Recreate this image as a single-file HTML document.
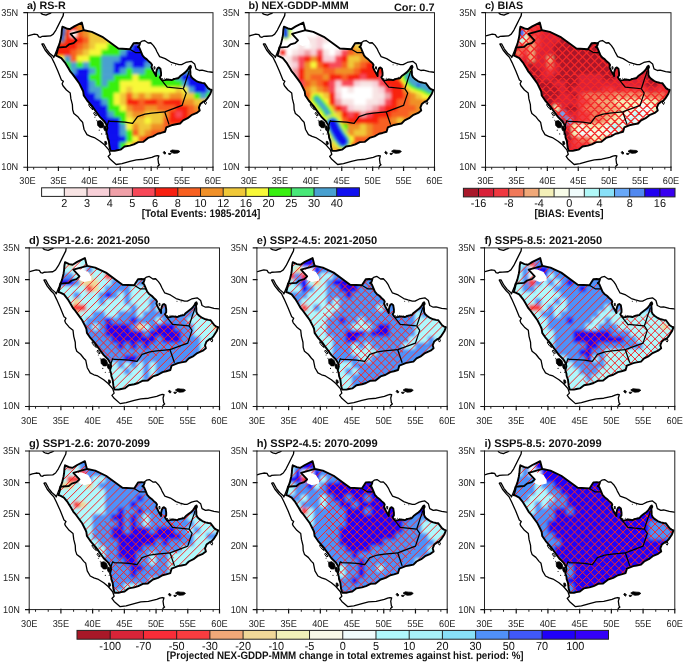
<!DOCTYPE html><html><head><meta charset="utf-8"><style>html,body{margin:0;padding:0;background:#fff;}svg{display:block;}text{font-family:"Liberation Sans",sans-serif;text-rendering:geometricPrecision;}svg{opacity:0.999}</style></head><body>
<svg width="685" height="663" viewBox="0 0 685 663">
<rect width="685" height="663" fill="#fff"/>
<defs><filter id="bl" x="-5%" y="-5%" width="110%" height="110%"><feGaussianBlur stdDeviation="1.6"/></filter></defs>
<defs><clipPath id="landa"><path d="M58.17 47.2 L59.53 43.61 L60.89 38.05 L61.51 34.34 L61.82 30.01 L62.43 26.61 L66.45 28.47 L69.85 29.08 L74.24 26.36 L81.79 22.59 L83.52 29.27 L84.14 30.2 L91.8 31.87 L102.31 36.81 L118.39 48.56 L129.83 49.18 L133.6 43.31 L136.94 43 L140.03 43.49 L139.1 46.09 L137.87 47.02 L139.41 47.94 L141.39 52.58 L142.5 55.36 L144.36 57.53 L146.83 59.38 L149 61.55 L151.16 63.4 L152.09 64.95 L151.47 67.11 L152.4 69.27 L153.32 71.13 L154.56 73.29 L156.11 76.08 L156.11 72.68 L156.72 70.2 L157.65 68.04 L158.89 67.42 L160.43 68.66 L161.05 72.68 L161.05 75.46 L159.82 77.31 L161.05 79.17 L162.29 80.4 L164.76 80.09 L167.85 79.48 L171.56 80.09 L174.66 78.86 L178.37 78.24 L180.22 76.08 L182.69 74.22 L185.17 72.37 L187.02 70.51 L188.57 68.35 L189.49 66.49 L190.55 65.75 L191.04 67.11 L190.11 68.97 L190.42 72.06 L190.42 74.84 L191.35 77 L193.2 78.86 L196.3 81.02 L199.39 82.26 L202.11 82.88 L204.33 83.19 L206.19 85.66 L208.04 88.13 L209.9 89.37 L211.75 89.99 L210.21 94.01 L207.18 98.64 L205.26 100.81 L203.47 101.61 L200.38 103.9 L198.89 107.61 L199.76 110.58 L196.73 112.93 L191.41 115.21 L187.64 118.18 L183.13 120.41 L180.1 123.5 L175.89 124.3 L172.49 124.98 L166.31 127.46 L165.07 131.72 L161.05 132.96 L157.53 133.76 L153.01 136.36 L148.07 137.97 L143.12 141.92 L138.3 142.17 L133.85 144.4 L129.89 145.63 L124.57 146.56 L120.49 149.65 L117.15 150.27 L114.68 150.89 L110.66 150.89 L109.55 146.99 L108.87 141.18 L107.57 137.6 L107.38 135.31 L106.33 132.03 L107.38 128.01 L106.64 125.11 L104.48 121.46 L100.15 117.19 L95.82 111.32 L92.11 106.06 L87.17 100.5 L83.77 95.55 L83.15 91.22 L81.91 88.75 L79.13 83.19 L76.78 79.91 L72.33 73.91 L70.41 71.69 L68.31 68.04 L66.76 65.5 L64.97 62.6 L61.32 58.08 L57.8 56.29 L55.94 55.67 L56.87 52.89 L57.8 49.18 Z"/></clipPath>
<clipPath id="fra"><rect x="27.5" y="12.7" width="185.49" height="154.57"/></clipPath></defs>
<g clip-path="url(#landa)"><g filter="url(#bl)">
<rect x="51.93" y="18.58" width="19.15" height="6.78" fill="#f82010"/>
<rect x="70.48" y="18.58" width="6.78" height="6.78" fill="#f86020"/>
<rect x="76.66" y="18.58" width="12.97" height="6.78" fill="#f09028"/>
<rect x="89.03" y="18.58" width="124.26" height="6.78" fill="#f0c838"/>
<rect x="51.93" y="24.77" width="25.33" height="6.78" fill="#f82010"/>
<rect x="76.66" y="24.77" width="12.97" height="6.78" fill="#f09028"/>
<rect x="89.03" y="24.77" width="124.26" height="6.78" fill="#f0c838"/>
<rect x="51.93" y="30.95" width="19.15" height="6.78" fill="#f82010"/>
<rect x="70.48" y="30.95" width="6.78" height="6.78" fill="#ffffff"/>
<rect x="76.66" y="30.95" width="6.78" height="6.78" fill="#f86020"/>
<rect x="82.85" y="30.95" width="6.78" height="6.78" fill="#f09028"/>
<rect x="89.03" y="30.95" width="124.26" height="6.78" fill="#f0c838"/>
<rect x="51.93" y="37.13" width="31.52" height="6.78" fill="#f82010"/>
<rect x="82.85" y="37.13" width="6.78" height="6.78" fill="#f86020"/>
<rect x="89.03" y="37.13" width="19.15" height="6.78" fill="#f0c838"/>
<rect x="107.58" y="37.13" width="105.71" height="6.78" fill="#f8f838"/>
<rect x="51.93" y="43.31" width="25.33" height="6.78" fill="#f82010"/>
<rect x="76.66" y="43.31" width="6.78" height="6.78" fill="#f86020"/>
<rect x="82.85" y="43.31" width="6.78" height="6.78" fill="#f09028"/>
<rect x="89.03" y="43.31" width="6.78" height="6.78" fill="#f0c838"/>
<rect x="95.21" y="43.31" width="12.97" height="6.78" fill="#f8f838"/>
<rect x="107.58" y="43.31" width="19.15" height="6.78" fill="#38f010"/>
<rect x="126.13" y="43.31" width="6.78" height="6.78" fill="#48a0d0"/>
<rect x="132.31" y="43.31" width="80.98" height="6.78" fill="#1010f0"/>
<rect x="51.93" y="49.5" width="19.15" height="6.78" fill="#f82010"/>
<rect x="70.48" y="49.5" width="6.78" height="6.78" fill="#f86020"/>
<rect x="76.66" y="49.5" width="6.78" height="6.78" fill="#f09028"/>
<rect x="82.85" y="49.5" width="6.78" height="6.78" fill="#f0c838"/>
<rect x="89.03" y="49.5" width="12.97" height="6.78" fill="#f8f838"/>
<rect x="101.4" y="49.5" width="19.15" height="6.78" fill="#38f010"/>
<rect x="119.95" y="49.5" width="6.78" height="6.78" fill="#48a0d0"/>
<rect x="126.13" y="49.5" width="87.16" height="6.78" fill="#1010f0"/>
<rect x="51.93" y="55.68" width="12.97" height="6.78" fill="#f8f838"/>
<rect x="64.3" y="55.68" width="6.78" height="6.78" fill="#48a0d0"/>
<rect x="70.48" y="55.68" width="6.78" height="6.78" fill="#f86020"/>
<rect x="76.66" y="55.68" width="12.97" height="6.78" fill="#f8f838"/>
<rect x="89.03" y="55.68" width="12.97" height="6.78" fill="#38f010"/>
<rect x="101.4" y="55.68" width="19.15" height="6.78" fill="#48a0d0"/>
<rect x="119.95" y="55.68" width="93.34" height="6.78" fill="#1010f0"/>
<rect x="51.93" y="61.86" width="19.15" height="6.78" fill="#38f010"/>
<rect x="70.48" y="61.86" width="6.78" height="6.78" fill="#48a0d0"/>
<rect x="76.66" y="61.86" width="6.78" height="6.78" fill="#38f010"/>
<rect x="82.85" y="61.86" width="6.78" height="6.78" fill="#48a0d0"/>
<rect x="89.03" y="61.86" width="12.97" height="6.78" fill="#38f010"/>
<rect x="101.4" y="61.86" width="12.97" height="6.78" fill="#48a0d0"/>
<rect x="113.76" y="61.86" width="12.97" height="6.78" fill="#1010f0"/>
<rect x="126.13" y="61.86" width="6.78" height="6.78" fill="#48a0d0"/>
<rect x="132.31" y="61.86" width="12.97" height="6.78" fill="#1010f0"/>
<rect x="144.68" y="61.86" width="68.61" height="6.78" fill="#48a0d0"/>
<rect x="51.93" y="68.05" width="19.15" height="6.78" fill="#38f010"/>
<rect x="70.48" y="68.05" width="6.78" height="6.78" fill="#48a0d0"/>
<rect x="76.66" y="68.05" width="12.97" height="6.78" fill="#1010f0"/>
<rect x="89.03" y="68.05" width="6.78" height="6.78" fill="#48a0d0"/>
<rect x="95.21" y="68.05" width="6.78" height="6.78" fill="#38f010"/>
<rect x="101.4" y="68.05" width="12.97" height="6.78" fill="#48a0d0"/>
<rect x="113.76" y="68.05" width="6.78" height="6.78" fill="#1010f0"/>
<rect x="119.95" y="68.05" width="6.78" height="6.78" fill="#48a0d0"/>
<rect x="126.13" y="68.05" width="6.78" height="6.78" fill="#38f010"/>
<rect x="132.31" y="68.05" width="12.97" height="6.78" fill="#48a0d0"/>
<rect x="144.68" y="68.05" width="12.97" height="6.78" fill="#38f010"/>
<rect x="157.04" y="68.05" width="56.25" height="6.78" fill="#48a0d0"/>
<rect x="51.93" y="74.23" width="37.7" height="6.78" fill="#1010f0"/>
<rect x="89.03" y="74.23" width="12.97" height="6.78" fill="#38f010"/>
<rect x="101.4" y="74.23" width="12.97" height="6.78" fill="#48a0d0"/>
<rect x="113.76" y="74.23" width="19.15" height="6.78" fill="#38f010"/>
<rect x="132.31" y="74.23" width="6.78" height="6.78" fill="#f8f838"/>
<rect x="138.49" y="74.23" width="37.7" height="6.78" fill="#38f010"/>
<rect x="175.59" y="74.23" width="6.78" height="6.78" fill="#48a0d0"/>
<rect x="181.77" y="74.23" width="31.52" height="6.78" fill="#1010f0"/>
<rect x="51.93" y="80.41" width="37.7" height="6.78" fill="#1010f0"/>
<rect x="89.03" y="80.41" width="6.78" height="6.78" fill="#48a0d0"/>
<rect x="95.21" y="80.41" width="6.78" height="6.78" fill="#38f010"/>
<rect x="101.4" y="80.41" width="6.78" height="6.78" fill="#48a0d0"/>
<rect x="107.58" y="80.41" width="12.97" height="6.78" fill="#38f010"/>
<rect x="119.95" y="80.41" width="31.52" height="6.78" fill="#f8f838"/>
<rect x="150.86" y="80.41" width="31.52" height="6.78" fill="#38f010"/>
<rect x="181.77" y="80.41" width="6.78" height="6.78" fill="#48a0d0"/>
<rect x="187.96" y="80.41" width="25.33" height="6.78" fill="#1010f0"/>
<rect x="51.93" y="86.6" width="37.7" height="6.78" fill="#1010f0"/>
<rect x="89.03" y="86.6" width="12.97" height="6.78" fill="#48a0d0"/>
<rect x="101.4" y="86.6" width="19.15" height="6.78" fill="#38f010"/>
<rect x="119.95" y="86.6" width="6.78" height="6.78" fill="#f8f838"/>
<rect x="126.13" y="86.6" width="6.78" height="6.78" fill="#f0c838"/>
<rect x="132.31" y="86.6" width="43.88" height="6.78" fill="#f8f838"/>
<rect x="175.59" y="86.6" width="6.78" height="6.78" fill="#f0c838"/>
<rect x="181.77" y="86.6" width="6.78" height="6.78" fill="#f8f838"/>
<rect x="187.96" y="86.6" width="6.78" height="6.78" fill="#48a0d0"/>
<rect x="194.14" y="86.6" width="12.97" height="6.78" fill="#1010f0"/>
<rect x="206.51" y="86.6" width="6.78" height="6.78" fill="#48a0d0"/>
<rect x="51.93" y="92.78" width="43.88" height="6.78" fill="#1010f0"/>
<rect x="95.21" y="92.78" width="6.78" height="6.78" fill="#48a0d0"/>
<rect x="101.4" y="92.78" width="12.97" height="6.78" fill="#38f010"/>
<rect x="113.76" y="92.78" width="6.78" height="6.78" fill="#f8f838"/>
<rect x="119.95" y="92.78" width="6.78" height="6.78" fill="#f0c838"/>
<rect x="126.13" y="92.78" width="6.78" height="6.78" fill="#f86020"/>
<rect x="132.31" y="92.78" width="6.78" height="6.78" fill="#f0c838"/>
<rect x="138.49" y="92.78" width="6.78" height="6.78" fill="#f09028"/>
<rect x="144.68" y="92.78" width="6.78" height="6.78" fill="#f0c838"/>
<rect x="150.86" y="92.78" width="12.97" height="6.78" fill="#f09028"/>
<rect x="163.23" y="92.78" width="6.78" height="6.78" fill="#f0c838"/>
<rect x="169.41" y="92.78" width="12.97" height="6.78" fill="#f09028"/>
<rect x="181.77" y="92.78" width="12.97" height="6.78" fill="#f0c838"/>
<rect x="194.14" y="92.78" width="6.78" height="6.78" fill="#38f010"/>
<rect x="200.32" y="92.78" width="6.78" height="6.78" fill="#48a0d0"/>
<rect x="206.51" y="92.78" width="6.78" height="6.78" fill="#38f010"/>
<rect x="51.93" y="98.96" width="50.06" height="6.78" fill="#1010f0"/>
<rect x="101.4" y="98.96" width="6.78" height="6.78" fill="#48a0d0"/>
<rect x="107.58" y="98.96" width="6.78" height="6.78" fill="#38f010"/>
<rect x="113.76" y="98.96" width="6.78" height="6.78" fill="#f8f838"/>
<rect x="119.95" y="98.96" width="6.78" height="6.78" fill="#f0c838"/>
<rect x="126.13" y="98.96" width="12.97" height="6.78" fill="#f82010"/>
<rect x="138.49" y="98.96" width="6.78" height="6.78" fill="#f86020"/>
<rect x="144.68" y="98.96" width="12.97" height="6.78" fill="#f82010"/>
<rect x="157.04" y="98.96" width="6.78" height="6.78" fill="#f86020"/>
<rect x="163.23" y="98.96" width="19.15" height="6.78" fill="#f82010"/>
<rect x="181.77" y="98.96" width="12.97" height="6.78" fill="#f09028"/>
<rect x="194.14" y="98.96" width="19.15" height="6.78" fill="#f0c838"/>
<rect x="51.93" y="105.15" width="56.25" height="6.78" fill="#1010f0"/>
<rect x="107.58" y="105.15" width="12.97" height="6.78" fill="#38f010"/>
<rect x="119.95" y="105.15" width="6.78" height="6.78" fill="#f8f838"/>
<rect x="126.13" y="105.15" width="6.78" height="6.78" fill="#f09028"/>
<rect x="132.31" y="105.15" width="12.97" height="6.78" fill="#f86020"/>
<rect x="144.68" y="105.15" width="12.97" height="6.78" fill="#f09028"/>
<rect x="157.04" y="105.15" width="19.15" height="6.78" fill="#f86020"/>
<rect x="175.59" y="105.15" width="12.97" height="6.78" fill="#f82010"/>
<rect x="187.96" y="105.15" width="6.78" height="6.78" fill="#f86020"/>
<rect x="194.14" y="105.15" width="19.15" height="6.78" fill="#f09028"/>
<rect x="51.93" y="111.33" width="56.25" height="6.78" fill="#1010f0"/>
<rect x="107.58" y="111.33" width="6.78" height="6.78" fill="#48a0d0"/>
<rect x="113.76" y="111.33" width="12.97" height="6.78" fill="#38f010"/>
<rect x="126.13" y="111.33" width="6.78" height="6.78" fill="#f0c838"/>
<rect x="132.31" y="111.33" width="12.97" height="6.78" fill="#f09028"/>
<rect x="144.68" y="111.33" width="19.15" height="6.78" fill="#f0c838"/>
<rect x="163.23" y="111.33" width="6.78" height="6.78" fill="#f09028"/>
<rect x="169.41" y="111.33" width="6.78" height="6.78" fill="#f82010"/>
<rect x="175.59" y="111.33" width="6.78" height="6.78" fill="#f84858"/>
<rect x="181.77" y="111.33" width="6.78" height="6.78" fill="#f82010"/>
<rect x="187.96" y="111.33" width="25.33" height="6.78" fill="#f86020"/>
<rect x="51.93" y="117.51" width="68.61" height="6.78" fill="#1010f0"/>
<rect x="119.95" y="117.51" width="6.78" height="6.78" fill="#38f010"/>
<rect x="126.13" y="117.51" width="6.78" height="6.78" fill="#f8f838"/>
<rect x="132.31" y="117.51" width="12.97" height="6.78" fill="#f0c838"/>
<rect x="144.68" y="117.51" width="6.78" height="6.78" fill="#f8f838"/>
<rect x="150.86" y="117.51" width="12.97" height="6.78" fill="#f0c838"/>
<rect x="163.23" y="117.51" width="6.78" height="6.78" fill="#f86020"/>
<rect x="169.41" y="117.51" width="43.88" height="6.78" fill="#f82010"/>
<rect x="51.93" y="123.69" width="68.61" height="6.78" fill="#1010f0"/>
<rect x="119.95" y="123.69" width="6.78" height="6.78" fill="#48a0d0"/>
<rect x="126.13" y="123.69" width="6.78" height="6.78" fill="#f8f838"/>
<rect x="132.31" y="123.69" width="6.78" height="6.78" fill="#f09028"/>
<rect x="138.49" y="123.69" width="12.97" height="6.78" fill="#f0c838"/>
<rect x="150.86" y="123.69" width="12.97" height="6.78" fill="#f09028"/>
<rect x="163.23" y="123.69" width="50.06" height="6.78" fill="#f86020"/>
<rect x="51.93" y="129.88" width="68.61" height="6.78" fill="#1010f0"/>
<rect x="119.95" y="129.88" width="6.78" height="6.78" fill="#48a0d0"/>
<rect x="126.13" y="129.88" width="6.78" height="6.78" fill="#38f010"/>
<rect x="132.31" y="129.88" width="6.78" height="6.78" fill="#f86020"/>
<rect x="138.49" y="129.88" width="6.78" height="6.78" fill="#f0c838"/>
<rect x="144.68" y="129.88" width="6.78" height="6.78" fill="#f09028"/>
<rect x="150.86" y="129.88" width="62.43" height="6.78" fill="#f86020"/>
<rect x="51.93" y="136.06" width="74.8" height="6.78" fill="#1010f0"/>
<rect x="126.13" y="136.06" width="6.78" height="6.78" fill="#38f010"/>
<rect x="132.31" y="136.06" width="6.78" height="6.78" fill="#f8f838"/>
<rect x="138.49" y="136.06" width="6.78" height="6.78" fill="#f86020"/>
<rect x="144.68" y="136.06" width="68.61" height="6.78" fill="#f82010"/>
<rect x="51.93" y="142.24" width="68.61" height="6.78" fill="#1010f0"/>
<rect x="119.95" y="142.24" width="6.78" height="6.78" fill="#38f010"/>
<rect x="126.13" y="142.24" width="6.78" height="6.78" fill="#f8f838"/>
<rect x="132.31" y="142.24" width="80.98" height="6.78" fill="#f86020"/>
<rect x="51.93" y="148.43" width="68.61" height="6.78" fill="#1010f0"/>
<rect x="119.95" y="148.43" width="93.34" height="6.78" fill="#48a0d0"/>
<path d="M63.98 27.85 L63.05 34.34 L62.25 40.52" fill="none" stroke="#38f010" stroke-width="4.64" stroke-linecap="round" stroke-linejoin="round"/>
<path d="M63.98 27.85 L63.05 34.34 L62.25 40.52" fill="none" stroke="#1010f0" stroke-width="2.78" stroke-linecap="round" stroke-linejoin="round"/>
</g>
</g>
<g clip-path="url(#fra)" fill="none" stroke="#000" stroke-linejoin="round">
<path d="M26.88 36.2 L30.59 35.02 L34.24 34.16 L37.39 34.59 L38.75 36.88 L40.55 37.31 L41.91 36.44 L45.06 36.26 L50.5 35.95 L53.22 34.16 L55.94 30.07 L58.66 24.63 L61.32 19.25 L63.18 15.61 L63.61 12.08" stroke-width="1.3"/>
<path d="M40.48 12.08 L41.41 13.63 L42.83 14.43 L45.99 15.17 L48.71 13.94 L50.38 13.32 L51.86 12.08" stroke-width="1.3"/>
<path d="M57.8 46.83 L56.81 49.98 L55.01 54.5 L53.78 57.53 L53.22 56.29 L49.57 53.14 L46.42 49.06 L43.58 43.8 L42.34 43.8 L41.91 44.11 L45.06 49.98 L48.71 54.5 L51.43 57.22 L54.09 62.6 L57.73 70.76 L61.44 79.91 L63.36 81.33 L62.12 83.8 L62.93 85.72 L66.45 89.99 L70.22 93.08 L70.9 98.89 L72.39 104.7 L72.64 109.77 L73.87 113.48 L77.58 116.39 L80.67 120.28 L82.59 122.2 L84.07 129.5 L86.98 134.57 L90.57 136.36 L94.28 137.53 L100.09 141.18 L104.48 144.83 L108.87 149.9 L110.29 154.29 L108.13 156.45 L110.29 159.36 L116.16 164.49 L121.98 163.57 L129.89 161.4 L136.32 159.86 L143.74 159.24 L151.78 157.38 L154.87 156.15 L157.22 155.53 L158.89 155.84 L157.96 158.99 L158.58 163.57 L159.51 164.8 L157.96 166.04 L157.34 168.51" stroke-width="1.3"/>
<path d="M138.79 43.61 L141.89 41.14 L144.54 40.52 L148.07 43 L150.73 42.75 L153.45 45.59 L155.49 48.56 L156.97 51.78 L159.63 56.6 L165.13 58.58 L170.64 62.04 L174.72 63.4 L178.98 64.64 L181.64 64.64 L185.78 62.47 L188.44 61.85 L191.23 61.36 L194.63 64.02 L195.99 68.84 L199.39 70.51 L202.11 70.2 L207.61 71.62 L212.37 72.24 L214.23 72.68" stroke-width="1.3"/>
<path d="M153.94 66.8 L154.99 66.8 L154.87 69.27 L154.25 68.97 Z" stroke-width="1" fill="#fff"/>
<path d="M204.95 101.12 L206.5 102.35 L205.57 104.52 L204.33 102.97 Z" stroke-width="1" fill="#fff"/>
<path d="M88.71 104.21 L91.18 106.06 L93.04 109.77 L91.18 108.54 L89.02 105.75 Z" stroke-width="1" fill="#fff"/>
<path d="M94.28 112.25 L96.75 115.34 L95.51 115.96 L93.66 113.48 Z" stroke-width="1" fill="#fff"/>
<path d="M170.02 151.2 L172.18 149.96 L175.27 150.27 L178.37 150.46 L179.91 151.51 L177.75 153.05 L174.04 153.36 L171.56 152.44 Z" stroke-width="0.8" fill="#000"/>
<path d="M163.22 152.74 L164.14 151.2 L166 153.05 L164.76 154.29 Z" stroke-width="0.8" fill="#000"/>
<path d="M168.47 153.36 L171.25 153.36 L170.33 154.6 L168.78 154.41 Z" stroke-width="0.8" fill="#000"/>
<path d="M97.37 121.21 L100.46 120.59 L102.93 122.45 L103.86 125.23 L102.62 127.7 L99.84 127.7 L97.68 125.23 Z" stroke-width="0.8" fill="#000"/>
<path d="M103.55 126.47 L105.41 125.85 L106.33 128.32 L106.02 130.8 L104.79 130.8 L103.86 128.94 Z" stroke-width="0.8" fill="#000"/>
<path d="M104.79 141.31 L106.33 141.62 L106.95 144.09 L105.41 145.02 L104.79 143.16 Z" stroke-width="0.8" fill="#000"/>
<circle cx="105.41" cy="133.89" r="0.5" fill="#000" stroke="none"/>
<circle cx="69.54" cy="70.2" r="0.5" fill="#000" stroke="none"/>
<circle cx="71.4" cy="72.68" r="0.5" fill="#000" stroke="none"/>
<circle cx="82.53" cy="90.61" r="0.5" fill="#000" stroke="none"/>
<circle cx="99.22" cy="130.18" r="0.56" fill="#000" stroke="none"/>
<circle cx="101.7" cy="133.89" r="0.56" fill="#000" stroke="none"/>
<circle cx="96.75" cy="120.28" r="0.5" fill="#000" stroke="none"/>
<circle cx="94.89" cy="117.19" r="0.5" fill="#000" stroke="none"/>
<circle cx="166.62" cy="78.86" r="0.5" fill="#000" stroke="none"/>
<circle cx="170.33" cy="79.17" r="0.5" fill="#000" stroke="none"/>
<circle cx="175.89" cy="78.24" r="0.5" fill="#000" stroke="none"/>
<circle cx="175.58" cy="65.07" r="0.5" fill="#000" stroke="none"/>
<circle cx="171.56" cy="64.64" r="0.5" fill="#000" stroke="none"/>
<circle cx="164.76" cy="78.24" r="0.5" fill="#000" stroke="none"/>
<circle cx="162.29" cy="78.55" r="0.5" fill="#000" stroke="none"/>
<circle cx="173.42" cy="78.55" r="0.5" fill="#000" stroke="none"/>
<circle cx="177.13" cy="77.31" r="0.5" fill="#000" stroke="none"/>
<path d="M84.14 30.2 L70.47 33.97 L76.53 40.4 L73.63 43.06 L68.93 44.48 L66.08 46.83 L60.27 47.32 L58.11 47.45" stroke-width="1.8"/>
<path d="M129.83 49.18 L135.39 52.58 L141.39 52.64" stroke-width="1.25"/>
<path d="M161.05 79.17 L163.53 82.57 L167.24 87.21 L183.31 88.75" stroke-width="1.25"/>
<path d="M183.31 88.75 L186.22 93.08 L183.81 100.13 L182.07 105.45 L164.76 111.94" stroke-width="1.25"/>
<path d="M183.31 88.75 L185.17 83.19 L186.53 78.86 L188.44 73.54 L189.12 70.82" stroke-width="1.25"/>
<path d="M164.76 111.94 L151.78 113.17 L144.98 114.1 L137.56 116.57 L132.61 123.38 L124.88 122.2 L117.15 121.64 L110.35 121.46 L108.87 120.72 L107.88 123.38 L106.95 126.47" stroke-width="1.25"/>
<path d="M164.76 111.94 L169.09 124.67" stroke-width="1.25"/>
<path d="M58.17 47.2 L59.53 43.61 L60.89 38.05 L61.51 34.34 L61.82 30.01 L62.43 26.61 L66.45 28.47 L69.85 29.08 L74.24 26.36 L81.79 22.59 L83.52 29.27 L84.14 30.2 L91.8 31.87 L102.31 36.81 L118.39 48.56 L129.83 49.18 L133.6 43.31 L136.94 43 L140.03 43.49 L139.1 46.09 L137.87 47.02 L139.41 47.94 L141.39 52.58 L142.5 55.36 L144.36 57.53 L146.83 59.38 L149 61.55 L151.16 63.4 L152.09 64.95 L151.47 67.11 L152.4 69.27 L153.32 71.13 L154.56 73.29 L156.11 76.08 L156.11 72.68 L156.72 70.2 L157.65 68.04 L158.89 67.42 L160.43 68.66 L161.05 72.68 L161.05 75.46 L159.82 77.31 L161.05 79.17 L162.29 80.4 L164.76 80.09 L167.85 79.48 L171.56 80.09 L174.66 78.86 L178.37 78.24 L180.22 76.08 L182.69 74.22 L185.17 72.37 L187.02 70.51 L188.57 68.35 L189.49 66.49 L190.55 65.75 L191.04 67.11 L190.11 68.97 L190.42 72.06 L190.42 74.84 L191.35 77 L193.2 78.86 L196.3 81.02 L199.39 82.26 L202.11 82.88 L204.33 83.19 L206.19 85.66 L208.04 88.13 L209.9 89.37 L211.75 89.99 L210.21 94.01 L207.18 98.64 L205.26 100.81 L203.47 101.61 L200.38 103.9 L198.89 107.61 L199.76 110.58 L196.73 112.93 L191.41 115.21 L187.64 118.18 L183.13 120.41 L180.1 123.5 L175.89 124.3 L172.49 124.98 L166.31 127.46 L165.07 131.72 L161.05 132.96 L157.53 133.76 L153.01 136.36 L148.07 137.97 L143.12 141.92 L138.3 142.17 L133.85 144.4 L129.89 145.63 L124.57 146.56 L120.49 149.65 L117.15 150.27 L114.68 150.89 L110.66 150.89 L109.55 146.99 L108.87 141.18 L107.57 137.6 L107.38 135.31 L106.33 132.03 L107.38 128.01 L106.64 125.11 L104.48 121.46 L100.15 117.19 L95.82 111.32 L92.11 106.06 L87.17 100.5 L83.77 95.55 L83.15 91.22 L81.91 88.75 L79.13 83.19 L76.78 79.91 L72.33 73.91 L70.41 71.69 L68.31 68.04 L66.76 65.5 L64.97 62.6 L61.32 58.08 L57.8 56.29 L55.94 55.67 L56.87 52.89 L57.8 49.18 Z" stroke-width="1.9"/>
</g>
<rect x="27.5" y="12.7" width="185.49" height="154.57" fill="none" stroke="#222" stroke-width="1"/>
<path d="M27.5 166.47 v4.6 M58.41 166.47 v4.6 M89.33 166.47 v4.6 M120.25 166.47 v4.6 M151.16 166.47 v4.6 M182.07 166.47 v4.6 M212.99 166.47 v4.6 M28.1 167.27 h-4.8 M28.1 136.36 h-4.8 M28.1 105.45 h-4.8 M28.1 74.53 h-4.8 M28.1 43.61 h-4.8 M28.1 12.7 h-4.8" stroke="#111" stroke-width="1.2" fill="none"/>
<path d="M33.68 167.27 v2.2 M46.05 167.27 v2.2 M70.78 167.27 v2.2 M83.15 167.27 v2.2 M95.51 167.27 v2.2 M107.88 167.27 v2.2 M132.61 167.27 v2.2 M144.98 167.27 v2.2 M157.34 167.27 v2.2 M169.71 167.27 v2.2 M194.44 167.27 v2.2 M206.81 167.27 v2.2" stroke="#222" stroke-width="1" fill="none"/>
<g font-size="9.2" fill="#222"><text transform="translate(27.5 184.47) scale(1 1.08)" text-anchor="middle">30E</text><text transform="translate(58.41 184.47) scale(1 1.08)" text-anchor="middle">35E</text><text transform="translate(89.33 184.47) scale(1 1.08)" text-anchor="middle">40E</text><text transform="translate(120.25 184.47) scale(1 1.08)" text-anchor="middle">45E</text><text transform="translate(151.16 184.47) scale(1 1.08)" text-anchor="middle">50E</text><text transform="translate(182.07 184.47) scale(1 1.08)" text-anchor="middle">55E</text><text transform="translate(212.99 184.47) scale(1 1.08)" text-anchor="middle">60E</text><text transform="translate(18.2 170.27) scale(1 1.08)" text-anchor="end">10N</text><text transform="translate(18.2 139.36) scale(1 1.08)" text-anchor="end">15N</text><text transform="translate(18.2 108.45) scale(1 1.08)" text-anchor="end">20N</text><text transform="translate(18.2 77.53) scale(1 1.08)" text-anchor="end">25N</text><text transform="translate(18.2 46.61) scale(1 1.08)" text-anchor="end">30N</text><text transform="translate(18.2 15.7) scale(1 1.08)" text-anchor="end">35N</text></g>
<text x="26.9" y="8.8" font-size="10.75" font-weight="bold" fill="#111">a) RS-R</text>
<defs><clipPath id="landb"><path d="M279.67 47.2 L281.03 43.61 L282.39 38.05 L283.01 34.34 L283.32 30.01 L283.93 26.61 L287.95 28.47 L291.35 29.08 L295.74 26.36 L303.29 22.59 L305.02 29.27 L305.64 30.2 L313.3 31.87 L323.81 36.81 L339.89 48.56 L351.33 49.18 L355.1 43.31 L358.44 43 L361.53 43.49 L360.6 46.09 L359.37 47.02 L360.91 47.94 L362.89 52.58 L364 55.36 L365.86 57.53 L368.33 59.38 L370.5 61.55 L372.66 63.4 L373.59 64.95 L372.97 67.11 L373.9 69.27 L374.82 71.13 L376.06 73.29 L377.61 76.08 L377.61 72.68 L378.22 70.2 L379.15 68.04 L380.39 67.42 L381.93 68.66 L382.55 72.68 L382.55 75.46 L381.32 77.31 L382.55 79.17 L383.79 80.4 L386.26 80.09 L389.35 79.48 L393.06 80.09 L396.16 78.86 L399.87 78.24 L401.72 76.08 L404.19 74.22 L406.67 72.37 L408.52 70.51 L410.07 68.35 L410.99 66.49 L412.05 65.75 L412.54 67.11 L411.61 68.97 L411.92 72.06 L411.92 74.84 L412.85 77 L414.7 78.86 L417.8 81.02 L420.89 82.26 L423.61 82.88 L425.83 83.19 L427.69 85.66 L429.54 88.13 L431.4 89.37 L433.25 89.99 L431.71 94.01 L428.68 98.64 L426.76 100.81 L424.97 101.61 L421.88 103.9 L420.39 107.61 L421.26 110.58 L418.23 112.93 L412.91 115.21 L409.14 118.18 L404.63 120.41 L401.6 123.5 L397.39 124.3 L393.99 124.98 L387.81 127.46 L386.57 131.72 L382.55 132.96 L379.03 133.76 L374.51 136.36 L369.57 137.97 L364.62 141.92 L359.8 142.17 L355.35 144.4 L351.39 145.63 L346.07 146.56 L341.99 149.65 L338.65 150.27 L336.18 150.89 L332.16 150.89 L331.05 146.99 L330.37 141.18 L329.07 137.6 L328.88 135.31 L327.83 132.03 L328.88 128.01 L328.14 125.11 L325.98 121.46 L321.65 117.19 L317.32 111.32 L313.61 106.06 L308.67 100.5 L305.27 95.55 L304.65 91.22 L303.41 88.75 L300.63 83.19 L298.28 79.91 L293.83 73.91 L291.91 71.69 L289.81 68.04 L288.26 65.5 L286.47 62.6 L282.82 58.08 L279.3 56.29 L277.44 55.67 L278.37 52.89 L279.3 49.18 Z"/></clipPath>
<clipPath id="frb"><rect x="249" y="12.7" width="185.49" height="154.57"/></clipPath></defs>
<g clip-path="url(#landb)"><g filter="url(#bl)">
<rect x="273.43" y="18.58" width="161.36" height="6.78" fill="#ffffff"/>
<rect x="273.43" y="24.77" width="6.78" height="6.78" fill="#ffffff"/>
<rect x="279.62" y="24.77" width="6.78" height="6.78" fill="#1010f0"/>
<rect x="285.8" y="24.77" width="6.78" height="6.78" fill="#38f010"/>
<rect x="291.98" y="24.77" width="142.81" height="6.78" fill="#ffffff"/>
<rect x="273.43" y="30.95" width="6.78" height="6.78" fill="#ffffff"/>
<rect x="279.62" y="30.95" width="6.78" height="6.78" fill="#1010f0"/>
<rect x="285.8" y="30.95" width="6.78" height="6.78" fill="#f8f838"/>
<rect x="291.98" y="30.95" width="25.33" height="6.78" fill="#ffffff"/>
<rect x="316.71" y="30.95" width="12.97" height="6.78" fill="#f8e4e4"/>
<rect x="329.08" y="30.95" width="105.71" height="6.78" fill="#ffffff"/>
<rect x="273.43" y="37.13" width="31.52" height="6.78" fill="#ffffff"/>
<rect x="304.35" y="37.13" width="12.97" height="6.78" fill="#f8e4e4"/>
<rect x="316.71" y="37.13" width="6.78" height="6.78" fill="#f8d0d8"/>
<rect x="322.9" y="37.13" width="6.78" height="6.78" fill="#f8e4e4"/>
<rect x="329.08" y="37.13" width="105.71" height="6.78" fill="#ffffff"/>
<rect x="273.43" y="43.31" width="25.33" height="6.78" fill="#ffffff"/>
<rect x="298.16" y="43.31" width="6.78" height="6.78" fill="#f8e4e4"/>
<rect x="304.35" y="43.31" width="6.78" height="6.78" fill="#ffffff"/>
<rect x="310.53" y="43.31" width="6.78" height="6.78" fill="#f8e4e4"/>
<rect x="316.71" y="43.31" width="6.78" height="6.78" fill="#f8d0d8"/>
<rect x="322.9" y="43.31" width="19.15" height="6.78" fill="#ffffff"/>
<rect x="341.44" y="43.31" width="6.78" height="6.78" fill="#f8e4e4"/>
<rect x="347.63" y="43.31" width="6.78" height="6.78" fill="#f86020"/>
<rect x="353.81" y="43.31" width="6.78" height="6.78" fill="#f0c838"/>
<rect x="359.99" y="43.31" width="74.8" height="6.78" fill="#f8f838"/>
<rect x="273.43" y="49.5" width="6.78" height="6.78" fill="#ffffff"/>
<rect x="279.62" y="49.5" width="6.78" height="6.78" fill="#f82010"/>
<rect x="285.8" y="49.5" width="6.78" height="6.78" fill="#ffffff"/>
<rect x="291.98" y="49.5" width="6.78" height="6.78" fill="#f8e4e4"/>
<rect x="298.16" y="49.5" width="6.78" height="6.78" fill="#f8d0d8"/>
<rect x="304.35" y="49.5" width="6.78" height="6.78" fill="#f0a0a8"/>
<rect x="310.53" y="49.5" width="6.78" height="6.78" fill="#f8d0d8"/>
<rect x="316.71" y="49.5" width="6.78" height="6.78" fill="#f84858"/>
<rect x="322.9" y="49.5" width="6.78" height="6.78" fill="#f8e4e4"/>
<rect x="329.08" y="49.5" width="6.78" height="6.78" fill="#ffffff"/>
<rect x="335.26" y="49.5" width="6.78" height="6.78" fill="#f8d0d8"/>
<rect x="341.44" y="49.5" width="6.78" height="6.78" fill="#f84858"/>
<rect x="347.63" y="49.5" width="6.78" height="6.78" fill="#f86020"/>
<rect x="353.81" y="49.5" width="80.98" height="6.78" fill="#f09028"/>
<rect x="273.43" y="55.68" width="12.97" height="6.78" fill="#ffffff"/>
<rect x="285.8" y="55.68" width="6.78" height="6.78" fill="#f8e4e4"/>
<rect x="291.98" y="55.68" width="6.78" height="6.78" fill="#f0a0a8"/>
<rect x="298.16" y="55.68" width="6.78" height="6.78" fill="#f84858"/>
<rect x="304.35" y="55.68" width="6.78" height="6.78" fill="#f82010"/>
<rect x="310.53" y="55.68" width="6.78" height="6.78" fill="#f09028"/>
<rect x="316.71" y="55.68" width="6.78" height="6.78" fill="#f82010"/>
<rect x="322.9" y="55.68" width="12.97" height="6.78" fill="#f8d0d8"/>
<rect x="335.26" y="55.68" width="6.78" height="6.78" fill="#f84858"/>
<rect x="341.44" y="55.68" width="6.78" height="6.78" fill="#f82010"/>
<rect x="347.63" y="55.68" width="12.97" height="6.78" fill="#f0c838"/>
<rect x="359.99" y="55.68" width="74.8" height="6.78" fill="#f09028"/>
<rect x="273.43" y="61.86" width="12.97" height="6.78" fill="#ffffff"/>
<rect x="285.8" y="61.86" width="6.78" height="6.78" fill="#f8e4e4"/>
<rect x="291.98" y="61.86" width="6.78" height="6.78" fill="#f8d0d8"/>
<rect x="298.16" y="61.86" width="6.78" height="6.78" fill="#f84858"/>
<rect x="304.35" y="61.86" width="6.78" height="6.78" fill="#f09028"/>
<rect x="310.53" y="61.86" width="6.78" height="6.78" fill="#f8f838"/>
<rect x="316.71" y="61.86" width="6.78" height="6.78" fill="#f86020"/>
<rect x="322.9" y="61.86" width="6.78" height="6.78" fill="#f82010"/>
<rect x="329.08" y="61.86" width="12.97" height="6.78" fill="#f84858"/>
<rect x="341.44" y="61.86" width="6.78" height="6.78" fill="#f86020"/>
<rect x="347.63" y="61.86" width="6.78" height="6.78" fill="#f0c838"/>
<rect x="353.81" y="61.86" width="6.78" height="6.78" fill="#f09028"/>
<rect x="359.99" y="61.86" width="6.78" height="6.78" fill="#f86020"/>
<rect x="366.18" y="61.86" width="68.61" height="6.78" fill="#f82010"/>
<rect x="273.43" y="68.05" width="19.15" height="6.78" fill="#f8e4e4"/>
<rect x="291.98" y="68.05" width="6.78" height="6.78" fill="#f0a0a8"/>
<rect x="298.16" y="68.05" width="6.78" height="6.78" fill="#f82010"/>
<rect x="304.35" y="68.05" width="19.15" height="6.78" fill="#f09028"/>
<rect x="322.9" y="68.05" width="12.97" height="6.78" fill="#f86020"/>
<rect x="335.26" y="68.05" width="19.15" height="6.78" fill="#f09028"/>
<rect x="353.81" y="68.05" width="6.78" height="6.78" fill="#f86020"/>
<rect x="359.99" y="68.05" width="74.8" height="6.78" fill="#f82010"/>
<rect x="273.43" y="74.23" width="25.33" height="6.78" fill="#f0a0a8"/>
<rect x="298.16" y="74.23" width="6.78" height="6.78" fill="#f82010"/>
<rect x="304.35" y="74.23" width="6.78" height="6.78" fill="#f09028"/>
<rect x="310.53" y="74.23" width="12.97" height="6.78" fill="#f86020"/>
<rect x="322.9" y="74.23" width="6.78" height="6.78" fill="#f09028"/>
<rect x="329.08" y="74.23" width="12.97" height="6.78" fill="#f82010"/>
<rect x="341.44" y="74.23" width="6.78" height="6.78" fill="#f86020"/>
<rect x="347.63" y="74.23" width="12.97" height="6.78" fill="#f82010"/>
<rect x="359.99" y="74.23" width="6.78" height="6.78" fill="#f84858"/>
<rect x="366.18" y="74.23" width="12.97" height="6.78" fill="#f82010"/>
<rect x="378.54" y="74.23" width="6.78" height="6.78" fill="#f84858"/>
<rect x="384.73" y="74.23" width="12.97" height="6.78" fill="#f82010"/>
<rect x="397.09" y="74.23" width="6.78" height="6.78" fill="#f86020"/>
<rect x="403.27" y="74.23" width="6.78" height="6.78" fill="#f0c838"/>
<rect x="409.46" y="74.23" width="25.33" height="6.78" fill="#38f010"/>
<rect x="273.43" y="80.41" width="31.52" height="6.78" fill="#f84858"/>
<rect x="304.35" y="80.41" width="6.78" height="6.78" fill="#f86020"/>
<rect x="310.53" y="80.41" width="6.78" height="6.78" fill="#f09028"/>
<rect x="316.71" y="80.41" width="6.78" height="6.78" fill="#f86020"/>
<rect x="322.9" y="80.41" width="6.78" height="6.78" fill="#f82010"/>
<rect x="329.08" y="80.41" width="6.78" height="6.78" fill="#f84858"/>
<rect x="335.26" y="80.41" width="6.78" height="6.78" fill="#f8d0d8"/>
<rect x="341.44" y="80.41" width="12.97" height="6.78" fill="#f84858"/>
<rect x="353.81" y="80.41" width="6.78" height="6.78" fill="#f8d0d8"/>
<rect x="359.99" y="80.41" width="12.97" height="6.78" fill="#f8e4e4"/>
<rect x="372.36" y="80.41" width="6.78" height="6.78" fill="#f8d0d8"/>
<rect x="378.54" y="80.41" width="6.78" height="6.78" fill="#f84858"/>
<rect x="384.73" y="80.41" width="19.15" height="6.78" fill="#f82010"/>
<rect x="403.27" y="80.41" width="6.78" height="6.78" fill="#f86020"/>
<rect x="409.46" y="80.41" width="6.78" height="6.78" fill="#48e878"/>
<rect x="415.64" y="80.41" width="6.78" height="6.78" fill="#48a0d0"/>
<rect x="421.82" y="80.41" width="12.97" height="6.78" fill="#1010f0"/>
<rect x="273.43" y="86.6" width="31.52" height="6.78" fill="#f82010"/>
<rect x="304.35" y="86.6" width="6.78" height="6.78" fill="#f09028"/>
<rect x="310.53" y="86.6" width="6.78" height="6.78" fill="#f0c838"/>
<rect x="316.71" y="86.6" width="6.78" height="6.78" fill="#f09028"/>
<rect x="322.9" y="86.6" width="6.78" height="6.78" fill="#f86020"/>
<rect x="329.08" y="86.6" width="6.78" height="6.78" fill="#f84858"/>
<rect x="335.26" y="86.6" width="6.78" height="6.78" fill="#f8e4e4"/>
<rect x="341.44" y="86.6" width="6.78" height="6.78" fill="#ffffff"/>
<rect x="347.63" y="86.6" width="6.78" height="6.78" fill="#f8e4e4"/>
<rect x="353.81" y="86.6" width="19.15" height="6.78" fill="#ffffff"/>
<rect x="372.36" y="86.6" width="6.78" height="6.78" fill="#f8e4e4"/>
<rect x="378.54" y="86.6" width="6.78" height="6.78" fill="#f8d0d8"/>
<rect x="384.73" y="86.6" width="6.78" height="6.78" fill="#f84858"/>
<rect x="390.91" y="86.6" width="12.97" height="6.78" fill="#f82010"/>
<rect x="403.27" y="86.6" width="6.78" height="6.78" fill="#f09028"/>
<rect x="409.46" y="86.6" width="6.78" height="6.78" fill="#f0c838"/>
<rect x="415.64" y="86.6" width="6.78" height="6.78" fill="#38f010"/>
<rect x="421.82" y="86.6" width="12.97" height="6.78" fill="#48a0d0"/>
<rect x="273.43" y="92.78" width="37.7" height="6.78" fill="#f86020"/>
<rect x="310.53" y="92.78" width="6.78" height="6.78" fill="#f0c838"/>
<rect x="316.71" y="92.78" width="6.78" height="6.78" fill="#f8f838"/>
<rect x="322.9" y="92.78" width="6.78" height="6.78" fill="#f0c838"/>
<rect x="329.08" y="92.78" width="6.78" height="6.78" fill="#f82010"/>
<rect x="335.26" y="92.78" width="6.78" height="6.78" fill="#f8d0d8"/>
<rect x="341.44" y="92.78" width="31.52" height="6.78" fill="#ffffff"/>
<rect x="372.36" y="92.78" width="12.97" height="6.78" fill="#f8e4e4"/>
<rect x="384.73" y="92.78" width="6.78" height="6.78" fill="#f0a0a8"/>
<rect x="390.91" y="92.78" width="12.97" height="6.78" fill="#f82010"/>
<rect x="403.27" y="92.78" width="6.78" height="6.78" fill="#f86020"/>
<rect x="409.46" y="92.78" width="6.78" height="6.78" fill="#f09028"/>
<rect x="415.64" y="92.78" width="6.78" height="6.78" fill="#f0c838"/>
<rect x="421.82" y="92.78" width="6.78" height="6.78" fill="#f8f838"/>
<rect x="428.01" y="92.78" width="6.78" height="6.78" fill="#f0c838"/>
<rect x="273.43" y="98.96" width="37.7" height="6.78" fill="#f09028"/>
<rect x="310.53" y="98.96" width="6.78" height="6.78" fill="#f8f838"/>
<rect x="316.71" y="98.96" width="6.78" height="6.78" fill="#38f010"/>
<rect x="322.9" y="98.96" width="6.78" height="6.78" fill="#f8f838"/>
<rect x="329.08" y="98.96" width="6.78" height="6.78" fill="#f82010"/>
<rect x="335.26" y="98.96" width="6.78" height="6.78" fill="#f0a0a8"/>
<rect x="341.44" y="98.96" width="12.97" height="6.78" fill="#f8e4e4"/>
<rect x="353.81" y="98.96" width="12.97" height="6.78" fill="#ffffff"/>
<rect x="366.18" y="98.96" width="12.97" height="6.78" fill="#f8e4e4"/>
<rect x="378.54" y="98.96" width="6.78" height="6.78" fill="#f8d0d8"/>
<rect x="384.73" y="98.96" width="6.78" height="6.78" fill="#f84858"/>
<rect x="390.91" y="98.96" width="6.78" height="6.78" fill="#f82010"/>
<rect x="397.09" y="98.96" width="12.97" height="6.78" fill="#f86020"/>
<rect x="409.46" y="98.96" width="25.33" height="6.78" fill="#f09028"/>
<rect x="273.43" y="105.15" width="43.88" height="6.78" fill="#f0c838"/>
<rect x="316.71" y="105.15" width="6.78" height="6.78" fill="#48e878"/>
<rect x="322.9" y="105.15" width="6.78" height="6.78" fill="#48a0d0"/>
<rect x="329.08" y="105.15" width="6.78" height="6.78" fill="#f09028"/>
<rect x="335.26" y="105.15" width="6.78" height="6.78" fill="#f82010"/>
<rect x="341.44" y="105.15" width="6.78" height="6.78" fill="#f84858"/>
<rect x="347.63" y="105.15" width="6.78" height="6.78" fill="#f8d0d8"/>
<rect x="353.81" y="105.15" width="12.97" height="6.78" fill="#f8e4e4"/>
<rect x="366.18" y="105.15" width="6.78" height="6.78" fill="#f8d0d8"/>
<rect x="372.36" y="105.15" width="6.78" height="6.78" fill="#f0a0a8"/>
<rect x="378.54" y="105.15" width="6.78" height="6.78" fill="#f84858"/>
<rect x="384.73" y="105.15" width="12.97" height="6.78" fill="#f82010"/>
<rect x="397.09" y="105.15" width="19.15" height="6.78" fill="#f86020"/>
<rect x="415.64" y="105.15" width="19.15" height="6.78" fill="#f09028"/>
<rect x="273.43" y="111.33" width="50.06" height="6.78" fill="#f8f838"/>
<rect x="322.9" y="111.33" width="12.97" height="6.78" fill="#48a0d0"/>
<rect x="335.26" y="111.33" width="6.78" height="6.78" fill="#f0c838"/>
<rect x="341.44" y="111.33" width="6.78" height="6.78" fill="#f82010"/>
<rect x="347.63" y="111.33" width="6.78" height="6.78" fill="#f84858"/>
<rect x="353.81" y="111.33" width="6.78" height="6.78" fill="#f82010"/>
<rect x="359.99" y="111.33" width="6.78" height="6.78" fill="#f0a0a8"/>
<rect x="366.18" y="111.33" width="6.78" height="6.78" fill="#f84858"/>
<rect x="372.36" y="111.33" width="19.15" height="6.78" fill="#f82010"/>
<rect x="390.91" y="111.33" width="19.15" height="6.78" fill="#f86020"/>
<rect x="409.46" y="111.33" width="25.33" height="6.78" fill="#f09028"/>
<rect x="273.43" y="117.51" width="50.06" height="6.78" fill="#38f010"/>
<rect x="322.9" y="117.51" width="6.78" height="6.78" fill="#f8f838"/>
<rect x="329.08" y="117.51" width="6.78" height="6.78" fill="#48e878"/>
<rect x="335.26" y="117.51" width="6.78" height="6.78" fill="#f8f838"/>
<rect x="341.44" y="117.51" width="6.78" height="6.78" fill="#f86020"/>
<rect x="347.63" y="117.51" width="31.52" height="6.78" fill="#f82010"/>
<rect x="378.54" y="117.51" width="12.97" height="6.78" fill="#f86020"/>
<rect x="390.91" y="117.51" width="6.78" height="6.78" fill="#f09028"/>
<rect x="397.09" y="117.51" width="6.78" height="6.78" fill="#f0c838"/>
<rect x="403.27" y="117.51" width="31.52" height="6.78" fill="#f09028"/>
<rect x="273.43" y="123.69" width="56.25" height="6.78" fill="#f09028"/>
<rect x="329.08" y="123.69" width="12.97" height="6.78" fill="#1010f0"/>
<rect x="341.44" y="123.69" width="6.78" height="6.78" fill="#38f010"/>
<rect x="347.63" y="123.69" width="12.97" height="6.78" fill="#f09028"/>
<rect x="359.99" y="123.69" width="6.78" height="6.78" fill="#f0c838"/>
<rect x="366.18" y="123.69" width="6.78" height="6.78" fill="#f09028"/>
<rect x="372.36" y="123.69" width="62.43" height="6.78" fill="#f86020"/>
<rect x="273.43" y="129.88" width="56.25" height="6.78" fill="#f09028"/>
<rect x="329.08" y="129.88" width="12.97" height="6.78" fill="#1010f0"/>
<rect x="341.44" y="129.88" width="6.78" height="6.78" fill="#48a0d0"/>
<rect x="347.63" y="129.88" width="6.78" height="6.78" fill="#f09028"/>
<rect x="353.81" y="129.88" width="12.97" height="6.78" fill="#f0c838"/>
<rect x="366.18" y="129.88" width="6.78" height="6.78" fill="#f09028"/>
<rect x="372.36" y="129.88" width="62.43" height="6.78" fill="#f86020"/>
<rect x="273.43" y="136.06" width="56.25" height="6.78" fill="#f09028"/>
<rect x="329.08" y="136.06" width="6.78" height="6.78" fill="#48a0d0"/>
<rect x="335.26" y="136.06" width="6.78" height="6.78" fill="#1010f0"/>
<rect x="341.44" y="136.06" width="6.78" height="6.78" fill="#38f010"/>
<rect x="347.63" y="136.06" width="6.78" height="6.78" fill="#f8f838"/>
<rect x="353.81" y="136.06" width="80.98" height="6.78" fill="#f86020"/>
<rect x="273.43" y="142.24" width="56.25" height="6.78" fill="#f09028"/>
<rect x="329.08" y="142.24" width="6.78" height="6.78" fill="#f0c838"/>
<rect x="335.26" y="142.24" width="12.97" height="6.78" fill="#f09028"/>
<rect x="347.63" y="142.24" width="87.16" height="6.78" fill="#f86020"/>
<rect x="273.43" y="148.43" width="56.25" height="6.78" fill="#f09028"/>
<rect x="329.08" y="148.43" width="6.78" height="6.78" fill="#f0c838"/>
<rect x="335.26" y="148.43" width="12.97" height="6.78" fill="#f09028"/>
<rect x="347.63" y="148.43" width="87.16" height="6.78" fill="#f86020"/>
<path d="M409.14 76.38 L413.47 81.64 L418.41 84.11 L423.98 85.66 L430.16 89.06" fill="none" stroke="#f8f838" stroke-width="18.55" stroke-linecap="round" stroke-linejoin="round"/>
<path d="M409.14 76.38 L413.47 81.64 L418.41 84.11 L423.98 85.66 L430.16 89.06" fill="none" stroke="#38f010" stroke-width="12.98" stroke-linecap="round" stroke-linejoin="round"/>
<path d="M409.14 76.38 L413.47 81.64 L418.41 84.11 L423.98 85.66 L430.16 89.06" fill="none" stroke="#48a0d0" stroke-width="7.42" stroke-linecap="round" stroke-linejoin="round"/>
<circle cx="418.41" cy="85.35" r="1.55" fill="#1010f0"/>
<path d="M316.39 98.64 L320.72 103.59 L325.67 109.77 L329.38 115.96 L331.85 120.28" fill="none" stroke="#f8f838" stroke-width="12.37" stroke-linecap="round" stroke-linejoin="round"/>
<path d="M316.39 98.64 L320.72 103.59 L325.67 109.77 L329.38 115.96 L331.85 120.28" fill="none" stroke="#38f010" stroke-width="8.66" stroke-linecap="round" stroke-linejoin="round"/>
<path d="M316.39 98.64 L320.72 103.59 L325.67 109.77 L329.38 115.96 L331.85 120.28" fill="none" stroke="#48a0d0" stroke-width="4.33" stroke-linecap="round" stroke-linejoin="round"/>
<path d="M332.47 123.38 L335.56 130.18 L339.27 136.36 L342.98 141.31" fill="none" stroke="#f8f838" stroke-width="17.93" stroke-linecap="round" stroke-linejoin="round"/>
<path d="M332.47 123.38 L335.56 130.18 L339.27 136.36 L342.98 141.31" fill="none" stroke="#38f010" stroke-width="14.22" stroke-linecap="round" stroke-linejoin="round"/>
<path d="M332.47 123.38 L335.56 130.18 L339.27 136.36 L342.98 141.31" fill="none" stroke="#48a0d0" stroke-width="11.75" stroke-linecap="round" stroke-linejoin="round"/>
<path d="M332.47 123.38 L335.56 130.18 L339.27 136.36 L342.98 141.31" fill="none" stroke="#1010f0" stroke-width="9.27" stroke-linecap="round" stroke-linejoin="round"/>
<path d="M284.86 26.61 L285.79 35.58" fill="none" stroke="#f8f838" stroke-width="8.66" stroke-linecap="round" stroke-linejoin="round"/>
<path d="M284.86 26.61 L285.79 35.58" fill="none" stroke="#38f010" stroke-width="6.8" stroke-linecap="round" stroke-linejoin="round"/>
<path d="M284.86 26.61 L285.79 35.58" fill="none" stroke="#1010f0" stroke-width="4.64" stroke-linecap="round" stroke-linejoin="round"/>
</g>
<path d="M292.59 34.34 L298.65 40.28 L297.54 43.8 L302.54 45.96 L309.59 44.48 L309.59 40.96 L306.5 36.2 L300.32 33.72 Z" fill="#fff"/>
</g>
<g clip-path="url(#frb)" fill="none" stroke="#000" stroke-linejoin="round">
<path d="M248.38 36.2 L252.09 35.02 L255.74 34.16 L258.89 34.59 L260.25 36.88 L262.05 37.31 L263.41 36.44 L266.56 36.26 L272 35.95 L274.72 34.16 L277.44 30.07 L280.16 24.63 L282.82 19.25 L284.68 15.61 L285.11 12.08" stroke-width="1.3"/>
<path d="M261.98 12.08 L262.91 13.63 L264.33 14.43 L267.49 15.17 L270.21 13.94 L271.88 13.32 L273.36 12.08" stroke-width="1.3"/>
<path d="M279.3 46.83 L278.31 49.98 L276.51 54.5 L275.28 57.53 L274.72 56.29 L271.07 53.14 L267.92 49.06 L265.08 43.8 L263.84 43.8 L263.41 44.11 L266.56 49.98 L270.21 54.5 L272.93 57.22 L275.59 62.6 L279.23 70.76 L282.94 79.91 L284.86 81.33 L283.62 83.8 L284.43 85.72 L287.95 89.99 L291.72 93.08 L292.4 98.89 L293.89 104.7 L294.14 109.77 L295.37 113.48 L299.08 116.39 L302.17 120.28 L304.09 122.2 L305.57 129.5 L308.48 134.57 L312.07 136.36 L315.78 137.53 L321.59 141.18 L325.98 144.83 L330.37 149.9 L331.79 154.29 L329.63 156.45 L331.79 159.36 L337.66 164.49 L343.48 163.57 L351.39 161.4 L357.82 159.86 L365.24 159.24 L373.28 157.38 L376.37 156.15 L378.72 155.53 L380.39 155.84 L379.46 158.99 L380.08 163.57 L381.01 164.8 L379.46 166.04 L378.84 168.51" stroke-width="1.3"/>
<path d="M360.29 43.61 L363.39 41.14 L366.04 40.52 L369.57 43 L372.23 42.75 L374.95 45.59 L376.99 48.56 L378.47 51.78 L381.13 56.6 L386.63 58.58 L392.14 62.04 L396.22 63.4 L400.48 64.64 L403.14 64.64 L407.28 62.47 L409.94 61.85 L412.73 61.36 L416.13 64.02 L417.49 68.84 L420.89 70.51 L423.61 70.2 L429.11 71.62 L433.87 72.24 L435.73 72.68" stroke-width="1.3"/>
<path d="M375.44 66.8 L376.49 66.8 L376.37 69.27 L375.75 68.97 Z" stroke-width="1" fill="#fff"/>
<path d="M426.45 101.12 L428 102.35 L427.07 104.52 L425.83 102.97 Z" stroke-width="1" fill="#fff"/>
<path d="M310.21 104.21 L312.68 106.06 L314.54 109.77 L312.68 108.54 L310.52 105.75 Z" stroke-width="1" fill="#fff"/>
<path d="M315.78 112.25 L318.25 115.34 L317.01 115.96 L315.16 113.48 Z" stroke-width="1" fill="#fff"/>
<path d="M391.52 151.2 L393.68 149.96 L396.77 150.27 L399.87 150.46 L401.41 151.51 L399.25 153.05 L395.54 153.36 L393.06 152.44 Z" stroke-width="0.8" fill="#000"/>
<path d="M384.72 152.74 L385.64 151.2 L387.5 153.05 L386.26 154.29 Z" stroke-width="0.8" fill="#000"/>
<path d="M389.97 153.36 L392.75 153.36 L391.83 154.6 L390.28 154.41 Z" stroke-width="0.8" fill="#000"/>
<path d="M318.87 121.21 L321.96 120.59 L324.43 122.45 L325.36 125.23 L324.12 127.7 L321.34 127.7 L319.18 125.23 Z" stroke-width="0.8" fill="#000"/>
<path d="M325.05 126.47 L326.91 125.85 L327.83 128.32 L327.52 130.8 L326.29 130.8 L325.36 128.94 Z" stroke-width="0.8" fill="#000"/>
<path d="M326.29 141.31 L327.83 141.62 L328.45 144.09 L326.91 145.02 L326.29 143.16 Z" stroke-width="0.8" fill="#000"/>
<circle cx="326.91" cy="133.89" r="0.5" fill="#000" stroke="none"/>
<circle cx="291.04" cy="70.2" r="0.5" fill="#000" stroke="none"/>
<circle cx="292.9" cy="72.68" r="0.5" fill="#000" stroke="none"/>
<circle cx="304.03" cy="90.61" r="0.5" fill="#000" stroke="none"/>
<circle cx="320.72" cy="130.18" r="0.56" fill="#000" stroke="none"/>
<circle cx="323.2" cy="133.89" r="0.56" fill="#000" stroke="none"/>
<circle cx="318.25" cy="120.28" r="0.5" fill="#000" stroke="none"/>
<circle cx="316.39" cy="117.19" r="0.5" fill="#000" stroke="none"/>
<circle cx="388.12" cy="78.86" r="0.5" fill="#000" stroke="none"/>
<circle cx="391.83" cy="79.17" r="0.5" fill="#000" stroke="none"/>
<circle cx="397.39" cy="78.24" r="0.5" fill="#000" stroke="none"/>
<circle cx="397.08" cy="65.07" r="0.5" fill="#000" stroke="none"/>
<circle cx="393.06" cy="64.64" r="0.5" fill="#000" stroke="none"/>
<circle cx="386.26" cy="78.24" r="0.5" fill="#000" stroke="none"/>
<circle cx="383.79" cy="78.55" r="0.5" fill="#000" stroke="none"/>
<circle cx="394.92" cy="78.55" r="0.5" fill="#000" stroke="none"/>
<circle cx="398.63" cy="77.31" r="0.5" fill="#000" stroke="none"/>
<path d="M305.64 30.2 L291.97 33.97 L298.03 40.4 L295.13 43.06 L290.43 44.48 L287.58 46.83 L281.77 47.32 L279.61 47.45" stroke-width="1.8"/>
<path d="M351.33 49.18 L356.89 52.58 L362.89 52.64" stroke-width="1.25"/>
<path d="M382.55 79.17 L385.03 82.57 L388.74 87.21 L404.81 88.75" stroke-width="1.25"/>
<path d="M404.81 88.75 L407.72 93.08 L405.31 100.13 L403.57 105.45 L386.26 111.94" stroke-width="1.25"/>
<path d="M404.81 88.75 L406.67 83.19 L408.03 78.86 L409.94 73.54 L410.62 70.82" stroke-width="1.25"/>
<path d="M386.26 111.94 L373.28 113.17 L366.48 114.1 L359.06 116.57 L354.11 123.38 L346.38 122.2 L338.65 121.64 L331.85 121.46 L330.37 120.72 L329.38 123.38 L328.45 126.47" stroke-width="1.25"/>
<path d="M386.26 111.94 L390.59 124.67" stroke-width="1.25"/>
<path d="M279.67 47.2 L281.03 43.61 L282.39 38.05 L283.01 34.34 L283.32 30.01 L283.93 26.61 L287.95 28.47 L291.35 29.08 L295.74 26.36 L303.29 22.59 L305.02 29.27 L305.64 30.2 L313.3 31.87 L323.81 36.81 L339.89 48.56 L351.33 49.18 L355.1 43.31 L358.44 43 L361.53 43.49 L360.6 46.09 L359.37 47.02 L360.91 47.94 L362.89 52.58 L364 55.36 L365.86 57.53 L368.33 59.38 L370.5 61.55 L372.66 63.4 L373.59 64.95 L372.97 67.11 L373.9 69.27 L374.82 71.13 L376.06 73.29 L377.61 76.08 L377.61 72.68 L378.22 70.2 L379.15 68.04 L380.39 67.42 L381.93 68.66 L382.55 72.68 L382.55 75.46 L381.32 77.31 L382.55 79.17 L383.79 80.4 L386.26 80.09 L389.35 79.48 L393.06 80.09 L396.16 78.86 L399.87 78.24 L401.72 76.08 L404.19 74.22 L406.67 72.37 L408.52 70.51 L410.07 68.35 L410.99 66.49 L412.05 65.75 L412.54 67.11 L411.61 68.97 L411.92 72.06 L411.92 74.84 L412.85 77 L414.7 78.86 L417.8 81.02 L420.89 82.26 L423.61 82.88 L425.83 83.19 L427.69 85.66 L429.54 88.13 L431.4 89.37 L433.25 89.99 L431.71 94.01 L428.68 98.64 L426.76 100.81 L424.97 101.61 L421.88 103.9 L420.39 107.61 L421.26 110.58 L418.23 112.93 L412.91 115.21 L409.14 118.18 L404.63 120.41 L401.6 123.5 L397.39 124.3 L393.99 124.98 L387.81 127.46 L386.57 131.72 L382.55 132.96 L379.03 133.76 L374.51 136.36 L369.57 137.97 L364.62 141.92 L359.8 142.17 L355.35 144.4 L351.39 145.63 L346.07 146.56 L341.99 149.65 L338.65 150.27 L336.18 150.89 L332.16 150.89 L331.05 146.99 L330.37 141.18 L329.07 137.6 L328.88 135.31 L327.83 132.03 L328.88 128.01 L328.14 125.11 L325.98 121.46 L321.65 117.19 L317.32 111.32 L313.61 106.06 L308.67 100.5 L305.27 95.55 L304.65 91.22 L303.41 88.75 L300.63 83.19 L298.28 79.91 L293.83 73.91 L291.91 71.69 L289.81 68.04 L288.26 65.5 L286.47 62.6 L282.82 58.08 L279.3 56.29 L277.44 55.67 L278.37 52.89 L279.3 49.18 Z" stroke-width="1.9"/>
</g>
<rect x="249" y="12.7" width="185.49" height="154.57" fill="none" stroke="#222" stroke-width="1"/>
<path d="M249 166.47 v4.6 M279.92 166.47 v4.6 M310.83 166.47 v4.6 M341.75 166.47 v4.6 M372.66 166.47 v4.6 M403.57 166.47 v4.6 M434.49 166.47 v4.6 M249.6 167.27 h-4.8 M249.6 136.36 h-4.8 M249.6 105.45 h-4.8 M249.6 74.53 h-4.8 M249.6 43.61 h-4.8 M249.6 12.7 h-4.8" stroke="#111" stroke-width="1.2" fill="none"/>
<path d="M255.18 167.27 v2.2 M267.55 167.27 v2.2 M292.28 167.27 v2.2 M304.65 167.27 v2.2 M317.01 167.27 v2.2 M329.38 167.27 v2.2 M354.11 167.27 v2.2 M366.48 167.27 v2.2 M378.84 167.27 v2.2 M391.21 167.27 v2.2 M415.94 167.27 v2.2 M428.31 167.27 v2.2" stroke="#222" stroke-width="1" fill="none"/>
<g font-size="9.2" fill="#222"><text transform="translate(249 184.47) scale(1 1.08)" text-anchor="middle">30E</text><text transform="translate(279.92 184.47) scale(1 1.08)" text-anchor="middle">35E</text><text transform="translate(310.83 184.47) scale(1 1.08)" text-anchor="middle">40E</text><text transform="translate(341.75 184.47) scale(1 1.08)" text-anchor="middle">45E</text><text transform="translate(372.66 184.47) scale(1 1.08)" text-anchor="middle">50E</text><text transform="translate(403.57 184.47) scale(1 1.08)" text-anchor="middle">55E</text><text transform="translate(434.49 184.47) scale(1 1.08)" text-anchor="middle">60E</text><text transform="translate(239.7 170.27) scale(1 1.08)" text-anchor="end">10N</text><text transform="translate(239.7 139.36) scale(1 1.08)" text-anchor="end">15N</text><text transform="translate(239.7 108.45) scale(1 1.08)" text-anchor="end">20N</text><text transform="translate(239.7 77.53) scale(1 1.08)" text-anchor="end">25N</text><text transform="translate(239.7 46.61) scale(1 1.08)" text-anchor="end">30N</text><text transform="translate(239.7 15.7) scale(1 1.08)" text-anchor="end">35N</text></g>
<text x="248.4" y="8.8" font-size="10.75" font-weight="bold" fill="#111">b) NEX-GDDP-MMM</text>
<text x="434.49" y="10.7" font-size="10.9" font-weight="bold" fill="#111" text-anchor="end">Cor: 0.7</text>
<defs><clipPath id="landc"><path d="M516.17 47.2 L517.53 43.61 L518.89 38.05 L519.51 34.34 L519.82 30.01 L520.43 26.61 L524.45 28.47 L527.85 29.08 L532.24 26.36 L539.79 22.59 L541.52 29.27 L542.14 30.2 L549.8 31.87 L560.31 36.81 L576.39 48.56 L587.83 49.18 L591.6 43.31 L594.94 43 L598.03 43.49 L597.1 46.09 L595.87 47.02 L597.41 47.94 L599.39 52.58 L600.5 55.36 L602.36 57.53 L604.83 59.38 L607 61.55 L609.16 63.4 L610.09 64.95 L609.47 67.11 L610.4 69.27 L611.32 71.13 L612.56 73.29 L614.11 76.08 L614.11 72.68 L614.72 70.2 L615.65 68.04 L616.89 67.42 L618.43 68.66 L619.05 72.68 L619.05 75.46 L617.82 77.31 L619.05 79.17 L620.29 80.4 L622.76 80.09 L625.85 79.48 L629.56 80.09 L632.66 78.86 L636.37 78.24 L638.22 76.08 L640.69 74.22 L643.17 72.37 L645.02 70.51 L646.57 68.35 L647.49 66.49 L648.55 65.75 L649.04 67.11 L648.11 68.97 L648.42 72.06 L648.42 74.84 L649.35 77 L651.2 78.86 L654.3 81.02 L657.39 82.26 L660.11 82.88 L662.33 83.19 L664.19 85.66 L666.04 88.13 L667.9 89.37 L669.75 89.99 L668.21 94.01 L665.18 98.64 L663.26 100.81 L661.47 101.61 L658.38 103.9 L656.89 107.61 L657.76 110.58 L654.73 112.93 L649.41 115.21 L645.64 118.18 L641.13 120.41 L638.1 123.5 L633.89 124.3 L630.49 124.98 L624.31 127.46 L623.07 131.72 L619.05 132.96 L615.53 133.76 L611.01 136.36 L606.07 137.97 L601.12 141.92 L596.3 142.17 L591.85 144.4 L587.89 145.63 L582.57 146.56 L578.49 149.65 L575.15 150.27 L572.68 150.89 L568.66 150.89 L567.55 146.99 L566.87 141.18 L565.57 137.6 L565.38 135.31 L564.33 132.03 L565.38 128.01 L564.64 125.11 L562.48 121.46 L558.15 117.19 L553.82 111.32 L550.11 106.06 L545.17 100.5 L541.77 95.55 L541.15 91.22 L539.91 88.75 L537.13 83.19 L534.78 79.91 L530.33 73.91 L528.41 71.69 L526.31 68.04 L524.76 65.5 L522.97 62.6 L519.32 58.08 L515.8 56.29 L513.94 55.67 L514.87 52.89 L515.8 49.18 Z"/></clipPath>
<clipPath id="frc"><rect x="485.5" y="12.7" width="185.49" height="154.57"/></clipPath></defs>
<g clip-path="url(#landc)"><g filter="url(#bl)">
<rect x="509.93" y="18.58" width="12.97" height="6.78" fill="#d82038"/>
<rect x="522.3" y="18.58" width="19.15" height="6.78" fill="#f03840"/>
<rect x="540.85" y="18.58" width="130.44" height="6.78" fill="#d82038"/>
<rect x="509.93" y="24.77" width="12.97" height="6.78" fill="#2000f0"/>
<rect x="522.3" y="24.77" width="25.33" height="6.78" fill="#f03840"/>
<rect x="547.03" y="24.77" width="124.26" height="6.78" fill="#d82038"/>
<rect x="509.93" y="30.95" width="12.97" height="6.78" fill="#2000f0"/>
<rect x="522.3" y="30.95" width="6.78" height="6.78" fill="#f4f0b8"/>
<rect x="528.48" y="30.95" width="12.97" height="6.78" fill="#f03840"/>
<rect x="540.85" y="30.95" width="130.44" height="6.78" fill="#d82038"/>
<rect x="509.93" y="37.13" width="6.78" height="6.78" fill="#f03840"/>
<rect x="516.12" y="37.13" width="6.78" height="6.78" fill="#b0f8f8"/>
<rect x="522.3" y="37.13" width="6.78" height="6.78" fill="#f4f0b8"/>
<rect x="528.48" y="37.13" width="6.78" height="6.78" fill="#f07858"/>
<rect x="534.66" y="37.13" width="6.78" height="6.78" fill="#f03840"/>
<rect x="540.85" y="37.13" width="19.15" height="6.78" fill="#d82038"/>
<rect x="559.4" y="37.13" width="111.89" height="6.78" fill="#a8182a"/>
<rect x="509.93" y="43.31" width="12.97" height="6.78" fill="#f03840"/>
<rect x="522.3" y="43.31" width="6.78" height="6.78" fill="#f07858"/>
<rect x="528.48" y="43.31" width="6.78" height="6.78" fill="#f0a878"/>
<rect x="534.66" y="43.31" width="6.78" height="6.78" fill="#f03840"/>
<rect x="540.85" y="43.31" width="12.97" height="6.78" fill="#d82038"/>
<rect x="553.21" y="43.31" width="118.08" height="6.78" fill="#a8182a"/>
<rect x="509.93" y="49.5" width="6.78" height="6.78" fill="#f03840"/>
<rect x="516.12" y="49.5" width="6.78" height="6.78" fill="#f07858"/>
<rect x="522.3" y="49.5" width="6.78" height="6.78" fill="#f03840"/>
<rect x="528.48" y="49.5" width="6.78" height="6.78" fill="#f0a878"/>
<rect x="534.66" y="49.5" width="19.15" height="6.78" fill="#d82038"/>
<rect x="553.21" y="49.5" width="118.08" height="6.78" fill="#a8182a"/>
<rect x="509.93" y="55.68" width="12.97" height="6.78" fill="#f03840"/>
<rect x="522.3" y="55.68" width="6.78" height="6.78" fill="#d82038"/>
<rect x="528.48" y="55.68" width="6.78" height="6.78" fill="#f0a878"/>
<rect x="534.66" y="55.68" width="12.97" height="6.78" fill="#d82038"/>
<rect x="547.03" y="55.68" width="6.78" height="6.78" fill="#f0a878"/>
<rect x="553.21" y="55.68" width="118.08" height="6.78" fill="#a8182a"/>
<rect x="509.93" y="61.86" width="19.15" height="6.78" fill="#d82038"/>
<rect x="528.48" y="61.86" width="6.78" height="6.78" fill="#a8182a"/>
<rect x="534.66" y="61.86" width="12.97" height="6.78" fill="#d82038"/>
<rect x="547.03" y="61.86" width="6.78" height="6.78" fill="#f07858"/>
<rect x="553.21" y="61.86" width="6.78" height="6.78" fill="#d82038"/>
<rect x="559.4" y="61.86" width="111.89" height="6.78" fill="#a8182a"/>
<rect x="509.93" y="68.05" width="31.52" height="6.78" fill="#a8182a"/>
<rect x="540.85" y="68.05" width="6.78" height="6.78" fill="#d82038"/>
<rect x="547.03" y="68.05" width="6.78" height="6.78" fill="#f03840"/>
<rect x="553.21" y="68.05" width="6.78" height="6.78" fill="#d82038"/>
<rect x="559.4" y="68.05" width="56.25" height="6.78" fill="#a8182a"/>
<rect x="615.04" y="68.05" width="56.25" height="6.78" fill="#d82038"/>
<rect x="509.93" y="74.23" width="31.52" height="6.78" fill="#a8182a"/>
<rect x="540.85" y="74.23" width="12.97" height="6.78" fill="#d82038"/>
<rect x="553.21" y="74.23" width="25.33" height="6.78" fill="#a8182a"/>
<rect x="577.95" y="74.23" width="25.33" height="6.78" fill="#d82038"/>
<rect x="602.68" y="74.23" width="12.97" height="6.78" fill="#a8182a"/>
<rect x="615.04" y="74.23" width="31.52" height="6.78" fill="#d82038"/>
<rect x="645.96" y="74.23" width="25.33" height="6.78" fill="#a8182a"/>
<rect x="509.93" y="80.41" width="43.88" height="6.78" fill="#a8182a"/>
<rect x="553.21" y="80.41" width="12.97" height="6.78" fill="#d82038"/>
<rect x="565.58" y="80.41" width="12.97" height="6.78" fill="#a8182a"/>
<rect x="577.95" y="80.41" width="68.61" height="6.78" fill="#d82038"/>
<rect x="645.96" y="80.41" width="12.97" height="6.78" fill="#a8182a"/>
<rect x="658.32" y="80.41" width="12.97" height="6.78" fill="#d82038"/>
<rect x="509.93" y="86.6" width="50.06" height="6.78" fill="#a8182a"/>
<rect x="559.4" y="86.6" width="6.78" height="6.78" fill="#d82038"/>
<rect x="565.58" y="86.6" width="6.78" height="6.78" fill="#a8182a"/>
<rect x="571.76" y="86.6" width="31.52" height="6.78" fill="#d82038"/>
<rect x="602.68" y="86.6" width="12.97" height="6.78" fill="#f03840"/>
<rect x="615.04" y="86.6" width="6.78" height="6.78" fill="#d82038"/>
<rect x="621.23" y="86.6" width="25.33" height="6.78" fill="#f03840"/>
<rect x="645.96" y="86.6" width="12.97" height="6.78" fill="#d82038"/>
<rect x="658.32" y="86.6" width="6.78" height="6.78" fill="#f03840"/>
<rect x="664.51" y="86.6" width="6.78" height="6.78" fill="#d82038"/>
<rect x="509.93" y="92.78" width="50.06" height="6.78" fill="#a8182a"/>
<rect x="559.4" y="92.78" width="12.97" height="6.78" fill="#d82038"/>
<rect x="571.76" y="92.78" width="6.78" height="6.78" fill="#a8182a"/>
<rect x="577.95" y="92.78" width="6.78" height="6.78" fill="#f03840"/>
<rect x="584.13" y="92.78" width="31.52" height="6.78" fill="#f07858"/>
<rect x="615.04" y="92.78" width="6.78" height="6.78" fill="#f0a878"/>
<rect x="621.23" y="92.78" width="6.78" height="6.78" fill="#f07858"/>
<rect x="627.41" y="92.78" width="6.78" height="6.78" fill="#f0a878"/>
<rect x="633.59" y="92.78" width="6.78" height="6.78" fill="#f07858"/>
<rect x="639.78" y="92.78" width="6.78" height="6.78" fill="#f0a878"/>
<rect x="645.96" y="92.78" width="19.15" height="6.78" fill="#f07858"/>
<rect x="664.51" y="92.78" width="6.78" height="6.78" fill="#f03840"/>
<rect x="509.93" y="98.96" width="43.88" height="6.78" fill="#a8182a"/>
<rect x="553.21" y="98.96" width="25.33" height="6.78" fill="#d82038"/>
<rect x="577.95" y="98.96" width="12.97" height="6.78" fill="#f03840"/>
<rect x="590.31" y="98.96" width="6.78" height="6.78" fill="#f07858"/>
<rect x="596.49" y="98.96" width="19.15" height="6.78" fill="#f0a878"/>
<rect x="615.04" y="98.96" width="25.33" height="6.78" fill="#f4f0b8"/>
<rect x="639.78" y="98.96" width="6.78" height="6.78" fill="#f8fce8"/>
<rect x="645.96" y="98.96" width="12.97" height="6.78" fill="#f4f0b8"/>
<rect x="658.32" y="98.96" width="12.97" height="6.78" fill="#f0a878"/>
<rect x="509.93" y="105.15" width="43.88" height="6.78" fill="#a8182a"/>
<rect x="553.21" y="105.15" width="6.78" height="6.78" fill="#f4f0b8"/>
<rect x="559.4" y="105.15" width="6.78" height="6.78" fill="#d82038"/>
<rect x="565.58" y="105.15" width="12.97" height="6.78" fill="#a8182a"/>
<rect x="577.95" y="105.15" width="6.78" height="6.78" fill="#f03840"/>
<rect x="584.13" y="105.15" width="19.15" height="6.78" fill="#f07858"/>
<rect x="602.68" y="105.15" width="19.15" height="6.78" fill="#f0a878"/>
<rect x="621.23" y="105.15" width="12.97" height="6.78" fill="#f4f0b8"/>
<rect x="633.59" y="105.15" width="6.78" height="6.78" fill="#f8fce8"/>
<rect x="639.78" y="105.15" width="12.97" height="6.78" fill="#f0fcfc"/>
<rect x="652.14" y="105.15" width="19.15" height="6.78" fill="#f4f0b8"/>
<rect x="509.93" y="111.33" width="50.06" height="6.78" fill="#a8182a"/>
<rect x="559.4" y="111.33" width="6.78" height="6.78" fill="#68a8f8"/>
<rect x="565.58" y="111.33" width="12.97" height="6.78" fill="#d82038"/>
<rect x="577.95" y="111.33" width="12.97" height="6.78" fill="#f03840"/>
<rect x="590.31" y="111.33" width="12.97" height="6.78" fill="#f07858"/>
<rect x="602.68" y="111.33" width="12.97" height="6.78" fill="#f0a878"/>
<rect x="615.04" y="111.33" width="6.78" height="6.78" fill="#f4f0b8"/>
<rect x="621.23" y="111.33" width="6.78" height="6.78" fill="#f8fce8"/>
<rect x="627.41" y="111.33" width="6.78" height="6.78" fill="#f0fcfc"/>
<rect x="633.59" y="111.33" width="6.78" height="6.78" fill="#b0f8f8"/>
<rect x="639.78" y="111.33" width="6.78" height="6.78" fill="#f0fcfc"/>
<rect x="645.96" y="111.33" width="25.33" height="6.78" fill="#f8fce8"/>
<rect x="509.93" y="117.51" width="56.25" height="6.78" fill="#a8182a"/>
<rect x="565.58" y="117.51" width="6.78" height="6.78" fill="#68a8f8"/>
<rect x="571.76" y="117.51" width="6.78" height="6.78" fill="#d82038"/>
<rect x="577.95" y="117.51" width="12.97" height="6.78" fill="#f03840"/>
<rect x="590.31" y="117.51" width="12.97" height="6.78" fill="#f07858"/>
<rect x="602.68" y="117.51" width="6.78" height="6.78" fill="#f0a878"/>
<rect x="608.86" y="117.51" width="12.97" height="6.78" fill="#f4f0b8"/>
<rect x="621.23" y="117.51" width="6.78" height="6.78" fill="#f0fcfc"/>
<rect x="627.41" y="117.51" width="6.78" height="6.78" fill="#b0f8f8"/>
<rect x="633.59" y="117.51" width="6.78" height="6.78" fill="#f0fcfc"/>
<rect x="639.78" y="117.51" width="31.52" height="6.78" fill="#f8fce8"/>
<rect x="509.93" y="123.69" width="56.25" height="6.78" fill="#a8182a"/>
<rect x="565.58" y="123.69" width="6.78" height="6.78" fill="#d82038"/>
<rect x="571.76" y="123.69" width="6.78" height="6.78" fill="#f4f0b8"/>
<rect x="577.95" y="123.69" width="6.78" height="6.78" fill="#f8fce8"/>
<rect x="584.13" y="123.69" width="19.15" height="6.78" fill="#f4f0b8"/>
<rect x="602.68" y="123.69" width="6.78" height="6.78" fill="#f8fce8"/>
<rect x="608.86" y="123.69" width="12.97" height="6.78" fill="#b0f8f8"/>
<rect x="621.23" y="123.69" width="50.06" height="6.78" fill="#f8fce8"/>
<rect x="509.93" y="129.88" width="62.43" height="6.78" fill="#a8182a"/>
<rect x="571.76" y="129.88" width="6.78" height="6.78" fill="#f4f0b8"/>
<rect x="577.95" y="129.88" width="12.97" height="6.78" fill="#f0fcfc"/>
<rect x="590.31" y="129.88" width="19.15" height="6.78" fill="#f8fce8"/>
<rect x="608.86" y="129.88" width="6.78" height="6.78" fill="#f0fcfc"/>
<rect x="615.04" y="129.88" width="6.78" height="6.78" fill="#f8fce8"/>
<rect x="621.23" y="129.88" width="50.06" height="6.78" fill="#f4f0b8"/>
<rect x="509.93" y="136.06" width="62.43" height="6.78" fill="#a8182a"/>
<rect x="571.76" y="136.06" width="6.78" height="6.78" fill="#f03840"/>
<rect x="577.95" y="136.06" width="12.97" height="6.78" fill="#f07858"/>
<rect x="590.31" y="136.06" width="12.97" height="6.78" fill="#f4f0b8"/>
<rect x="602.68" y="136.06" width="68.61" height="6.78" fill="#f0a878"/>
<rect x="509.93" y="142.24" width="62.43" height="6.78" fill="#d82038"/>
<rect x="571.76" y="142.24" width="19.15" height="6.78" fill="#f03840"/>
<rect x="590.31" y="142.24" width="80.98" height="6.78" fill="#f07858"/>
<rect x="509.93" y="148.43" width="161.36" height="6.78" fill="#d82038"/>
<path d="M521.36 26.61 L522.29 35.58" fill="none" stroke="#b0f8f8" stroke-width="6.18" stroke-linecap="round" stroke-linejoin="round"/>
<path d="M521.36 26.61 L522.29 35.58" fill="none" stroke="#2000f0" stroke-width="3.71" stroke-linecap="round" stroke-linejoin="round"/>
</g>
<g clip-path="url(#landc)">
<g  stroke="#f42828" stroke-width="1.3" fill="none">
<path d="M328.93 12.7 L483.5 167.27 M336.98 12.7 L491.55 167.27 M345.03 12.7 L499.61 167.27 M353.08 12.7 L507.66 167.27 M361.14 12.7 L515.71 167.27 M369.19 12.7 L523.76 167.27 M377.24 12.7 L531.81 167.27 M385.29 12.7 L539.87 167.27 M393.34 12.7 L547.92 167.27 M401.4 12.7 L555.97 167.27 M409.45 12.7 L564.02 167.27 M417.5 12.7 L572.07 167.27 M425.55 12.7 L580.13 167.27 M433.6 12.7 L588.18 167.27 M441.66 12.7 L596.23 167.27 M449.71 12.7 L604.28 167.27 M457.76 12.7 L612.33 167.27 M465.81 12.7 L620.39 167.27 M473.86 12.7 L628.44 167.27 M481.92 12.7 L636.49 167.27 M489.97 12.7 L644.54 167.27 M498.02 12.7 L652.6 167.27 M506.07 12.7 L660.65 167.27 M335.45 167.27 L490.02 12.7 M514.12 12.7 L668.7 167.27 M343.5 167.27 L498.08 12.7 M522.18 12.7 L676.75 167.27 M351.55 167.27 L506.13 12.7 M530.23 12.7 L684.8 167.27 M359.61 167.27 L514.18 12.7 M538.28 12.7 L692.86 167.27 M367.66 167.27 L522.23 12.7 M546.33 12.7 L700.91 167.27 M375.71 167.27 L530.28 12.7 M554.38 12.7 L708.96 167.27 M383.76 167.27 L538.34 12.7 M562.44 12.7 L717.01 167.27 M391.81 167.27 L546.39 12.7 M570.49 12.7 L725.06 167.27 M399.87 167.27 L554.44 12.7 M578.54 12.7 L733.12 167.27 M407.92 167.27 L562.49 12.7 M586.59 12.7 L741.17 167.27 M415.97 167.27 L570.54 12.7 M594.64 12.7 L749.22 167.27 M424.02 167.27 L578.6 12.7 M602.7 12.7 L757.27 167.27 M432.07 167.27 L586.65 12.7 M610.75 12.7 L765.32 167.27 M440.12 167.27 L594.7 12.7 M618.8 12.7 L773.38 167.27 M448.18 167.27 L602.75 12.7 M626.85 12.7 L781.43 167.27 M456.23 167.27 L610.8 12.7 M634.9 12.7 L789.48 167.27 M464.28 167.27 L618.86 12.7 M642.96 12.7 L797.53 167.27 M472.33 167.27 L626.91 12.7 M651.01 12.7 L805.58 167.27 M480.38 167.27 L634.96 12.7 M659.06 12.7 L813.63 167.27 M488.44 167.27 L643.01 12.7 M667.11 12.7 L821.69 167.27 M496.49 167.27 L651.06 12.7 M504.54 167.27 L659.12 12.7 M512.59 167.27 L667.17 12.7 M520.64 167.27 L675.22 12.7 M528.7 167.27 L683.27 12.7 M536.75 167.27 L691.32 12.7 M544.8 167.27 L699.38 12.7 M552.85 167.27 L707.43 12.7 M560.9 167.27 L715.48 12.7 M568.96 167.27 L723.53 12.7 M577.01 167.27 L731.58 12.7 M585.06 167.27 L739.64 12.7 M593.11 167.27 L747.69 12.7 M601.16 167.27 L755.74 12.7 M609.22 167.27 L763.79 12.7 M617.27 167.27 L771.84 12.7 M625.32 167.27 L779.9 12.7 M633.37 167.27 L787.95 12.7 M641.42 167.27 L796 12.7 M649.48 167.27 L804.05 12.7 M657.53 167.27 L812.1 12.7 M665.58 167.27 L820.16 12.7"/>
</g></g>
</g>
<g clip-path="url(#frc)" fill="none" stroke="#000" stroke-linejoin="round">
<path d="M484.88 36.2 L488.59 35.02 L492.24 34.16 L495.39 34.59 L496.75 36.88 L498.55 37.31 L499.91 36.44 L503.06 36.26 L508.5 35.95 L511.22 34.16 L513.94 30.07 L516.66 24.63 L519.32 19.25 L521.18 15.61 L521.61 12.08" stroke-width="1.3"/>
<path d="M498.48 12.08 L499.41 13.63 L500.83 14.43 L503.99 15.17 L506.71 13.94 L508.38 13.32 L509.86 12.08" stroke-width="1.3"/>
<path d="M515.8 46.83 L514.81 49.98 L513.01 54.5 L511.78 57.53 L511.22 56.29 L507.57 53.14 L504.42 49.06 L501.58 43.8 L500.34 43.8 L499.91 44.11 L503.06 49.98 L506.71 54.5 L509.43 57.22 L512.09 62.6 L515.73 70.76 L519.44 79.91 L521.36 81.33 L520.12 83.8 L520.93 85.72 L524.45 89.99 L528.22 93.08 L528.9 98.89 L530.39 104.7 L530.64 109.77 L531.87 113.48 L535.58 116.39 L538.67 120.28 L540.59 122.2 L542.07 129.5 L544.98 134.57 L548.57 136.36 L552.28 137.53 L558.09 141.18 L562.48 144.83 L566.87 149.9 L568.29 154.29 L566.13 156.45 L568.29 159.36 L574.16 164.49 L579.98 163.57 L587.89 161.4 L594.32 159.86 L601.74 159.24 L609.78 157.38 L612.87 156.15 L615.22 155.53 L616.89 155.84 L615.96 158.99 L616.58 163.57 L617.51 164.8 L615.96 166.04 L615.34 168.51" stroke-width="1.3"/>
<path d="M596.79 43.61 L599.89 41.14 L602.54 40.52 L606.07 43 L608.73 42.75 L611.45 45.59 L613.49 48.56 L614.97 51.78 L617.63 56.6 L623.13 58.58 L628.64 62.04 L632.72 63.4 L636.98 64.64 L639.64 64.64 L643.78 62.47 L646.44 61.85 L649.23 61.36 L652.63 64.02 L653.99 68.84 L657.39 70.51 L660.11 70.2 L665.61 71.62 L670.37 72.24 L672.23 72.68" stroke-width="1.3"/>
<path d="M611.94 66.8 L612.99 66.8 L612.87 69.27 L612.25 68.97 Z" stroke-width="1" fill="#fff"/>
<path d="M662.95 101.12 L664.5 102.35 L663.57 104.52 L662.33 102.97 Z" stroke-width="1" fill="#fff"/>
<path d="M546.71 104.21 L549.18 106.06 L551.04 109.77 L549.18 108.54 L547.02 105.75 Z" stroke-width="1" fill="#fff"/>
<path d="M552.28 112.25 L554.75 115.34 L553.51 115.96 L551.66 113.48 Z" stroke-width="1" fill="#fff"/>
<path d="M628.02 151.2 L630.18 149.96 L633.27 150.27 L636.37 150.46 L637.91 151.51 L635.75 153.05 L632.04 153.36 L629.56 152.44 Z" stroke-width="0.8" fill="#000"/>
<path d="M621.22 152.74 L622.14 151.2 L624 153.05 L622.76 154.29 Z" stroke-width="0.8" fill="#000"/>
<path d="M626.47 153.36 L629.25 153.36 L628.33 154.6 L626.78 154.41 Z" stroke-width="0.8" fill="#000"/>
<path d="M555.37 121.21 L558.46 120.59 L560.93 122.45 L561.86 125.23 L560.62 127.7 L557.84 127.7 L555.68 125.23 Z" stroke-width="0.8" fill="#000"/>
<path d="M561.55 126.47 L563.41 125.85 L564.33 128.32 L564.02 130.8 L562.79 130.8 L561.86 128.94 Z" stroke-width="0.8" fill="#000"/>
<path d="M562.79 141.31 L564.33 141.62 L564.95 144.09 L563.41 145.02 L562.79 143.16 Z" stroke-width="0.8" fill="#000"/>
<circle cx="563.41" cy="133.89" r="0.5" fill="#000" stroke="none"/>
<circle cx="527.54" cy="70.2" r="0.5" fill="#000" stroke="none"/>
<circle cx="529.4" cy="72.68" r="0.5" fill="#000" stroke="none"/>
<circle cx="540.53" cy="90.61" r="0.5" fill="#000" stroke="none"/>
<circle cx="557.22" cy="130.18" r="0.56" fill="#000" stroke="none"/>
<circle cx="559.7" cy="133.89" r="0.56" fill="#000" stroke="none"/>
<circle cx="554.75" cy="120.28" r="0.5" fill="#000" stroke="none"/>
<circle cx="552.89" cy="117.19" r="0.5" fill="#000" stroke="none"/>
<circle cx="624.62" cy="78.86" r="0.5" fill="#000" stroke="none"/>
<circle cx="628.33" cy="79.17" r="0.5" fill="#000" stroke="none"/>
<circle cx="633.89" cy="78.24" r="0.5" fill="#000" stroke="none"/>
<circle cx="633.58" cy="65.07" r="0.5" fill="#000" stroke="none"/>
<circle cx="629.56" cy="64.64" r="0.5" fill="#000" stroke="none"/>
<circle cx="622.76" cy="78.24" r="0.5" fill="#000" stroke="none"/>
<circle cx="620.29" cy="78.55" r="0.5" fill="#000" stroke="none"/>
<circle cx="631.42" cy="78.55" r="0.5" fill="#000" stroke="none"/>
<circle cx="635.13" cy="77.31" r="0.5" fill="#000" stroke="none"/>
<path d="M542.14 30.2 L528.47 33.97 L534.53 40.4 L531.63 43.06 L526.93 44.48 L524.08 46.83 L518.27 47.32 L516.11 47.45" stroke-width="1.8"/>
<path d="M587.83 49.18 L593.39 52.58 L599.39 52.64" stroke-width="1.25"/>
<path d="M619.05 79.17 L621.53 82.57 L625.24 87.21 L641.31 88.75" stroke-width="1.25"/>
<path d="M641.31 88.75 L644.22 93.08 L641.81 100.13 L640.08 105.45 L622.76 111.94" stroke-width="1.25"/>
<path d="M641.31 88.75 L643.17 83.19 L644.53 78.86 L646.44 73.54 L647.12 70.82" stroke-width="1.25"/>
<path d="M622.76 111.94 L609.78 113.17 L602.98 114.1 L595.56 116.57 L590.61 123.38 L582.88 122.2 L575.15 121.64 L568.35 121.46 L566.87 120.72 L565.88 123.38 L564.95 126.47" stroke-width="1.25"/>
<path d="M622.76 111.94 L627.09 124.67" stroke-width="1.25"/>
<path d="M516.17 47.2 L517.53 43.61 L518.89 38.05 L519.51 34.34 L519.82 30.01 L520.43 26.61 L524.45 28.47 L527.85 29.08 L532.24 26.36 L539.79 22.59 L541.52 29.27 L542.14 30.2 L549.8 31.87 L560.31 36.81 L576.39 48.56 L587.83 49.18 L591.6 43.31 L594.94 43 L598.03 43.49 L597.1 46.09 L595.87 47.02 L597.41 47.94 L599.39 52.58 L600.5 55.36 L602.36 57.53 L604.83 59.38 L607 61.55 L609.16 63.4 L610.09 64.95 L609.47 67.11 L610.4 69.27 L611.32 71.13 L612.56 73.29 L614.11 76.08 L614.11 72.68 L614.72 70.2 L615.65 68.04 L616.89 67.42 L618.43 68.66 L619.05 72.68 L619.05 75.46 L617.82 77.31 L619.05 79.17 L620.29 80.4 L622.76 80.09 L625.85 79.48 L629.56 80.09 L632.66 78.86 L636.37 78.24 L638.22 76.08 L640.69 74.22 L643.17 72.37 L645.02 70.51 L646.57 68.35 L647.49 66.49 L648.55 65.75 L649.04 67.11 L648.11 68.97 L648.42 72.06 L648.42 74.84 L649.35 77 L651.2 78.86 L654.3 81.02 L657.39 82.26 L660.11 82.88 L662.33 83.19 L664.19 85.66 L666.04 88.13 L667.9 89.37 L669.75 89.99 L668.21 94.01 L665.18 98.64 L663.26 100.81 L661.47 101.61 L658.38 103.9 L656.89 107.61 L657.76 110.58 L654.73 112.93 L649.41 115.21 L645.64 118.18 L641.13 120.41 L638.1 123.5 L633.89 124.3 L630.49 124.98 L624.31 127.46 L623.07 131.72 L619.05 132.96 L615.53 133.76 L611.01 136.36 L606.07 137.97 L601.12 141.92 L596.3 142.17 L591.85 144.4 L587.89 145.63 L582.57 146.56 L578.49 149.65 L575.15 150.27 L572.68 150.89 L568.66 150.89 L567.55 146.99 L566.87 141.18 L565.57 137.6 L565.38 135.31 L564.33 132.03 L565.38 128.01 L564.64 125.11 L562.48 121.46 L558.15 117.19 L553.82 111.32 L550.11 106.06 L545.17 100.5 L541.77 95.55 L541.15 91.22 L539.91 88.75 L537.13 83.19 L534.78 79.91 L530.33 73.91 L528.41 71.69 L526.31 68.04 L524.76 65.5 L522.97 62.6 L519.32 58.08 L515.8 56.29 L513.94 55.67 L514.87 52.89 L515.8 49.18 Z" stroke-width="1.9"/>
</g>
<rect x="485.5" y="12.7" width="185.49" height="154.57" fill="none" stroke="#222" stroke-width="1"/>
<path d="M485.5 166.47 v4.6 M516.41 166.47 v4.6 M547.33 166.47 v4.6 M578.25 166.47 v4.6 M609.16 166.47 v4.6 M640.08 166.47 v4.6 M670.99 166.47 v4.6 M486.1 167.27 h-4.8 M486.1 136.36 h-4.8 M486.1 105.45 h-4.8 M486.1 74.53 h-4.8 M486.1 43.61 h-4.8 M486.1 12.7 h-4.8" stroke="#111" stroke-width="1.2" fill="none"/>
<path d="M491.68 167.27 v2.2 M504.05 167.27 v2.2 M528.78 167.27 v2.2 M541.15 167.27 v2.2 M553.51 167.27 v2.2 M565.88 167.27 v2.2 M590.61 167.27 v2.2 M602.98 167.27 v2.2 M615.34 167.27 v2.2 M627.71 167.27 v2.2 M652.44 167.27 v2.2 M664.81 167.27 v2.2" stroke="#222" stroke-width="1" fill="none"/>
<g font-size="9.2" fill="#222"><text transform="translate(485.5 184.47) scale(1 1.08)" text-anchor="middle">30E</text><text transform="translate(516.41 184.47) scale(1 1.08)" text-anchor="middle">35E</text><text transform="translate(547.33 184.47) scale(1 1.08)" text-anchor="middle">40E</text><text transform="translate(578.25 184.47) scale(1 1.08)" text-anchor="middle">45E</text><text transform="translate(609.16 184.47) scale(1 1.08)" text-anchor="middle">50E</text><text transform="translate(640.08 184.47) scale(1 1.08)" text-anchor="middle">55E</text><text transform="translate(670.99 184.47) scale(1 1.08)" text-anchor="middle">60E</text><text transform="translate(476.2 170.27) scale(1 1.08)" text-anchor="end">10N</text><text transform="translate(476.2 139.36) scale(1 1.08)" text-anchor="end">15N</text><text transform="translate(476.2 108.45) scale(1 1.08)" text-anchor="end">20N</text><text transform="translate(476.2 77.53) scale(1 1.08)" text-anchor="end">25N</text><text transform="translate(476.2 46.61) scale(1 1.08)" text-anchor="end">30N</text><text transform="translate(476.2 15.7) scale(1 1.08)" text-anchor="end">35N</text></g>
<text x="484.9" y="8.8" font-size="10.75" font-weight="bold" fill="#111">c) BIAS</text>
<defs><clipPath id="landd"><path d="M60.66 283.29 L62.06 279.62 L63.45 273.91 L64.09 270.1 L64.4 265.66 L65.04 262.17 L69.16 264.07 L72.65 264.71 L77.15 261.92 L84.89 258.05 L86.67 264.9 L87.3 265.85 L95.17 267.56 L105.95 272.64 L122.44 284.69 L134.18 285.32 L138.05 279.3 L141.47 278.98 L144.64 279.49 L143.69 282.15 L142.42 283.1 L144.01 284.06 L146.04 288.81 L147.18 291.67 L149.08 293.89 L151.62 295.79 L153.84 298.01 L156.06 299.91 L157.01 301.5 L156.38 303.72 L157.33 305.94 L158.28 307.84 L159.55 310.06 L161.13 312.92 L161.13 309.43 L161.77 306.89 L162.72 304.67 L163.99 304.04 L165.57 305.3 L166.21 309.43 L166.21 312.28 L164.94 314.18 L166.21 316.09 L167.48 317.36 L170.01 317.04 L173.19 316.4 L176.99 317.04 L180.16 315.77 L183.97 315.14 L185.87 312.92 L188.41 311.01 L190.95 309.11 L192.85 307.21 L194.44 304.99 L195.39 303.08 L196.46 302.32 L196.97 303.72 L196.02 305.62 L196.34 308.79 L196.34 311.65 L197.29 313.87 L199.19 315.77 L202.36 317.99 L205.54 319.26 L208.33 319.89 L210.61 320.21 L212.51 322.75 L214.42 325.28 L216.32 326.55 L218.22 327.19 L216.64 331.31 L213.53 336.07 L211.56 338.29 L209.72 339.11 L206.55 341.46 L205.03 345.27 L205.92 348.31 L202.81 350.72 L197.35 353.07 L193.48 356.11 L188.85 358.4 L185.75 361.57 L181.43 362.39 L177.94 363.09 L171.6 365.63 L170.33 370 L166.21 371.27 L162.59 372.1 L157.96 374.76 L152.89 376.41 L147.81 380.47 L142.87 380.72 L138.3 383.01 L134.24 384.27 L128.79 385.23 L124.6 388.4 L121.17 389.03 L118.64 389.67 L114.51 389.67 L113.37 385.67 L112.67 379.71 L111.34 376.03 L111.15 373.68 L110.07 370.32 L111.15 366.2 L110.39 363.22 L108.17 359.47 L103.73 355.1 L99.29 349.07 L95.48 343.68 L90.41 337.97 L86.92 332.9 L86.29 328.46 L85.02 325.92 L82.16 320.21 L79.75 316.85 L75.19 310.7 L73.22 308.41 L71.06 304.67 L69.48 302.07 L67.64 299.09 L63.9 294.46 L60.28 292.62 L58.38 291.98 L59.33 289.13 L60.28 285.32 Z"/></clipPath>
<clipPath id="frd"><rect x="29.2" y="247.9" width="190.29" height="158.57"/></clipPath></defs>
<g clip-path="url(#landd)"><g filter="url(#bl)">
<rect x="54.27" y="253.94" width="165.52" height="6.94" fill="#b0f8fc"/>
<rect x="54.27" y="260.29" width="13.29" height="6.94" fill="#b0f8fc"/>
<rect x="66.96" y="260.29" width="6.94" height="6.94" fill="#f0d898"/>
<rect x="73.3" y="260.29" width="6.94" height="6.94" fill="#f0fcfc"/>
<rect x="79.64" y="260.29" width="140.15" height="6.94" fill="#b0f8fc"/>
<rect x="54.27" y="266.63" width="19.63" height="6.94" fill="#b0f8fc"/>
<rect x="73.3" y="266.63" width="13.29" height="6.94" fill="#f0fcfc"/>
<rect x="85.99" y="266.63" width="6.94" height="6.94" fill="#5090f8"/>
<rect x="92.33" y="266.63" width="127.46" height="6.94" fill="#b0f8fc"/>
<rect x="54.27" y="272.97" width="19.63" height="6.94" fill="#5090f8"/>
<rect x="73.3" y="272.97" width="6.94" height="6.94" fill="#b0f8fc"/>
<rect x="79.64" y="272.97" width="13.29" height="6.94" fill="#f0d898"/>
<rect x="92.33" y="272.97" width="13.29" height="6.94" fill="#b0f8fc"/>
<rect x="105.02" y="272.97" width="6.94" height="6.94" fill="#f83c40"/>
<rect x="111.36" y="272.97" width="108.43" height="6.94" fill="#b0f8fc"/>
<rect x="54.27" y="279.31" width="19.63" height="6.94" fill="#2000f8"/>
<rect x="73.3" y="279.31" width="6.94" height="6.94" fill="#5090f8"/>
<rect x="79.64" y="279.31" width="19.63" height="6.94" fill="#f0d898"/>
<rect x="98.67" y="279.31" width="13.29" height="6.94" fill="#b0f8fc"/>
<rect x="111.36" y="279.31" width="19.63" height="6.94" fill="#5090f8"/>
<rect x="130.39" y="279.31" width="6.94" height="6.94" fill="#b0f8fc"/>
<rect x="136.73" y="279.31" width="83.06" height="6.94" fill="#5090f8"/>
<rect x="54.27" y="285.66" width="32.31" height="6.94" fill="#b0f8fc"/>
<rect x="85.99" y="285.66" width="6.94" height="6.94" fill="#f83c40"/>
<rect x="92.33" y="285.66" width="6.94" height="6.94" fill="#f0d898"/>
<rect x="98.67" y="285.66" width="6.94" height="6.94" fill="#b0f8fc"/>
<rect x="105.02" y="285.66" width="25.97" height="6.94" fill="#5090f8"/>
<rect x="130.39" y="285.66" width="89.4" height="6.94" fill="#b0f8fc"/>
<rect x="54.27" y="292" width="19.63" height="6.94" fill="#b0f8fc"/>
<rect x="73.3" y="292" width="6.94" height="6.94" fill="#5090f8"/>
<rect x="79.64" y="292" width="6.94" height="6.94" fill="#b0f8fc"/>
<rect x="85.99" y="292" width="6.94" height="6.94" fill="#a8f0f8"/>
<rect x="92.33" y="292" width="6.94" height="6.94" fill="#b0f8fc"/>
<rect x="98.67" y="292" width="6.94" height="6.94" fill="#5090f8"/>
<rect x="105.02" y="292" width="6.94" height="6.94" fill="#2000f8"/>
<rect x="111.36" y="292" width="6.94" height="6.94" fill="#5090f8"/>
<rect x="117.7" y="292" width="6.94" height="6.94" fill="#b0f8fc"/>
<rect x="124.05" y="292" width="6.94" height="6.94" fill="#5090f8"/>
<rect x="130.39" y="292" width="89.4" height="6.94" fill="#b0f8fc"/>
<rect x="54.27" y="298.34" width="19.63" height="6.94" fill="#b0f8fc"/>
<rect x="73.3" y="298.34" width="6.94" height="6.94" fill="#f0d898"/>
<rect x="79.64" y="298.34" width="19.63" height="6.94" fill="#b0f8fc"/>
<rect x="98.67" y="298.34" width="6.94" height="6.94" fill="#5090f8"/>
<rect x="105.02" y="298.34" width="19.63" height="6.94" fill="#b0f8fc"/>
<rect x="124.05" y="298.34" width="6.94" height="6.94" fill="#5090f8"/>
<rect x="130.39" y="298.34" width="19.63" height="6.94" fill="#b0f8fc"/>
<rect x="149.42" y="298.34" width="70.37" height="6.94" fill="#5090f8"/>
<rect x="54.27" y="304.69" width="19.63" height="6.94" fill="#f0d898"/>
<rect x="73.3" y="304.69" width="13.29" height="6.94" fill="#f83c40"/>
<rect x="85.99" y="304.69" width="45" height="6.94" fill="#b0f8fc"/>
<rect x="130.39" y="304.69" width="6.94" height="6.94" fill="#5090f8"/>
<rect x="136.73" y="304.69" width="13.29" height="6.94" fill="#b0f8fc"/>
<rect x="149.42" y="304.69" width="6.94" height="6.94" fill="#5090f8"/>
<rect x="155.76" y="304.69" width="6.94" height="6.94" fill="#b0f8fc"/>
<rect x="162.1" y="304.69" width="57.69" height="6.94" fill="#5090f8"/>
<rect x="54.27" y="311.03" width="25.97" height="6.94" fill="#f0d898"/>
<rect x="79.64" y="311.03" width="13.29" height="6.94" fill="#b0f8fc"/>
<rect x="92.33" y="311.03" width="13.29" height="6.94" fill="#5090f8"/>
<rect x="105.02" y="311.03" width="13.29" height="6.94" fill="#b0f8fc"/>
<rect x="117.7" y="311.03" width="19.63" height="6.94" fill="#5090f8"/>
<rect x="136.73" y="311.03" width="6.94" height="6.94" fill="#b0f8fc"/>
<rect x="143.07" y="311.03" width="51.34" height="6.94" fill="#5090f8"/>
<rect x="193.82" y="311.03" width="25.97" height="6.94" fill="#b0f8fc"/>
<rect x="54.27" y="317.37" width="32.31" height="6.94" fill="#b0f8fc"/>
<rect x="85.99" y="317.37" width="19.63" height="6.94" fill="#5090f8"/>
<rect x="105.02" y="317.37" width="6.94" height="6.94" fill="#2000f8"/>
<rect x="111.36" y="317.37" width="19.63" height="6.94" fill="#5090f8"/>
<rect x="130.39" y="317.37" width="6.94" height="6.94" fill="#2000f8"/>
<rect x="136.73" y="317.37" width="19.63" height="6.94" fill="#5090f8"/>
<rect x="155.76" y="317.37" width="6.94" height="6.94" fill="#b0f8fc"/>
<rect x="162.1" y="317.37" width="25.97" height="6.94" fill="#5090f8"/>
<rect x="187.47" y="317.37" width="32.31" height="6.94" fill="#b0f8fc"/>
<rect x="54.27" y="323.72" width="38.66" height="6.94" fill="#5090f8"/>
<rect x="92.33" y="323.72" width="6.94" height="6.94" fill="#b0f8fc"/>
<rect x="98.67" y="323.72" width="6.94" height="6.94" fill="#5090f8"/>
<rect x="105.02" y="323.72" width="25.97" height="6.94" fill="#2000f8"/>
<rect x="130.39" y="323.72" width="6.94" height="6.94" fill="#5090f8"/>
<rect x="136.73" y="323.72" width="6.94" height="6.94" fill="#f0d898"/>
<rect x="143.07" y="323.72" width="6.94" height="6.94" fill="#b0f8fc"/>
<rect x="149.42" y="323.72" width="6.94" height="6.94" fill="#5090f8"/>
<rect x="155.76" y="323.72" width="19.63" height="6.94" fill="#2000f8"/>
<rect x="174.79" y="323.72" width="19.63" height="6.94" fill="#5090f8"/>
<rect x="193.82" y="323.72" width="19.63" height="6.94" fill="#b0f8fc"/>
<rect x="212.85" y="323.72" width="6.94" height="6.94" fill="#f0d898"/>
<rect x="54.27" y="330.06" width="51.34" height="6.94" fill="#5090f8"/>
<rect x="105.02" y="330.06" width="38.66" height="6.94" fill="#2000f8"/>
<rect x="143.07" y="330.06" width="6.94" height="6.94" fill="#5090f8"/>
<rect x="149.42" y="330.06" width="32.31" height="6.94" fill="#2000f8"/>
<rect x="181.13" y="330.06" width="13.29" height="6.94" fill="#5090f8"/>
<rect x="193.82" y="330.06" width="25.97" height="6.94" fill="#b0f8fc"/>
<rect x="54.27" y="336.4" width="57.69" height="6.94" fill="#5090f8"/>
<rect x="111.36" y="336.4" width="45" height="6.94" fill="#2000f8"/>
<rect x="155.76" y="336.4" width="6.94" height="6.94" fill="#5090f8"/>
<rect x="162.1" y="336.4" width="19.63" height="6.94" fill="#2000f8"/>
<rect x="181.13" y="336.4" width="19.63" height="6.94" fill="#5090f8"/>
<rect x="200.16" y="336.4" width="19.63" height="6.94" fill="#b0f8fc"/>
<rect x="54.27" y="342.75" width="64.03" height="6.94" fill="#5090f8"/>
<rect x="117.7" y="342.75" width="6.94" height="6.94" fill="#2000f8"/>
<rect x="124.05" y="342.75" width="6.94" height="6.94" fill="#5090f8"/>
<rect x="130.39" y="342.75" width="6.94" height="6.94" fill="#2000f8"/>
<rect x="136.73" y="342.75" width="6.94" height="6.94" fill="#5090f8"/>
<rect x="143.07" y="342.75" width="6.94" height="6.94" fill="#2000f8"/>
<rect x="149.42" y="342.75" width="51.34" height="6.94" fill="#5090f8"/>
<rect x="200.16" y="342.75" width="19.63" height="6.94" fill="#b0f8fc"/>
<rect x="54.27" y="349.09" width="146.49" height="6.94" fill="#5090f8"/>
<rect x="200.16" y="349.09" width="19.63" height="6.94" fill="#b0f8fc"/>
<rect x="54.27" y="355.43" width="70.37" height="6.94" fill="#5090f8"/>
<rect x="124.05" y="355.43" width="13.29" height="6.94" fill="#2000f8"/>
<rect x="136.73" y="355.43" width="83.06" height="6.94" fill="#5090f8"/>
<rect x="54.27" y="361.77" width="64.03" height="6.94" fill="#b0f8fc"/>
<rect x="117.7" y="361.77" width="6.94" height="6.94" fill="#5090f8"/>
<rect x="124.05" y="361.77" width="6.94" height="6.94" fill="#b0f8fc"/>
<rect x="130.39" y="361.77" width="6.94" height="6.94" fill="#5090f8"/>
<rect x="136.73" y="361.77" width="6.94" height="6.94" fill="#b0f8fc"/>
<rect x="143.07" y="361.77" width="6.94" height="6.94" fill="#5090f8"/>
<rect x="149.42" y="361.77" width="6.94" height="6.94" fill="#b0f8fc"/>
<rect x="155.76" y="361.77" width="64.03" height="6.94" fill="#5090f8"/>
<rect x="54.27" y="368.12" width="70.37" height="6.94" fill="#b0f8fc"/>
<rect x="124.05" y="368.12" width="6.94" height="6.94" fill="#5090f8"/>
<rect x="130.39" y="368.12" width="13.29" height="6.94" fill="#b0f8fc"/>
<rect x="143.07" y="368.12" width="6.94" height="6.94" fill="#5090f8"/>
<rect x="149.42" y="368.12" width="6.94" height="6.94" fill="#b0f8fc"/>
<rect x="155.76" y="368.12" width="64.03" height="6.94" fill="#5090f8"/>
<rect x="54.27" y="374.46" width="89.4" height="6.94" fill="#b0f8fc"/>
<rect x="143.07" y="374.46" width="6.94" height="6.94" fill="#5090f8"/>
<rect x="149.42" y="374.46" width="6.94" height="6.94" fill="#b0f8fc"/>
<rect x="155.76" y="374.46" width="64.03" height="6.94" fill="#5090f8"/>
<rect x="54.27" y="380.8" width="165.52" height="6.94" fill="#b0f8fc"/>
<rect x="54.27" y="387.15" width="165.52" height="6.94" fill="#b0f8fc"/>
</g>
<g clip-path="url(#landd)">
<g  stroke="#f42828" stroke-width="1.0" fill="none">
<path d="M-129.21 406.48 L29.37 247.9 M-121.16 406.48 L37.42 247.9 M-113.1 406.48 L45.47 247.9 M-105.05 406.48 L53.52 247.9 M-97 406.48 L61.58 247.9 M-88.95 406.48 L69.63 247.9 M-80.9 406.48 L77.68 247.9 M-72.84 406.48 L85.73 247.9 M-64.79 406.48 L93.78 247.9 M-56.74 406.48 L101.84 247.9 M-48.69 406.48 L109.89 247.9 M-40.64 406.48 L117.94 247.9 M-32.58 406.48 L125.99 247.9 M-24.53 406.48 L134.04 247.9 M-16.48 406.48 L142.1 247.9 M-8.43 406.48 L150.15 247.9 M-0.38 406.48 L158.2 247.9 M7.68 406.48 L166.25 247.9 M15.73 406.48 L174.3 247.9 M23.78 406.48 L182.36 247.9 M31.83 406.48 L190.41 247.9 M39.88 406.48 L198.46 247.9 M47.94 406.48 L206.51 247.9 M55.99 406.48 L214.56 247.9 M64.04 406.48 L222.62 247.9 M72.09 406.48 L230.67 247.9 M80.14 406.48 L238.72 247.9 M88.2 406.48 L246.77 247.9 M96.25 406.48 L254.82 247.9 M104.3 406.48 L262.88 247.9 M112.35 406.48 L270.93 247.9 M120.4 406.48 L278.98 247.9 M128.46 406.48 L287.03 247.9 M136.51 406.48 L295.08 247.9 M144.56 406.48 L303.14 247.9 M152.61 406.48 L311.19 247.9 M160.66 406.48 L319.24 247.9 M168.72 406.48 L327.29 247.9 M176.77 406.48 L335.34 247.9 M184.82 406.48 L343.4 247.9 M192.87 406.48 L351.45 247.9 M200.92 406.48 L359.5 247.9 M208.98 406.48 L367.55 247.9 M217.03 406.48 L375.6 247.9"/>
</g></g>
<clipPath id="hd1"><path d="M83.75 325.28 L100.24 320.21 L120.54 318.31 L140.2 322.11 L157.96 318.94 L175.09 315.77 L191.58 320.84 L191.58 343.05 L171.92 350.66 L161.77 355.73 L141.47 355.73 L111.66 358.27 L98.97 357 L87.56 343.05 Z"/></clipPath>
<g clip-path="url(#landd)">
<g clip-path="url(#hd1)" stroke="#f42828" stroke-width="1.0" fill="none">
<path d="M-128.34 247.9 L30.23 406.48 M-120.29 247.9 L38.28 406.48 M-112.24 247.9 L46.34 406.48 M-104.19 247.9 L54.39 406.48 M-96.14 247.9 L62.44 406.48 M-88.08 247.9 L70.49 406.48 M-80.03 247.9 L78.54 406.48 M-71.98 247.9 L86.6 406.48 M-63.93 247.9 L94.65 406.48 M-55.88 247.9 L102.7 406.48 M-47.82 247.9 L110.75 406.48 M-39.77 247.9 L118.8 406.48 M-31.72 247.9 L126.86 406.48 M-23.67 247.9 L134.91 406.48 M-15.62 247.9 L142.96 406.48 M-7.56 247.9 L151.01 406.48 M0.49 247.9 L159.06 406.48 M8.54 247.9 L167.12 406.48 M16.59 247.9 L175.17 406.48 M24.64 247.9 L183.22 406.48 M32.7 247.9 L191.27 406.48 M40.75 247.9 L199.32 406.48 M48.8 247.9 L207.38 406.48 M56.85 247.9 L215.43 406.48 M64.9 247.9 L223.48 406.48 M72.96 247.9 L231.53 406.48 M81.01 247.9 L239.58 406.48 M89.06 247.9 L247.64 406.48 M97.11 247.9 L255.69 406.48 M105.16 247.9 L263.74 406.48 M113.22 247.9 L271.79 406.48 M121.27 247.9 L279.84 406.48 M129.32 247.9 L287.89 406.48 M137.37 247.9 L295.95 406.48 M145.42 247.9 L304 406.48 M153.48 247.9 L312.05 406.48 M161.53 247.9 L320.1 406.48 M169.58 247.9 L328.16 406.48 M177.63 247.9 L336.21 406.48 M185.68 247.9 L344.26 406.48 M193.74 247.9 L352.31 406.48 M201.79 247.9 L360.36 406.48 M209.84 247.9 L368.42 406.48 M217.89 247.9 L376.47 406.48"/>
</g></g>
<path d="M73.92 270.1 L80.13 276.19 L78.99 279.81 L84.13 282.03 L91.36 280.5 L91.36 276.89 L88.19 272 L81.85 269.47 Z" fill="#fff"/>
</g>
<g clip-path="url(#frd)" fill="none" stroke="#000" stroke-linejoin="round">
<path d="M28.57 272 L32.37 270.8 L36.11 269.91 L39.35 270.35 L40.74 272.7 L42.58 273.15 L43.98 272.26 L47.21 272.07 L52.8 271.75 L55.59 269.91 L58.38 265.72 L61.17 260.14 L63.9 254.62 L65.8 250.88 L66.24 247.27" stroke-width="1.3"/>
<path d="M42.52 247.27 L43.47 248.85 L44.93 249.68 L48.17 250.44 L50.96 249.17 L52.67 248.53 L54.19 247.27" stroke-width="1.3"/>
<path d="M60.28 282.91 L59.27 286.15 L57.43 290.78 L56.16 293.89 L55.59 292.62 L51.84 289.38 L48.61 285.2 L45.69 279.81 L44.42 279.81 L43.98 280.12 L47.21 286.15 L50.96 290.78 L53.75 293.57 L56.47 299.09 L60.22 307.46 L64.02 316.85 L65.99 318.31 L64.72 320.84 L65.55 322.81 L69.16 327.19 L73.03 330.36 L73.73 336.32 L75.25 342.28 L75.5 347.49 L76.77 351.29 L80.58 354.27 L83.75 358.27 L85.72 360.23 L87.24 367.72 L90.22 372.92 L93.9 374.76 L97.7 375.97 L103.67 379.71 L108.17 383.45 L112.67 388.65 L114.13 393.15 L111.91 395.37 L114.13 398.36 L120.16 403.62 L126.12 402.67 L134.24 400.45 L140.84 398.86 L148.45 398.23 L156.69 396.33 L159.87 395.06 L162.28 394.42 L163.99 394.74 L163.04 397.98 L163.67 402.67 L164.62 403.94 L163.04 405.21 L162.4 407.74" stroke-width="1.3"/>
<path d="M143.37 279.62 L146.55 277.08 L149.27 276.44 L152.89 278.98 L155.62 278.73 L158.41 281.64 L160.5 284.69 L162.02 287.99 L164.75 292.94 L170.4 294.97 L176.04 298.52 L180.23 299.91 L184.6 301.18 L187.33 301.18 L191.58 298.96 L194.31 298.33 L197.16 297.82 L200.65 300.55 L202.05 305.49 L205.54 307.21 L208.33 306.89 L213.97 308.35 L218.86 308.98 L220.76 309.43" stroke-width="1.3"/>
<path d="M158.91 303.4 L159.99 303.4 L159.87 305.94 L159.23 305.62 Z" stroke-width="1" fill="#fff"/>
<path d="M211.24 338.6 L212.83 339.87 L211.88 342.09 L210.61 340.51 Z" stroke-width="1" fill="#fff"/>
<path d="M92 341.78 L94.53 343.68 L96.44 347.49 L94.53 346.22 L92.31 343.36 Z" stroke-width="1" fill="#fff"/>
<path d="M97.7 350.02 L100.24 353.19 L98.97 353.83 L97.07 351.29 Z" stroke-width="1" fill="#fff"/>
<path d="M175.41 389.98 L177.63 388.71 L180.8 389.03 L183.97 389.22 L185.55 390.3 L183.33 391.89 L179.53 392.2 L176.99 391.25 Z" stroke-width="0.8" fill="#000"/>
<path d="M168.43 391.57 L169.38 389.98 L171.28 391.89 L170.01 393.15 Z" stroke-width="0.8" fill="#000"/>
<path d="M173.82 392.2 L176.67 392.2 L175.72 393.47 L174.14 393.28 Z" stroke-width="0.8" fill="#000"/>
<path d="M100.88 359.22 L104.05 358.59 L106.58 360.49 L107.54 363.34 L106.27 365.88 L103.41 365.88 L101.19 363.34 Z" stroke-width="0.8" fill="#000"/>
<path d="M107.22 364.61 L109.12 363.98 L110.07 366.51 L109.76 369.05 L108.49 369.05 L107.54 367.15 Z" stroke-width="0.8" fill="#000"/>
<path d="M108.49 379.83 L110.07 380.15 L110.71 382.69 L109.12 383.64 L108.49 381.74 Z" stroke-width="0.8" fill="#000"/>
<circle cx="109.12" cy="372.22" r="0.51" fill="#000" stroke="none"/>
<circle cx="72.33" cy="306.89" r="0.5" fill="#000" stroke="none"/>
<circle cx="74.24" cy="309.43" r="0.5" fill="#000" stroke="none"/>
<circle cx="85.65" cy="327.82" r="0.5" fill="#000" stroke="none"/>
<circle cx="102.78" cy="368.42" r="0.57" fill="#000" stroke="none"/>
<circle cx="105.32" cy="372.22" r="0.57" fill="#000" stroke="none"/>
<circle cx="100.24" cy="358.27" r="0.5" fill="#000" stroke="none"/>
<circle cx="98.34" cy="355.1" r="0.5" fill="#000" stroke="none"/>
<circle cx="171.92" cy="315.77" r="0.51" fill="#000" stroke="none"/>
<circle cx="175.72" cy="316.09" r="0.51" fill="#000" stroke="none"/>
<circle cx="181.43" cy="315.14" r="0.5" fill="#000" stroke="none"/>
<circle cx="181.11" cy="301.63" r="0.5" fill="#000" stroke="none"/>
<circle cx="176.99" cy="301.18" r="0.5" fill="#000" stroke="none"/>
<circle cx="170.01" cy="315.14" r="0.5" fill="#000" stroke="none"/>
<circle cx="167.48" cy="315.45" r="0.5" fill="#000" stroke="none"/>
<circle cx="178.89" cy="315.45" r="0.5" fill="#000" stroke="none"/>
<circle cx="182.7" cy="314.18" r="0.5" fill="#000" stroke="none"/>
<path d="M87.3 265.85 L73.28 269.72 L79.5 276.32 L76.52 279.04 L71.7 280.5 L68.78 282.91 L62.82 283.42 L60.6 283.55" stroke-width="1.8"/>
<path d="M134.18 285.32 L139.89 288.81 L146.04 288.88" stroke-width="1.25"/>
<path d="M166.21 316.09 L168.75 319.58 L172.55 324.33 L189.04 325.92" stroke-width="1.25"/>
<path d="M189.04 325.92 L192.02 330.36 L189.55 337.59 L187.77 343.05 L170.01 349.71" stroke-width="1.25"/>
<path d="M189.04 325.92 L190.95 320.21 L192.34 315.77 L194.31 310.32 L195.01 307.52" stroke-width="1.25"/>
<path d="M170.01 349.71 L156.69 350.97 L149.72 351.93 L142.11 354.46 L137.03 361.44 L129.1 360.23 L121.17 359.66 L114.2 359.47 L112.67 358.71 L111.66 361.44 L110.71 364.61" stroke-width="1.25"/>
<path d="M170.01 349.71 L174.45 362.77" stroke-width="1.25"/>
<path d="M60.66 283.29 L62.06 279.62 L63.45 273.91 L64.09 270.1 L64.4 265.66 L65.04 262.17 L69.16 264.07 L72.65 264.71 L77.15 261.92 L84.89 258.05 L86.67 264.9 L87.3 265.85 L95.17 267.56 L105.95 272.64 L122.44 284.69 L134.18 285.32 L138.05 279.3 L141.47 278.98 L144.64 279.49 L143.69 282.15 L142.42 283.1 L144.01 284.06 L146.04 288.81 L147.18 291.67 L149.08 293.89 L151.62 295.79 L153.84 298.01 L156.06 299.91 L157.01 301.5 L156.38 303.72 L157.33 305.94 L158.28 307.84 L159.55 310.06 L161.13 312.92 L161.13 309.43 L161.77 306.89 L162.72 304.67 L163.99 304.04 L165.57 305.3 L166.21 309.43 L166.21 312.28 L164.94 314.18 L166.21 316.09 L167.48 317.36 L170.01 317.04 L173.19 316.4 L176.99 317.04 L180.16 315.77 L183.97 315.14 L185.87 312.92 L188.41 311.01 L190.95 309.11 L192.85 307.21 L194.44 304.99 L195.39 303.08 L196.46 302.32 L196.97 303.72 L196.02 305.62 L196.34 308.79 L196.34 311.65 L197.29 313.87 L199.19 315.77 L202.36 317.99 L205.54 319.26 L208.33 319.89 L210.61 320.21 L212.51 322.75 L214.42 325.28 L216.32 326.55 L218.22 327.19 L216.64 331.31 L213.53 336.07 L211.56 338.29 L209.72 339.11 L206.55 341.46 L205.03 345.27 L205.92 348.31 L202.81 350.72 L197.35 353.07 L193.48 356.11 L188.85 358.4 L185.75 361.57 L181.43 362.39 L177.94 363.09 L171.6 365.63 L170.33 370 L166.21 371.27 L162.59 372.1 L157.96 374.76 L152.89 376.41 L147.81 380.47 L142.87 380.72 L138.3 383.01 L134.24 384.27 L128.79 385.23 L124.6 388.4 L121.17 389.03 L118.64 389.67 L114.51 389.67 L113.37 385.67 L112.67 379.71 L111.34 376.03 L111.15 373.68 L110.07 370.32 L111.15 366.2 L110.39 363.22 L108.17 359.47 L103.73 355.1 L99.29 349.07 L95.48 343.68 L90.41 337.97 L86.92 332.9 L86.29 328.46 L85.02 325.92 L82.16 320.21 L79.75 316.85 L75.19 310.7 L73.22 308.41 L71.06 304.67 L69.48 302.07 L67.64 299.09 L63.9 294.46 L60.28 292.62 L58.38 291.98 L59.33 289.13 L60.28 285.32 Z" stroke-width="1.9"/>
</g>
<rect x="29.2" y="247.9" width="190.29" height="158.57" fill="none" stroke="#222" stroke-width="1"/>
<path d="M29.2 405.68 v4.6 M60.91 405.68 v4.6 M92.63 405.68 v4.6 M124.34 405.68 v4.6 M156.06 405.68 v4.6 M187.77 405.68 v4.6 M219.49 405.68 v4.6 M29.8 406.48 h-4.8 M29.8 374.76 h-4.8 M29.8 343.05 h-4.8 M29.8 311.33 h-4.8 M29.8 279.62 h-4.8 M29.8 247.9 h-4.8" stroke="#111" stroke-width="1.2" fill="none"/>
<path d="M35.54 406.48 v2.2 M48.23 406.48 v2.2 M73.6 406.48 v2.2 M86.29 406.48 v2.2 M98.97 406.48 v2.2 M111.66 406.48 v2.2 M137.03 406.48 v2.2 M149.72 406.48 v2.2 M162.4 406.48 v2.2 M175.09 406.48 v2.2 M200.46 406.48 v2.2 M213.15 406.48 v2.2" stroke="#222" stroke-width="1" fill="none"/>
<g font-size="9.2" fill="#222"><text transform="translate(29.2 423.68) scale(1 1.08)" text-anchor="middle">30E</text><text transform="translate(60.91 423.68) scale(1 1.08)" text-anchor="middle">35E</text><text transform="translate(92.63 423.68) scale(1 1.08)" text-anchor="middle">40E</text><text transform="translate(124.34 423.68) scale(1 1.08)" text-anchor="middle">45E</text><text transform="translate(156.06 423.68) scale(1 1.08)" text-anchor="middle">50E</text><text transform="translate(187.77 423.68) scale(1 1.08)" text-anchor="middle">55E</text><text transform="translate(219.49 423.68) scale(1 1.08)" text-anchor="middle">60E</text><text transform="translate(19.9 409.48) scale(1 1.08)" text-anchor="end">10N</text><text transform="translate(19.9 377.76) scale(1 1.08)" text-anchor="end">15N</text><text transform="translate(19.9 346.05) scale(1 1.08)" text-anchor="end">20N</text><text transform="translate(19.9 314.33) scale(1 1.08)" text-anchor="end">25N</text><text transform="translate(19.9 282.62) scale(1 1.08)" text-anchor="end">30N</text><text transform="translate(19.9 250.9) scale(1 1.08)" text-anchor="end">35N</text></g>
<text x="29.1" y="243.8" font-size="11.1" font-weight="bold" fill="#111">d) SSP1-2.6: 2021-2050</text>
<defs><clipPath id="lande"><path d="M288.36 283.29 L289.76 279.62 L291.15 273.91 L291.79 270.1 L292.1 265.66 L292.74 262.17 L296.86 264.07 L300.35 264.71 L304.85 261.92 L312.59 258.05 L314.37 264.9 L315 265.85 L322.87 267.56 L333.65 272.64 L350.14 284.69 L361.88 285.32 L365.75 279.3 L369.17 278.98 L372.34 279.49 L371.39 282.15 L370.12 283.1 L371.71 284.06 L373.74 288.81 L374.88 291.67 L376.78 293.89 L379.32 295.79 L381.54 298.01 L383.76 299.91 L384.71 301.5 L384.08 303.72 L385.03 305.94 L385.98 307.84 L387.25 310.06 L388.83 312.92 L388.83 309.43 L389.47 306.89 L390.42 304.67 L391.69 304.04 L393.27 305.3 L393.91 309.43 L393.91 312.28 L392.64 314.18 L393.91 316.09 L395.18 317.36 L397.71 317.04 L400.89 316.4 L404.69 317.04 L407.86 315.77 L411.67 315.14 L413.57 312.92 L416.11 311.01 L418.65 309.11 L420.55 307.21 L422.14 304.99 L423.09 303.08 L424.16 302.32 L424.67 303.72 L423.72 305.62 L424.04 308.79 L424.04 311.65 L424.99 313.87 L426.89 315.77 L430.06 317.99 L433.24 319.26 L436.03 319.89 L438.31 320.21 L440.21 322.75 L442.12 325.28 L444.02 326.55 L445.92 327.19 L444.34 331.31 L441.23 336.07 L439.26 338.29 L437.42 339.11 L434.25 341.46 L432.73 345.27 L433.62 348.31 L430.51 350.72 L425.05 353.07 L421.18 356.11 L416.55 358.4 L413.45 361.57 L409.13 362.39 L405.64 363.09 L399.3 365.63 L398.03 370 L393.91 371.27 L390.29 372.1 L385.66 374.76 L380.59 376.41 L375.51 380.47 L370.57 380.72 L366 383.01 L361.94 384.27 L356.49 385.23 L352.3 388.4 L348.87 389.03 L346.34 389.67 L342.21 389.67 L341.07 385.67 L340.37 379.71 L339.04 376.03 L338.85 373.68 L337.77 370.32 L338.85 366.2 L338.09 363.22 L335.87 359.47 L331.43 355.1 L326.99 349.07 L323.18 343.68 L318.11 337.97 L314.62 332.9 L313.99 328.46 L312.72 325.92 L309.86 320.21 L307.45 316.85 L302.89 310.7 L300.92 308.41 L298.76 304.67 L297.18 302.07 L295.34 299.09 L291.6 294.46 L287.98 292.62 L286.08 291.98 L287.03 289.13 L287.98 285.32 Z"/></clipPath>
<clipPath id="fre"><rect x="256.9" y="247.9" width="190.29" height="158.57"/></clipPath></defs>
<g clip-path="url(#lande)"><g filter="url(#bl)">
<rect x="281.97" y="253.94" width="19.63" height="6.94" fill="#b0f8fc"/>
<rect x="301" y="253.94" width="6.94" height="6.94" fill="#5090f8"/>
<rect x="307.34" y="253.94" width="6.94" height="6.94" fill="#2000f8"/>
<rect x="313.69" y="253.94" width="133.8" height="6.94" fill="#5090f8"/>
<rect x="281.97" y="260.29" width="19.63" height="6.94" fill="#b0f8fc"/>
<rect x="301" y="260.29" width="13.29" height="6.94" fill="#2000f8"/>
<rect x="313.69" y="260.29" width="133.8" height="6.94" fill="#5090f8"/>
<rect x="281.97" y="266.63" width="13.29" height="6.94" fill="#b0f8fc"/>
<rect x="294.66" y="266.63" width="6.94" height="6.94" fill="#f0d898"/>
<rect x="301" y="266.63" width="13.29" height="6.94" fill="#f0fcfc"/>
<rect x="313.69" y="266.63" width="6.94" height="6.94" fill="#2000f8"/>
<rect x="320.03" y="266.63" width="127.46" height="6.94" fill="#5090f8"/>
<rect x="281.97" y="272.97" width="13.29" height="6.94" fill="#f83c40"/>
<rect x="294.66" y="272.97" width="6.94" height="6.94" fill="#5090f8"/>
<rect x="301" y="272.97" width="6.94" height="6.94" fill="#f83c40"/>
<rect x="307.34" y="272.97" width="6.94" height="6.94" fill="#b0f8fc"/>
<rect x="313.69" y="272.97" width="6.94" height="6.94" fill="#5090f8"/>
<rect x="320.03" y="272.97" width="13.29" height="6.94" fill="#b0f8fc"/>
<rect x="332.72" y="272.97" width="114.77" height="6.94" fill="#5090f8"/>
<rect x="281.97" y="279.31" width="6.94" height="6.94" fill="#f0d898"/>
<rect x="288.31" y="279.31" width="6.94" height="6.94" fill="#b0f8fc"/>
<rect x="294.66" y="279.31" width="6.94" height="6.94" fill="#5090f8"/>
<rect x="301" y="279.31" width="6.94" height="6.94" fill="#2000f8"/>
<rect x="307.34" y="279.31" width="6.94" height="6.94" fill="#b0f8fc"/>
<rect x="313.69" y="279.31" width="6.94" height="6.94" fill="#f0d898"/>
<rect x="320.03" y="279.31" width="6.94" height="6.94" fill="#b0f8fc"/>
<rect x="326.37" y="279.31" width="6.94" height="6.94" fill="#5090f8"/>
<rect x="332.72" y="279.31" width="25.97" height="6.94" fill="#2000f8"/>
<rect x="358.09" y="279.31" width="89.4" height="6.94" fill="#5090f8"/>
<rect x="281.97" y="285.66" width="19.63" height="6.94" fill="#b0f8fc"/>
<rect x="301" y="285.66" width="6.94" height="6.94" fill="#2000f8"/>
<rect x="307.34" y="285.66" width="6.94" height="6.94" fill="#5090f8"/>
<rect x="313.69" y="285.66" width="13.29" height="6.94" fill="#b0f8fc"/>
<rect x="326.37" y="285.66" width="13.29" height="6.94" fill="#5090f8"/>
<rect x="339.06" y="285.66" width="19.63" height="6.94" fill="#2000f8"/>
<rect x="358.09" y="285.66" width="89.4" height="6.94" fill="#5090f8"/>
<rect x="281.97" y="292" width="25.97" height="6.94" fill="#5090f8"/>
<rect x="307.34" y="292" width="19.63" height="6.94" fill="#b0f8fc"/>
<rect x="326.37" y="292" width="19.63" height="6.94" fill="#5090f8"/>
<rect x="345.4" y="292" width="6.94" height="6.94" fill="#2000f8"/>
<rect x="351.74" y="292" width="95.74" height="6.94" fill="#5090f8"/>
<rect x="281.97" y="298.34" width="19.63" height="6.94" fill="#5090f8"/>
<rect x="301" y="298.34" width="25.97" height="6.94" fill="#b0f8fc"/>
<rect x="326.37" y="298.34" width="6.94" height="6.94" fill="#5090f8"/>
<rect x="332.72" y="298.34" width="6.94" height="6.94" fill="#b0f8fc"/>
<rect x="339.06" y="298.34" width="108.43" height="6.94" fill="#5090f8"/>
<rect x="281.97" y="304.69" width="19.63" height="6.94" fill="#b0f8fc"/>
<rect x="301" y="304.69" width="6.94" height="6.94" fill="#f83c40"/>
<rect x="307.34" y="304.69" width="6.94" height="6.94" fill="#b0f8fc"/>
<rect x="313.69" y="304.69" width="6.94" height="6.94" fill="#5090f8"/>
<rect x="320.03" y="304.69" width="19.63" height="6.94" fill="#b0f8fc"/>
<rect x="339.06" y="304.69" width="38.66" height="6.94" fill="#5090f8"/>
<rect x="377.12" y="304.69" width="6.94" height="6.94" fill="#b0f8fc"/>
<rect x="383.46" y="304.69" width="64.03" height="6.94" fill="#5090f8"/>
<rect x="281.97" y="311.03" width="51.34" height="6.94" fill="#b0f8fc"/>
<rect x="332.72" y="311.03" width="83.06" height="6.94" fill="#5090f8"/>
<rect x="415.17" y="311.03" width="6.94" height="6.94" fill="#b0f8fc"/>
<rect x="421.52" y="311.03" width="6.94" height="6.94" fill="#5090f8"/>
<rect x="427.86" y="311.03" width="19.63" height="6.94" fill="#b0f8fc"/>
<rect x="281.97" y="317.37" width="45" height="6.94" fill="#b0f8fc"/>
<rect x="326.37" y="317.37" width="13.29" height="6.94" fill="#5090f8"/>
<rect x="339.06" y="317.37" width="6.94" height="6.94" fill="#2000f8"/>
<rect x="345.4" y="317.37" width="13.29" height="6.94" fill="#5090f8"/>
<rect x="358.09" y="317.37" width="6.94" height="6.94" fill="#b0f8fc"/>
<rect x="364.43" y="317.37" width="51.34" height="6.94" fill="#5090f8"/>
<rect x="415.17" y="317.37" width="32.31" height="6.94" fill="#b0f8fc"/>
<rect x="281.97" y="323.72" width="45" height="6.94" fill="#b0f8fc"/>
<rect x="326.37" y="323.72" width="25.97" height="6.94" fill="#5090f8"/>
<rect x="351.74" y="323.72" width="19.63" height="6.94" fill="#b0f8fc"/>
<rect x="370.77" y="323.72" width="6.94" height="6.94" fill="#5090f8"/>
<rect x="377.12" y="323.72" width="13.29" height="6.94" fill="#2000f8"/>
<rect x="389.8" y="323.72" width="25.97" height="6.94" fill="#5090f8"/>
<rect x="415.17" y="323.72" width="32.31" height="6.94" fill="#b0f8fc"/>
<rect x="281.97" y="330.06" width="45" height="6.94" fill="#b0f8fc"/>
<rect x="326.37" y="330.06" width="19.63" height="6.94" fill="#5090f8"/>
<rect x="345.4" y="330.06" width="19.63" height="6.94" fill="#2000f8"/>
<rect x="364.43" y="330.06" width="6.94" height="6.94" fill="#5090f8"/>
<rect x="370.77" y="330.06" width="19.63" height="6.94" fill="#2000f8"/>
<rect x="389.8" y="330.06" width="25.97" height="6.94" fill="#5090f8"/>
<rect x="415.17" y="330.06" width="32.31" height="6.94" fill="#b0f8fc"/>
<rect x="281.97" y="336.4" width="51.34" height="6.94" fill="#b0f8fc"/>
<rect x="332.72" y="336.4" width="13.29" height="6.94" fill="#5090f8"/>
<rect x="345.4" y="336.4" width="13.29" height="6.94" fill="#2000f8"/>
<rect x="358.09" y="336.4" width="51.34" height="6.94" fill="#5090f8"/>
<rect x="408.83" y="336.4" width="19.63" height="6.94" fill="#b0f8fc"/>
<rect x="427.86" y="336.4" width="6.94" height="6.94" fill="#5090f8"/>
<rect x="434.2" y="336.4" width="13.29" height="6.94" fill="#b0f8fc"/>
<rect x="281.97" y="342.75" width="51.34" height="6.94" fill="#b0f8fc"/>
<rect x="332.72" y="342.75" width="19.63" height="6.94" fill="#5090f8"/>
<rect x="351.74" y="342.75" width="6.94" height="6.94" fill="#b0f8fc"/>
<rect x="358.09" y="342.75" width="6.94" height="6.94" fill="#5090f8"/>
<rect x="364.43" y="342.75" width="6.94" height="6.94" fill="#b0f8fc"/>
<rect x="370.77" y="342.75" width="32.31" height="6.94" fill="#5090f8"/>
<rect x="402.49" y="342.75" width="13.29" height="6.94" fill="#b0f8fc"/>
<rect x="415.17" y="342.75" width="19.63" height="6.94" fill="#5090f8"/>
<rect x="434.2" y="342.75" width="13.29" height="6.94" fill="#b0f8fc"/>
<rect x="281.97" y="349.09" width="51.34" height="6.94" fill="#b0f8fc"/>
<rect x="332.72" y="349.09" width="19.63" height="6.94" fill="#5090f8"/>
<rect x="351.74" y="349.09" width="25.97" height="6.94" fill="#b0f8fc"/>
<rect x="377.12" y="349.09" width="51.34" height="6.94" fill="#5090f8"/>
<rect x="427.86" y="349.09" width="19.63" height="6.94" fill="#b0f8fc"/>
<rect x="281.97" y="355.43" width="76.72" height="6.94" fill="#5090f8"/>
<rect x="358.09" y="355.43" width="13.29" height="6.94" fill="#b0f8fc"/>
<rect x="370.77" y="355.43" width="76.72" height="6.94" fill="#5090f8"/>
<rect x="281.97" y="361.77" width="70.37" height="6.94" fill="#b0f8fc"/>
<rect x="351.74" y="361.77" width="95.74" height="6.94" fill="#5090f8"/>
<rect x="281.97" y="368.12" width="64.03" height="6.94" fill="#b0f8fc"/>
<rect x="345.4" y="368.12" width="6.94" height="6.94" fill="#5090f8"/>
<rect x="351.74" y="368.12" width="6.94" height="6.94" fill="#b0f8fc"/>
<rect x="358.09" y="368.12" width="89.4" height="6.94" fill="#5090f8"/>
<rect x="281.97" y="374.46" width="70.37" height="6.94" fill="#b0f8fc"/>
<rect x="351.74" y="374.46" width="95.74" height="6.94" fill="#5090f8"/>
<rect x="281.97" y="380.8" width="70.37" height="6.94" fill="#b0f8fc"/>
<rect x="351.74" y="380.8" width="95.74" height="6.94" fill="#5090f8"/>
<rect x="281.97" y="387.15" width="70.37" height="6.94" fill="#b0f8fc"/>
<rect x="351.74" y="387.15" width="95.74" height="6.94" fill="#5090f8"/>
</g>
<g clip-path="url(#lande)">
<g  stroke="#f42828" stroke-width="1.0" fill="none">
<path d="M104.3 406.48 L262.88 247.9 M112.35 406.48 L270.93 247.9 M120.4 406.48 L278.98 247.9 M128.46 406.48 L287.03 247.9 M136.51 406.48 L295.08 247.9 M144.56 406.48 L303.14 247.9 M152.61 406.48 L311.19 247.9 M160.66 406.48 L319.24 247.9 M168.72 406.48 L327.29 247.9 M176.77 406.48 L335.34 247.9 M184.82 406.48 L343.4 247.9 M192.87 406.48 L351.45 247.9 M200.92 406.48 L359.5 247.9 M208.98 406.48 L367.55 247.9 M217.03 406.48 L375.6 247.9 M225.08 406.48 L383.66 247.9 M233.13 406.48 L391.71 247.9 M241.18 406.48 L399.76 247.9 M249.24 406.48 L407.81 247.9 M257.29 406.48 L415.86 247.9 M265.34 406.48 L423.92 247.9 M273.39 406.48 L431.97 247.9 M281.44 406.48 L440.02 247.9 M289.5 406.48 L448.07 247.9 M297.55 406.48 L456.12 247.9 M305.6 406.48 L464.18 247.9 M313.65 406.48 L472.23 247.9 M321.7 406.48 L480.28 247.9 M329.76 406.48 L488.33 247.9 M337.81 406.48 L496.38 247.9 M345.86 406.48 L504.44 247.9 M353.91 406.48 L512.49 247.9 M361.96 406.48 L520.54 247.9 M370.02 406.48 L528.59 247.9 M378.07 406.48 L536.64 247.9 M386.12 406.48 L544.7 247.9 M394.17 406.48 L552.75 247.9 M402.22 406.48 L560.8 247.9 M410.28 406.48 L568.85 247.9 M418.33 406.48 L576.9 247.9 M426.38 406.48 L584.96 247.9 M434.43 406.48 L593.01 247.9 M442.48 406.48 L601.06 247.9"/>
</g></g>
<clipPath id="he1"><path d="M329.84 284.69 L367.9 280.88 L383.76 301.82 L393.27 314.5 L409.13 316.4 L412.3 330.36 L405.96 346.22 L399.62 358.9 L390.1 374.76 L377.42 381.1 L358.39 384.27 L358.39 362.07 L345.7 352.56 L336.19 343.05 L320.33 327.19 L323.5 311.33 L329.84 298.64 Z"/></clipPath>
<g clip-path="url(#lande)">
<g clip-path="url(#he1)" stroke="#f42828" stroke-width="1.0" fill="none">
<path d="M97.11 247.9 L255.69 406.48 M105.16 247.9 L263.74 406.48 M113.22 247.9 L271.79 406.48 M121.27 247.9 L279.84 406.48 M129.32 247.9 L287.89 406.48 M137.37 247.9 L295.95 406.48 M145.42 247.9 L304 406.48 M153.48 247.9 L312.05 406.48 M161.53 247.9 L320.1 406.48 M169.58 247.9 L328.16 406.48 M177.63 247.9 L336.21 406.48 M185.68 247.9 L344.26 406.48 M193.74 247.9 L352.31 406.48 M201.79 247.9 L360.36 406.48 M209.84 247.9 L368.42 406.48 M217.89 247.9 L376.47 406.48 M225.94 247.9 L384.52 406.48 M234 247.9 L392.57 406.48 M242.05 247.9 L400.62 406.48 M250.1 247.9 L408.68 406.48 M258.15 247.9 L416.73 406.48 M266.2 247.9 L424.78 406.48 M274.26 247.9 L432.83 406.48 M282.31 247.9 L440.88 406.48 M290.36 247.9 L448.94 406.48 M298.41 247.9 L456.99 406.48 M306.46 247.9 L465.04 406.48 M314.52 247.9 L473.09 406.48 M322.57 247.9 L481.14 406.48 M330.62 247.9 L489.2 406.48 M338.67 247.9 L497.25 406.48 M346.72 247.9 L505.3 406.48 M354.78 247.9 L513.35 406.48 M362.83 247.9 L521.4 406.48 M370.88 247.9 L529.46 406.48 M378.93 247.9 L537.51 406.48 M386.98 247.9 L545.56 406.48 M395.04 247.9 L553.61 406.48 M403.09 247.9 L561.66 406.48 M411.14 247.9 L569.72 406.48 M419.19 247.9 L577.77 406.48 M427.24 247.9 L585.82 406.48 M435.3 247.9 L593.87 406.48 M443.35 247.9 L601.92 406.48"/>
</g></g>
<path d="M301.62 270.1 L307.83 276.19 L306.69 279.81 L311.83 282.03 L319.06 280.5 L319.06 276.89 L315.89 272 L309.55 269.47 Z" fill="#fff"/>
</g>
<g clip-path="url(#fre)" fill="none" stroke="#000" stroke-linejoin="round">
<path d="M256.27 272 L260.07 270.8 L263.81 269.91 L267.05 270.35 L268.44 272.7 L270.28 273.15 L271.68 272.26 L274.91 272.07 L280.5 271.75 L283.29 269.91 L286.08 265.72 L288.87 260.14 L291.6 254.62 L293.5 250.88 L293.94 247.27" stroke-width="1.3"/>
<path d="M270.22 247.27 L271.17 248.85 L272.63 249.68 L275.87 250.44 L278.66 249.17 L280.37 248.53 L281.89 247.27" stroke-width="1.3"/>
<path d="M287.98 282.91 L286.97 286.15 L285.13 290.78 L283.86 293.89 L283.29 292.62 L279.54 289.38 L276.31 285.2 L273.39 279.81 L272.12 279.81 L271.68 280.12 L274.91 286.15 L278.66 290.78 L281.45 293.57 L284.17 299.09 L287.92 307.46 L291.72 316.85 L293.69 318.31 L292.42 320.84 L293.25 322.81 L296.86 327.19 L300.73 330.36 L301.43 336.32 L302.95 342.28 L303.2 347.49 L304.47 351.29 L308.28 354.27 L311.45 358.27 L313.42 360.23 L314.94 367.72 L317.92 372.92 L321.6 374.76 L325.4 375.97 L331.37 379.71 L335.87 383.45 L340.37 388.65 L341.83 393.15 L339.61 395.37 L341.83 398.36 L347.86 403.62 L353.82 402.67 L361.94 400.45 L368.54 398.86 L376.15 398.23 L384.39 396.33 L387.57 395.06 L389.98 394.42 L391.69 394.74 L390.74 397.98 L391.37 402.67 L392.32 403.94 L390.74 405.21 L390.1 407.74" stroke-width="1.3"/>
<path d="M371.07 279.62 L374.25 277.08 L376.97 276.44 L380.59 278.98 L383.32 278.73 L386.11 281.64 L388.2 284.69 L389.72 287.99 L392.45 292.94 L398.1 294.97 L403.74 298.52 L407.93 299.91 L412.3 301.18 L415.03 301.18 L419.28 298.96 L422.01 298.33 L424.86 297.82 L428.35 300.55 L429.75 305.49 L433.24 307.21 L436.03 306.89 L441.67 308.35 L446.56 308.98 L448.46 309.43" stroke-width="1.3"/>
<path d="M386.61 303.4 L387.69 303.4 L387.57 305.94 L386.93 305.62 Z" stroke-width="1" fill="#fff"/>
<path d="M438.94 338.6 L440.53 339.87 L439.58 342.09 L438.31 340.51 Z" stroke-width="1" fill="#fff"/>
<path d="M319.7 341.78 L322.23 343.68 L324.14 347.49 L322.23 346.22 L320.01 343.36 Z" stroke-width="1" fill="#fff"/>
<path d="M325.4 350.02 L327.94 353.19 L326.67 353.83 L324.77 351.29 Z" stroke-width="1" fill="#fff"/>
<path d="M403.11 389.98 L405.33 388.71 L408.5 389.03 L411.67 389.22 L413.25 390.3 L411.03 391.89 L407.23 392.2 L404.69 391.25 Z" stroke-width="0.8" fill="#000"/>
<path d="M396.13 391.57 L397.08 389.98 L398.98 391.89 L397.71 393.15 Z" stroke-width="0.8" fill="#000"/>
<path d="M401.52 392.2 L404.37 392.2 L403.42 393.47 L401.84 393.28 Z" stroke-width="0.8" fill="#000"/>
<path d="M328.58 359.22 L331.75 358.59 L334.28 360.49 L335.24 363.34 L333.97 365.88 L331.11 365.88 L328.89 363.34 Z" stroke-width="0.8" fill="#000"/>
<path d="M334.92 364.61 L336.82 363.98 L337.77 366.51 L337.46 369.05 L336.19 369.05 L335.24 367.15 Z" stroke-width="0.8" fill="#000"/>
<path d="M336.19 379.83 L337.77 380.15 L338.41 382.69 L336.82 383.64 L336.19 381.74 Z" stroke-width="0.8" fill="#000"/>
<circle cx="336.82" cy="372.22" r="0.51" fill="#000" stroke="none"/>
<circle cx="300.03" cy="306.89" r="0.5" fill="#000" stroke="none"/>
<circle cx="301.94" cy="309.43" r="0.5" fill="#000" stroke="none"/>
<circle cx="313.35" cy="327.82" r="0.5" fill="#000" stroke="none"/>
<circle cx="330.48" cy="368.42" r="0.57" fill="#000" stroke="none"/>
<circle cx="333.02" cy="372.22" r="0.57" fill="#000" stroke="none"/>
<circle cx="327.94" cy="358.27" r="0.5" fill="#000" stroke="none"/>
<circle cx="326.04" cy="355.1" r="0.5" fill="#000" stroke="none"/>
<circle cx="399.62" cy="315.77" r="0.51" fill="#000" stroke="none"/>
<circle cx="403.42" cy="316.09" r="0.51" fill="#000" stroke="none"/>
<circle cx="409.13" cy="315.14" r="0.5" fill="#000" stroke="none"/>
<circle cx="408.81" cy="301.63" r="0.5" fill="#000" stroke="none"/>
<circle cx="404.69" cy="301.18" r="0.5" fill="#000" stroke="none"/>
<circle cx="397.71" cy="315.14" r="0.5" fill="#000" stroke="none"/>
<circle cx="395.18" cy="315.45" r="0.5" fill="#000" stroke="none"/>
<circle cx="406.59" cy="315.45" r="0.5" fill="#000" stroke="none"/>
<circle cx="410.4" cy="314.18" r="0.5" fill="#000" stroke="none"/>
<path d="M315 265.85 L300.98 269.72 L307.2 276.32 L304.22 279.04 L299.4 280.5 L296.48 282.91 L290.52 283.42 L288.3 283.55" stroke-width="1.8"/>
<path d="M361.88 285.32 L367.59 288.81 L373.74 288.88" stroke-width="1.25"/>
<path d="M393.91 316.09 L396.45 319.58 L400.25 324.33 L416.74 325.92" stroke-width="1.25"/>
<path d="M416.74 325.92 L419.72 330.36 L417.25 337.59 L415.47 343.05 L397.71 349.71" stroke-width="1.25"/>
<path d="M416.74 325.92 L418.65 320.21 L420.04 315.77 L422.01 310.32 L422.71 307.52" stroke-width="1.25"/>
<path d="M397.71 349.71 L384.39 350.97 L377.42 351.93 L369.81 354.46 L364.73 361.44 L356.8 360.23 L348.87 359.66 L341.9 359.47 L340.37 358.71 L339.36 361.44 L338.41 364.61" stroke-width="1.25"/>
<path d="M397.71 349.71 L402.15 362.77" stroke-width="1.25"/>
<path d="M288.36 283.29 L289.76 279.62 L291.15 273.91 L291.79 270.1 L292.1 265.66 L292.74 262.17 L296.86 264.07 L300.35 264.71 L304.85 261.92 L312.59 258.05 L314.37 264.9 L315 265.85 L322.87 267.56 L333.65 272.64 L350.14 284.69 L361.88 285.32 L365.75 279.3 L369.17 278.98 L372.34 279.49 L371.39 282.15 L370.12 283.1 L371.71 284.06 L373.74 288.81 L374.88 291.67 L376.78 293.89 L379.32 295.79 L381.54 298.01 L383.76 299.91 L384.71 301.5 L384.08 303.72 L385.03 305.94 L385.98 307.84 L387.25 310.06 L388.83 312.92 L388.83 309.43 L389.47 306.89 L390.42 304.67 L391.69 304.04 L393.27 305.3 L393.91 309.43 L393.91 312.28 L392.64 314.18 L393.91 316.09 L395.18 317.36 L397.71 317.04 L400.89 316.4 L404.69 317.04 L407.86 315.77 L411.67 315.14 L413.57 312.92 L416.11 311.01 L418.65 309.11 L420.55 307.21 L422.14 304.99 L423.09 303.08 L424.16 302.32 L424.67 303.72 L423.72 305.62 L424.04 308.79 L424.04 311.65 L424.99 313.87 L426.89 315.77 L430.06 317.99 L433.24 319.26 L436.03 319.89 L438.31 320.21 L440.21 322.75 L442.12 325.28 L444.02 326.55 L445.92 327.19 L444.34 331.31 L441.23 336.07 L439.26 338.29 L437.42 339.11 L434.25 341.46 L432.73 345.27 L433.62 348.31 L430.51 350.72 L425.05 353.07 L421.18 356.11 L416.55 358.4 L413.45 361.57 L409.13 362.39 L405.64 363.09 L399.3 365.63 L398.03 370 L393.91 371.27 L390.29 372.1 L385.66 374.76 L380.59 376.41 L375.51 380.47 L370.57 380.72 L366 383.01 L361.94 384.27 L356.49 385.23 L352.3 388.4 L348.87 389.03 L346.34 389.67 L342.21 389.67 L341.07 385.67 L340.37 379.71 L339.04 376.03 L338.85 373.68 L337.77 370.32 L338.85 366.2 L338.09 363.22 L335.87 359.47 L331.43 355.1 L326.99 349.07 L323.18 343.68 L318.11 337.97 L314.62 332.9 L313.99 328.46 L312.72 325.92 L309.86 320.21 L307.45 316.85 L302.89 310.7 L300.92 308.41 L298.76 304.67 L297.18 302.07 L295.34 299.09 L291.6 294.46 L287.98 292.62 L286.08 291.98 L287.03 289.13 L287.98 285.32 Z" stroke-width="1.9"/>
</g>
<rect x="256.9" y="247.9" width="190.29" height="158.57" fill="none" stroke="#222" stroke-width="1"/>
<path d="M256.9 405.68 v4.6 M288.61 405.68 v4.6 M320.33 405.68 v4.6 M352.04 405.68 v4.6 M383.76 405.68 v4.6 M415.47 405.68 v4.6 M447.19 405.68 v4.6 M257.5 406.48 h-4.8 M257.5 374.76 h-4.8 M257.5 343.05 h-4.8 M257.5 311.33 h-4.8 M257.5 279.62 h-4.8 M257.5 247.9 h-4.8" stroke="#111" stroke-width="1.2" fill="none"/>
<path d="M263.24 406.48 v2.2 M275.93 406.48 v2.2 M301.3 406.48 v2.2 M313.99 406.48 v2.2 M326.67 406.48 v2.2 M339.36 406.48 v2.2 M364.73 406.48 v2.2 M377.42 406.48 v2.2 M390.1 406.48 v2.2 M402.79 406.48 v2.2 M428.16 406.48 v2.2 M440.85 406.48 v2.2" stroke="#222" stroke-width="1" fill="none"/>
<g font-size="9.2" fill="#222"><text transform="translate(256.9 423.68) scale(1 1.08)" text-anchor="middle">30E</text><text transform="translate(288.61 423.68) scale(1 1.08)" text-anchor="middle">35E</text><text transform="translate(320.33 423.68) scale(1 1.08)" text-anchor="middle">40E</text><text transform="translate(352.04 423.68) scale(1 1.08)" text-anchor="middle">45E</text><text transform="translate(383.76 423.68) scale(1 1.08)" text-anchor="middle">50E</text><text transform="translate(415.47 423.68) scale(1 1.08)" text-anchor="middle">55E</text><text transform="translate(447.19 423.68) scale(1 1.08)" text-anchor="middle">60E</text><text transform="translate(247.6 409.48) scale(1 1.08)" text-anchor="end">10N</text><text transform="translate(247.6 377.76) scale(1 1.08)" text-anchor="end">15N</text><text transform="translate(247.6 346.05) scale(1 1.08)" text-anchor="end">20N</text><text transform="translate(247.6 314.33) scale(1 1.08)" text-anchor="end">25N</text><text transform="translate(247.6 282.62) scale(1 1.08)" text-anchor="end">30N</text><text transform="translate(247.6 250.9) scale(1 1.08)" text-anchor="end">35N</text></g>
<text x="256.8" y="243.8" font-size="11.1" font-weight="bold" fill="#111">e) SSP2-4.5: 2021-2050</text>
<defs><clipPath id="landf"><path d="M515.96 283.29 L517.36 279.62 L518.75 273.91 L519.39 270.1 L519.7 265.66 L520.34 262.17 L524.46 264.07 L527.95 264.71 L532.45 261.92 L540.19 258.05 L541.97 264.9 L542.6 265.85 L550.47 267.56 L561.25 272.64 L577.74 284.69 L589.48 285.32 L593.35 279.3 L596.77 278.98 L599.94 279.49 L598.99 282.15 L597.72 283.1 L599.31 284.06 L601.34 288.81 L602.48 291.67 L604.38 293.89 L606.92 295.79 L609.14 298.01 L611.36 299.91 L612.31 301.5 L611.68 303.72 L612.63 305.94 L613.58 307.84 L614.85 310.06 L616.43 312.92 L616.43 309.43 L617.07 306.89 L618.02 304.67 L619.29 304.04 L620.87 305.3 L621.51 309.43 L621.51 312.28 L620.24 314.18 L621.51 316.09 L622.78 317.36 L625.31 317.04 L628.49 316.4 L632.29 317.04 L635.46 315.77 L639.27 315.14 L641.17 312.92 L643.71 311.01 L646.25 309.11 L648.15 307.21 L649.74 304.99 L650.69 303.08 L651.76 302.32 L652.27 303.72 L651.32 305.62 L651.64 308.79 L651.64 311.65 L652.59 313.87 L654.49 315.77 L657.66 317.99 L660.84 319.26 L663.63 319.89 L665.91 320.21 L667.81 322.75 L669.72 325.28 L671.62 326.55 L673.52 327.19 L671.94 331.31 L668.83 336.07 L666.86 338.29 L665.02 339.11 L661.85 341.46 L660.33 345.27 L661.22 348.31 L658.11 350.72 L652.65 353.07 L648.78 356.11 L644.15 358.4 L641.05 361.57 L636.73 362.39 L633.24 363.09 L626.9 365.63 L625.63 370 L621.51 371.27 L617.89 372.1 L613.26 374.76 L608.19 376.41 L603.11 380.47 L598.17 380.72 L593.6 383.01 L589.54 384.27 L584.09 385.23 L579.9 388.4 L576.47 389.03 L573.94 389.67 L569.81 389.67 L568.67 385.67 L567.97 379.71 L566.64 376.03 L566.45 373.68 L565.37 370.32 L566.45 366.2 L565.69 363.22 L563.47 359.47 L559.03 355.1 L554.59 349.07 L550.78 343.68 L545.71 337.97 L542.22 332.9 L541.59 328.46 L540.32 325.92 L537.46 320.21 L535.05 316.85 L530.49 310.7 L528.52 308.41 L526.36 304.67 L524.78 302.07 L522.94 299.09 L519.2 294.46 L515.58 292.62 L513.68 291.98 L514.63 289.13 L515.58 285.32 Z"/></clipPath>
<clipPath id="frf"><rect x="484.5" y="247.9" width="190.29" height="158.57"/></clipPath></defs>
<g clip-path="url(#landf)"><g filter="url(#bl)">
<rect x="509.57" y="253.94" width="19.63" height="6.94" fill="#b0f8fc"/>
<rect x="528.6" y="253.94" width="146.49" height="6.94" fill="#5090f8"/>
<rect x="509.57" y="260.29" width="19.63" height="6.94" fill="#b0f8fc"/>
<rect x="528.6" y="260.29" width="6.94" height="6.94" fill="#f83c40"/>
<rect x="534.94" y="260.29" width="140.15" height="6.94" fill="#5090f8"/>
<rect x="509.57" y="266.63" width="13.29" height="6.94" fill="#b0f8fc"/>
<rect x="522.26" y="266.63" width="6.94" height="6.94" fill="#5090f8"/>
<rect x="528.6" y="266.63" width="6.94" height="6.94" fill="#f0fcfc"/>
<rect x="534.94" y="266.63" width="13.29" height="6.94" fill="#2000f8"/>
<rect x="547.63" y="266.63" width="127.46" height="6.94" fill="#5090f8"/>
<rect x="509.57" y="272.97" width="13.29" height="6.94" fill="#b0f8fc"/>
<rect x="522.26" y="272.97" width="6.94" height="6.94" fill="#5090f8"/>
<rect x="528.6" y="272.97" width="13.29" height="6.94" fill="#f0fcfc"/>
<rect x="541.29" y="272.97" width="6.94" height="6.94" fill="#2000f8"/>
<rect x="547.63" y="272.97" width="6.94" height="6.94" fill="#b0f8fc"/>
<rect x="553.97" y="272.97" width="121.12" height="6.94" fill="#5090f8"/>
<rect x="509.57" y="279.31" width="6.94" height="6.94" fill="#f0d898"/>
<rect x="515.92" y="279.31" width="6.94" height="6.94" fill="#b0f8fc"/>
<rect x="522.26" y="279.31" width="6.94" height="6.94" fill="#5090f8"/>
<rect x="528.6" y="279.31" width="6.94" height="6.94" fill="#f83c40"/>
<rect x="534.94" y="279.31" width="6.94" height="6.94" fill="#5090f8"/>
<rect x="541.29" y="279.31" width="6.94" height="6.94" fill="#b0f8fc"/>
<rect x="547.63" y="279.31" width="6.94" height="6.94" fill="#5090f8"/>
<rect x="553.97" y="279.31" width="6.94" height="6.94" fill="#b0f8fc"/>
<rect x="560.32" y="279.31" width="6.94" height="6.94" fill="#5090f8"/>
<rect x="566.66" y="279.31" width="6.94" height="6.94" fill="#2000f8"/>
<rect x="573" y="279.31" width="102.09" height="6.94" fill="#5090f8"/>
<rect x="509.57" y="285.66" width="13.29" height="6.94" fill="#b0f8fc"/>
<rect x="522.26" y="285.66" width="13.29" height="6.94" fill="#5090f8"/>
<rect x="534.94" y="285.66" width="19.63" height="6.94" fill="#b0f8fc"/>
<rect x="553.97" y="285.66" width="25.97" height="6.94" fill="#5090f8"/>
<rect x="579.35" y="285.66" width="6.94" height="6.94" fill="#2000f8"/>
<rect x="585.69" y="285.66" width="89.4" height="6.94" fill="#5090f8"/>
<rect x="509.57" y="292" width="51.34" height="6.94" fill="#b0f8fc"/>
<rect x="560.32" y="292" width="114.77" height="6.94" fill="#5090f8"/>
<rect x="509.57" y="298.34" width="25.97" height="6.94" fill="#b0f8fc"/>
<rect x="534.94" y="298.34" width="6.94" height="6.94" fill="#5090f8"/>
<rect x="541.29" y="298.34" width="13.29" height="6.94" fill="#b0f8fc"/>
<rect x="553.97" y="298.34" width="6.94" height="6.94" fill="#5090f8"/>
<rect x="560.32" y="298.34" width="6.94" height="6.94" fill="#b0f8fc"/>
<rect x="566.66" y="298.34" width="108.43" height="6.94" fill="#5090f8"/>
<rect x="509.57" y="304.69" width="19.63" height="6.94" fill="#b0f8fc"/>
<rect x="528.6" y="304.69" width="13.29" height="6.94" fill="#f83c40"/>
<rect x="541.29" y="304.69" width="6.94" height="6.94" fill="#b0f8fc"/>
<rect x="547.63" y="304.69" width="6.94" height="6.94" fill="#5090f8"/>
<rect x="553.97" y="304.69" width="13.29" height="6.94" fill="#b0f8fc"/>
<rect x="566.66" y="304.69" width="38.66" height="6.94" fill="#5090f8"/>
<rect x="604.72" y="304.69" width="6.94" height="6.94" fill="#b0f8fc"/>
<rect x="611.06" y="304.69" width="64.03" height="6.94" fill="#5090f8"/>
<rect x="509.57" y="311.03" width="32.31" height="6.94" fill="#b0f8fc"/>
<rect x="541.29" y="311.03" width="13.29" height="6.94" fill="#5090f8"/>
<rect x="553.97" y="311.03" width="6.94" height="6.94" fill="#b0f8fc"/>
<rect x="560.32" y="311.03" width="38.66" height="6.94" fill="#5090f8"/>
<rect x="598.37" y="311.03" width="76.72" height="6.94" fill="#b0f8fc"/>
<rect x="509.57" y="317.37" width="38.66" height="6.94" fill="#b0f8fc"/>
<rect x="547.63" y="317.37" width="19.63" height="6.94" fill="#5090f8"/>
<rect x="566.66" y="317.37" width="6.94" height="6.94" fill="#2000f8"/>
<rect x="573" y="317.37" width="19.63" height="6.94" fill="#5090f8"/>
<rect x="592.03" y="317.37" width="13.29" height="6.94" fill="#b0f8fc"/>
<rect x="604.72" y="317.37" width="6.94" height="6.94" fill="#5090f8"/>
<rect x="611.06" y="317.37" width="64.03" height="6.94" fill="#b0f8fc"/>
<rect x="509.57" y="323.72" width="38.66" height="6.94" fill="#b0f8fc"/>
<rect x="547.63" y="323.72" width="38.66" height="6.94" fill="#5090f8"/>
<rect x="585.69" y="323.72" width="13.29" height="6.94" fill="#b0f8fc"/>
<rect x="598.37" y="323.72" width="19.63" height="6.94" fill="#5090f8"/>
<rect x="617.4" y="323.72" width="45" height="6.94" fill="#b0f8fc"/>
<rect x="661.8" y="323.72" width="6.94" height="6.94" fill="#f0d898"/>
<rect x="668.15" y="323.72" width="6.94" height="6.94" fill="#b0f8fc"/>
<rect x="509.57" y="330.06" width="45" height="6.94" fill="#b0f8fc"/>
<rect x="553.97" y="330.06" width="19.63" height="6.94" fill="#5090f8"/>
<rect x="573" y="330.06" width="38.66" height="6.94" fill="#2000f8"/>
<rect x="611.06" y="330.06" width="19.63" height="6.94" fill="#5090f8"/>
<rect x="630.09" y="330.06" width="45" height="6.94" fill="#b0f8fc"/>
<rect x="509.57" y="336.4" width="45" height="6.94" fill="#b0f8fc"/>
<rect x="553.97" y="336.4" width="19.63" height="6.94" fill="#5090f8"/>
<rect x="573" y="336.4" width="51.34" height="6.94" fill="#2000f8"/>
<rect x="623.75" y="336.4" width="13.29" height="6.94" fill="#5090f8"/>
<rect x="636.43" y="336.4" width="38.66" height="6.94" fill="#b0f8fc"/>
<rect x="509.57" y="342.75" width="45" height="6.94" fill="#b0f8fc"/>
<rect x="553.97" y="342.75" width="32.31" height="6.94" fill="#5090f8"/>
<rect x="585.69" y="342.75" width="13.29" height="6.94" fill="#2000f8"/>
<rect x="598.37" y="342.75" width="45" height="6.94" fill="#5090f8"/>
<rect x="642.78" y="342.75" width="32.31" height="6.94" fill="#b0f8fc"/>
<rect x="509.57" y="349.09" width="45" height="6.94" fill="#b0f8fc"/>
<rect x="553.97" y="349.09" width="25.97" height="6.94" fill="#5090f8"/>
<rect x="579.35" y="349.09" width="13.29" height="6.94" fill="#2000f8"/>
<rect x="592.03" y="349.09" width="13.29" height="6.94" fill="#5090f8"/>
<rect x="604.72" y="349.09" width="70.37" height="6.94" fill="#b0f8fc"/>
<rect x="509.57" y="355.43" width="57.69" height="6.94" fill="#b0f8fc"/>
<rect x="566.66" y="355.43" width="19.63" height="6.94" fill="#5090f8"/>
<rect x="585.69" y="355.43" width="6.94" height="6.94" fill="#2000f8"/>
<rect x="592.03" y="355.43" width="6.94" height="6.94" fill="#b0f8fc"/>
<rect x="598.37" y="355.43" width="6.94" height="6.94" fill="#5090f8"/>
<rect x="604.72" y="355.43" width="70.37" height="6.94" fill="#b0f8fc"/>
<rect x="509.57" y="361.77" width="64.03" height="6.94" fill="#b0f8fc"/>
<rect x="573" y="361.77" width="32.31" height="6.94" fill="#5090f8"/>
<rect x="604.72" y="361.77" width="70.37" height="6.94" fill="#b0f8fc"/>
<rect x="509.57" y="368.12" width="70.37" height="6.94" fill="#b0f8fc"/>
<rect x="579.35" y="368.12" width="19.63" height="6.94" fill="#5090f8"/>
<rect x="598.37" y="368.12" width="76.72" height="6.94" fill="#b0f8fc"/>
<rect x="509.57" y="374.46" width="76.72" height="6.94" fill="#b0f8fc"/>
<rect x="585.69" y="374.46" width="6.94" height="6.94" fill="#5090f8"/>
<rect x="592.03" y="374.46" width="83.06" height="6.94" fill="#b0f8fc"/>
<rect x="509.57" y="380.8" width="165.52" height="6.94" fill="#b0f8fc"/>
<rect x="509.57" y="387.15" width="165.52" height="6.94" fill="#b0f8fc"/>
</g>
<g clip-path="url(#landf)">
<g  stroke="#f42828" stroke-width="1.0" fill="none">
<path d="M329.76 406.48 L488.33 247.9 M337.81 406.48 L496.38 247.9 M345.86 406.48 L504.44 247.9 M353.91 406.48 L512.49 247.9 M361.96 406.48 L520.54 247.9 M370.02 406.48 L528.59 247.9 M378.07 406.48 L536.64 247.9 M386.12 406.48 L544.7 247.9 M394.17 406.48 L552.75 247.9 M402.22 406.48 L560.8 247.9 M410.28 406.48 L568.85 247.9 M418.33 406.48 L576.9 247.9 M426.38 406.48 L584.96 247.9 M434.43 406.48 L593.01 247.9 M442.48 406.48 L601.06 247.9 M450.54 406.48 L609.11 247.9 M458.59 406.48 L617.16 247.9 M466.64 406.48 L625.22 247.9 M474.69 406.48 L633.27 247.9 M482.74 406.48 L641.32 247.9 M490.8 406.48 L649.37 247.9 M498.85 406.48 L657.42 247.9 M506.9 406.48 L665.48 247.9 M514.95 406.48 L673.53 247.9 M523 406.48 L681.58 247.9 M531.06 406.48 L689.63 247.9 M539.11 406.48 L697.68 247.9 M547.16 406.48 L705.74 247.9 M555.21 406.48 L713.79 247.9 M563.26 406.48 L721.84 247.9 M571.32 406.48 L729.89 247.9 M579.37 406.48 L737.94 247.9 M587.42 406.48 L746 247.9 M595.47 406.48 L754.05 247.9 M603.52 406.48 L762.1 247.9 M611.58 406.48 L770.15 247.9 M619.63 406.48 L778.2 247.9 M627.68 406.48 L786.26 247.9 M635.73 406.48 L794.31 247.9 M643.78 406.48 L802.36 247.9 M651.84 406.48 L810.41 247.9 M659.89 406.48 L818.46 247.9 M667.94 406.48 L826.52 247.9 M675.99 406.48 L834.57 247.9"/>
</g></g>
<clipPath id="hf1"><path d="M575.84 332.9 L596.14 326.55 L617.07 324.65 L625.31 318.94 L641.17 316.4 L651.96 312.6 L664.01 320.84 L674.79 329.09 L674.79 393.79 L585.99 390.62 L582.18 376.03 L584.09 357.63 L578.38 346.22 Z"/></clipPath>
<g clip-path="url(#landf)">
<g clip-path="url(#hf1)" stroke="#f42828" stroke-width="1.0" fill="none">
<path d="M330.62 247.9 L489.2 406.48 M338.67 247.9 L497.25 406.48 M346.72 247.9 L505.3 406.48 M354.78 247.9 L513.35 406.48 M362.83 247.9 L521.4 406.48 M370.88 247.9 L529.46 406.48 M378.93 247.9 L537.51 406.48 M386.98 247.9 L545.56 406.48 M395.04 247.9 L553.61 406.48 M403.09 247.9 L561.66 406.48 M411.14 247.9 L569.72 406.48 M419.19 247.9 L577.77 406.48 M427.24 247.9 L585.82 406.48 M435.3 247.9 L593.87 406.48 M443.35 247.9 L601.92 406.48 M451.4 247.9 L609.98 406.48 M459.45 247.9 L618.03 406.48 M467.5 247.9 L626.08 406.48 M475.56 247.9 L634.13 406.48 M483.61 247.9 L642.18 406.48 M491.66 247.9 L650.24 406.48 M499.71 247.9 L658.29 406.48 M507.76 247.9 L666.34 406.48 M515.82 247.9 L674.39 406.48 M523.87 247.9 L682.44 406.48 M531.92 247.9 L690.5 406.48 M539.97 247.9 L698.55 406.48 M548.02 247.9 L706.6 406.48 M556.08 247.9 L714.65 406.48 M564.13 247.9 L722.7 406.48 M572.18 247.9 L730.75 406.48 M580.23 247.9 L738.81 406.48 M588.28 247.9 L746.86 406.48 M596.34 247.9 L754.91 406.48 M604.39 247.9 L762.96 406.48 M612.44 247.9 L771.01 406.48 M620.49 247.9 L779.07 406.48 M628.54 247.9 L787.12 406.48 M636.6 247.9 L795.17 406.48 M644.65 247.9 L803.22 406.48 M652.7 247.9 L811.27 406.48 M660.75 247.9 L819.33 406.48 M668.8 247.9 L827.38 406.48"/>
</g></g>
<path d="M529.22 270.1 L535.43 276.19 L534.29 279.81 L539.43 282.03 L546.66 280.5 L546.66 276.89 L543.49 272 L537.15 269.47 Z" fill="#fff"/>
</g>
<g clip-path="url(#frf)" fill="none" stroke="#000" stroke-linejoin="round">
<path d="M483.87 272 L487.67 270.8 L491.41 269.91 L494.65 270.35 L496.04 272.7 L497.88 273.15 L499.28 272.26 L502.51 272.07 L508.1 271.75 L510.89 269.91 L513.68 265.72 L516.47 260.14 L519.2 254.62 L521.1 250.88 L521.54 247.27" stroke-width="1.3"/>
<path d="M497.82 247.27 L498.77 248.85 L500.23 249.68 L503.47 250.44 L506.26 249.17 L507.97 248.53 L509.49 247.27" stroke-width="1.3"/>
<path d="M515.58 282.91 L514.57 286.15 L512.73 290.78 L511.46 293.89 L510.89 292.62 L507.14 289.38 L503.91 285.2 L500.99 279.81 L499.72 279.81 L499.28 280.12 L502.51 286.15 L506.26 290.78 L509.05 293.57 L511.77 299.09 L515.52 307.46 L519.32 316.85 L521.29 318.31 L520.02 320.84 L520.85 322.81 L524.46 327.19 L528.33 330.36 L529.03 336.32 L530.55 342.28 L530.8 347.49 L532.07 351.29 L535.88 354.27 L539.05 358.27 L541.02 360.23 L542.54 367.72 L545.52 372.92 L549.2 374.76 L553 375.97 L558.97 379.71 L563.47 383.45 L567.97 388.65 L569.43 393.15 L567.21 395.37 L569.43 398.36 L575.46 403.62 L581.42 402.67 L589.54 400.45 L596.14 398.86 L603.75 398.23 L611.99 396.33 L615.17 395.06 L617.58 394.42 L619.29 394.74 L618.34 397.98 L618.97 402.67 L619.92 403.94 L618.34 405.21 L617.7 407.74" stroke-width="1.3"/>
<path d="M598.67 279.62 L601.85 277.08 L604.57 276.44 L608.19 278.98 L610.92 278.73 L613.71 281.64 L615.8 284.69 L617.32 287.99 L620.05 292.94 L625.7 294.97 L631.34 298.52 L635.53 299.91 L639.9 301.18 L642.63 301.18 L646.88 298.96 L649.61 298.33 L652.46 297.82 L655.95 300.55 L657.35 305.49 L660.84 307.21 L663.63 306.89 L669.27 308.35 L674.16 308.98 L676.06 309.43" stroke-width="1.3"/>
<path d="M614.21 303.4 L615.29 303.4 L615.17 305.94 L614.53 305.62 Z" stroke-width="1" fill="#fff"/>
<path d="M666.54 338.6 L668.13 339.87 L667.18 342.09 L665.91 340.51 Z" stroke-width="1" fill="#fff"/>
<path d="M547.3 341.78 L549.83 343.68 L551.74 347.49 L549.83 346.22 L547.61 343.36 Z" stroke-width="1" fill="#fff"/>
<path d="M553 350.02 L555.54 353.19 L554.27 353.83 L552.37 351.29 Z" stroke-width="1" fill="#fff"/>
<path d="M630.71 389.98 L632.93 388.71 L636.1 389.03 L639.27 389.22 L640.85 390.3 L638.63 391.89 L634.83 392.2 L632.29 391.25 Z" stroke-width="0.8" fill="#000"/>
<path d="M623.73 391.57 L624.68 389.98 L626.58 391.89 L625.31 393.15 Z" stroke-width="0.8" fill="#000"/>
<path d="M629.12 392.2 L631.97 392.2 L631.02 393.47 L629.44 393.28 Z" stroke-width="0.8" fill="#000"/>
<path d="M556.18 359.22 L559.35 358.59 L561.88 360.49 L562.84 363.34 L561.57 365.88 L558.71 365.88 L556.49 363.34 Z" stroke-width="0.8" fill="#000"/>
<path d="M562.52 364.61 L564.42 363.98 L565.37 366.51 L565.06 369.05 L563.79 369.05 L562.84 367.15 Z" stroke-width="0.8" fill="#000"/>
<path d="M563.79 379.83 L565.37 380.15 L566.01 382.69 L564.42 383.64 L563.79 381.74 Z" stroke-width="0.8" fill="#000"/>
<circle cx="564.42" cy="372.22" r="0.51" fill="#000" stroke="none"/>
<circle cx="527.63" cy="306.89" r="0.5" fill="#000" stroke="none"/>
<circle cx="529.54" cy="309.43" r="0.5" fill="#000" stroke="none"/>
<circle cx="540.95" cy="327.82" r="0.5" fill="#000" stroke="none"/>
<circle cx="558.08" cy="368.42" r="0.57" fill="#000" stroke="none"/>
<circle cx="560.62" cy="372.22" r="0.57" fill="#000" stroke="none"/>
<circle cx="555.54" cy="358.27" r="0.5" fill="#000" stroke="none"/>
<circle cx="553.64" cy="355.1" r="0.5" fill="#000" stroke="none"/>
<circle cx="627.22" cy="315.77" r="0.51" fill="#000" stroke="none"/>
<circle cx="631.02" cy="316.09" r="0.51" fill="#000" stroke="none"/>
<circle cx="636.73" cy="315.14" r="0.5" fill="#000" stroke="none"/>
<circle cx="636.41" cy="301.63" r="0.5" fill="#000" stroke="none"/>
<circle cx="632.29" cy="301.18" r="0.5" fill="#000" stroke="none"/>
<circle cx="625.31" cy="315.14" r="0.5" fill="#000" stroke="none"/>
<circle cx="622.78" cy="315.45" r="0.5" fill="#000" stroke="none"/>
<circle cx="634.19" cy="315.45" r="0.5" fill="#000" stroke="none"/>
<circle cx="638" cy="314.18" r="0.5" fill="#000" stroke="none"/>
<path d="M542.6 265.85 L528.58 269.72 L534.8 276.32 L531.82 279.04 L527 280.5 L524.08 282.91 L518.12 283.42 L515.9 283.55" stroke-width="1.8"/>
<path d="M589.48 285.32 L595.19 288.81 L601.34 288.88" stroke-width="1.25"/>
<path d="M621.51 316.09 L624.05 319.58 L627.85 324.33 L644.34 325.92" stroke-width="1.25"/>
<path d="M644.34 325.92 L647.32 330.36 L644.85 337.59 L643.08 343.05 L625.31 349.71" stroke-width="1.25"/>
<path d="M644.34 325.92 L646.25 320.21 L647.64 315.77 L649.61 310.32 L650.31 307.52" stroke-width="1.25"/>
<path d="M625.31 349.71 L611.99 350.97 L605.02 351.93 L597.41 354.46 L592.33 361.44 L584.4 360.23 L576.47 359.66 L569.5 359.47 L567.97 358.71 L566.96 361.44 L566.01 364.61" stroke-width="1.25"/>
<path d="M625.31 349.71 L629.75 362.77" stroke-width="1.25"/>
<path d="M515.96 283.29 L517.36 279.62 L518.75 273.91 L519.39 270.1 L519.7 265.66 L520.34 262.17 L524.46 264.07 L527.95 264.71 L532.45 261.92 L540.19 258.05 L541.97 264.9 L542.6 265.85 L550.47 267.56 L561.25 272.64 L577.74 284.69 L589.48 285.32 L593.35 279.3 L596.77 278.98 L599.94 279.49 L598.99 282.15 L597.72 283.1 L599.31 284.06 L601.34 288.81 L602.48 291.67 L604.38 293.89 L606.92 295.79 L609.14 298.01 L611.36 299.91 L612.31 301.5 L611.68 303.72 L612.63 305.94 L613.58 307.84 L614.85 310.06 L616.43 312.92 L616.43 309.43 L617.07 306.89 L618.02 304.67 L619.29 304.04 L620.87 305.3 L621.51 309.43 L621.51 312.28 L620.24 314.18 L621.51 316.09 L622.78 317.36 L625.31 317.04 L628.49 316.4 L632.29 317.04 L635.46 315.77 L639.27 315.14 L641.17 312.92 L643.71 311.01 L646.25 309.11 L648.15 307.21 L649.74 304.99 L650.69 303.08 L651.76 302.32 L652.27 303.72 L651.32 305.62 L651.64 308.79 L651.64 311.65 L652.59 313.87 L654.49 315.77 L657.66 317.99 L660.84 319.26 L663.63 319.89 L665.91 320.21 L667.81 322.75 L669.72 325.28 L671.62 326.55 L673.52 327.19 L671.94 331.31 L668.83 336.07 L666.86 338.29 L665.02 339.11 L661.85 341.46 L660.33 345.27 L661.22 348.31 L658.11 350.72 L652.65 353.07 L648.78 356.11 L644.15 358.4 L641.05 361.57 L636.73 362.39 L633.24 363.09 L626.9 365.63 L625.63 370 L621.51 371.27 L617.89 372.1 L613.26 374.76 L608.19 376.41 L603.11 380.47 L598.17 380.72 L593.6 383.01 L589.54 384.27 L584.09 385.23 L579.9 388.4 L576.47 389.03 L573.94 389.67 L569.81 389.67 L568.67 385.67 L567.97 379.71 L566.64 376.03 L566.45 373.68 L565.37 370.32 L566.45 366.2 L565.69 363.22 L563.47 359.47 L559.03 355.1 L554.59 349.07 L550.78 343.68 L545.71 337.97 L542.22 332.9 L541.59 328.46 L540.32 325.92 L537.46 320.21 L535.05 316.85 L530.49 310.7 L528.52 308.41 L526.36 304.67 L524.78 302.07 L522.94 299.09 L519.2 294.46 L515.58 292.62 L513.68 291.98 L514.63 289.13 L515.58 285.32 Z" stroke-width="1.9"/>
</g>
<rect x="484.5" y="247.9" width="190.29" height="158.57" fill="none" stroke="#222" stroke-width="1"/>
<path d="M484.5 405.68 v4.6 M516.22 405.68 v4.6 M547.93 405.68 v4.6 M579.64 405.68 v4.6 M611.36 405.68 v4.6 M643.08 405.68 v4.6 M674.79 405.68 v4.6 M485.1 406.48 h-4.8 M485.1 374.76 h-4.8 M485.1 343.05 h-4.8 M485.1 311.33 h-4.8 M485.1 279.62 h-4.8 M485.1 247.9 h-4.8" stroke="#111" stroke-width="1.2" fill="none"/>
<path d="M490.84 406.48 v2.2 M503.53 406.48 v2.2 M528.9 406.48 v2.2 M541.59 406.48 v2.2 M554.27 406.48 v2.2 M566.96 406.48 v2.2 M592.33 406.48 v2.2 M605.02 406.48 v2.2 M617.7 406.48 v2.2 M630.39 406.48 v2.2 M655.76 406.48 v2.2 M668.45 406.48 v2.2" stroke="#222" stroke-width="1" fill="none"/>
<g font-size="9.2" fill="#222"><text transform="translate(484.5 423.68) scale(1 1.08)" text-anchor="middle">30E</text><text transform="translate(516.22 423.68) scale(1 1.08)" text-anchor="middle">35E</text><text transform="translate(547.93 423.68) scale(1 1.08)" text-anchor="middle">40E</text><text transform="translate(579.64 423.68) scale(1 1.08)" text-anchor="middle">45E</text><text transform="translate(611.36 423.68) scale(1 1.08)" text-anchor="middle">50E</text><text transform="translate(643.08 423.68) scale(1 1.08)" text-anchor="middle">55E</text><text transform="translate(674.79 423.68) scale(1 1.08)" text-anchor="middle">60E</text><text transform="translate(475.2 409.48) scale(1 1.08)" text-anchor="end">10N</text><text transform="translate(475.2 377.76) scale(1 1.08)" text-anchor="end">15N</text><text transform="translate(475.2 346.05) scale(1 1.08)" text-anchor="end">20N</text><text transform="translate(475.2 314.33) scale(1 1.08)" text-anchor="end">25N</text><text transform="translate(475.2 282.62) scale(1 1.08)" text-anchor="end">30N</text><text transform="translate(475.2 250.9) scale(1 1.08)" text-anchor="end">35N</text></g>
<text x="484.4" y="243.8" font-size="11.1" font-weight="bold" fill="#111">f) SSP5-8.5: 2021-2050</text>
<defs><clipPath id="landg"><path d="M60.66 486.39 L62.06 482.71 L63.45 477.01 L64.09 473.2 L64.4 468.76 L65.04 465.27 L69.16 467.17 L72.65 467.81 L77.15 465.02 L84.89 461.15 L86.67 468 L87.3 468.95 L95.17 470.66 L105.95 475.74 L122.44 487.79 L134.18 488.42 L138.05 482.4 L141.47 482.08 L144.64 482.59 L143.69 485.25 L142.42 486.2 L144.01 487.16 L146.04 491.91 L147.18 494.77 L149.08 496.99 L151.62 498.89 L153.84 501.11 L156.06 503.01 L157.01 504.6 L156.38 506.82 L157.33 509.04 L158.28 510.94 L159.55 513.16 L161.13 516.02 L161.13 512.53 L161.77 509.99 L162.72 507.77 L163.99 507.14 L165.57 508.4 L166.21 512.53 L166.21 515.38 L164.94 517.28 L166.21 519.19 L167.48 520.46 L170.01 520.14 L173.19 519.5 L176.99 520.14 L180.16 518.87 L183.97 518.24 L185.87 516.02 L188.41 514.11 L190.95 512.21 L192.85 510.31 L194.44 508.09 L195.39 506.18 L196.46 505.42 L196.97 506.82 L196.02 508.72 L196.34 511.89 L196.34 514.75 L197.29 516.97 L199.19 518.87 L202.36 521.09 L205.54 522.36 L208.33 522.99 L210.61 523.31 L212.51 525.85 L214.42 528.38 L216.32 529.65 L218.22 530.29 L216.64 534.41 L213.53 539.17 L211.56 541.39 L209.72 542.21 L206.55 544.56 L205.03 548.37 L205.92 551.41 L202.81 553.82 L197.35 556.17 L193.48 559.21 L188.85 561.5 L185.75 564.67 L181.43 565.49 L177.94 566.19 L171.6 568.73 L170.33 573.1 L166.21 574.37 L162.59 575.2 L157.96 577.86 L152.89 579.51 L147.81 583.57 L142.87 583.82 L138.3 586.11 L134.24 587.37 L128.79 588.33 L124.6 591.5 L121.17 592.13 L118.64 592.77 L114.51 592.77 L113.37 588.77 L112.67 582.81 L111.34 579.13 L111.15 576.78 L110.07 573.42 L111.15 569.3 L110.39 566.32 L108.17 562.57 L103.73 558.2 L99.29 552.17 L95.48 546.78 L90.41 541.07 L86.92 536 L86.29 531.56 L85.02 529.02 L82.16 523.31 L79.75 519.95 L75.19 513.8 L73.22 511.51 L71.06 507.77 L69.48 505.17 L67.64 502.19 L63.9 497.56 L60.28 495.72 L58.38 495.08 L59.33 492.23 L60.28 488.42 Z"/></clipPath>
<clipPath id="frg"><rect x="29.2" y="451" width="190.29" height="158.57"/></clipPath></defs>
<g clip-path="url(#landg)"><g filter="url(#bl)">
<rect x="54.27" y="457.04" width="19.63" height="6.94" fill="#b0f8fc"/>
<rect x="73.3" y="457.04" width="146.49" height="6.94" fill="#5090f8"/>
<rect x="54.27" y="463.39" width="13.29" height="6.94" fill="#b0f8fc"/>
<rect x="66.96" y="463.39" width="6.94" height="6.94" fill="#f83c40"/>
<rect x="73.3" y="463.39" width="6.94" height="6.94" fill="#b0f8fc"/>
<rect x="79.64" y="463.39" width="140.15" height="6.94" fill="#5090f8"/>
<rect x="54.27" y="469.73" width="19.63" height="6.94" fill="#b0f8fc"/>
<rect x="73.3" y="469.73" width="6.94" height="6.94" fill="#f0fcfc"/>
<rect x="79.64" y="469.73" width="6.94" height="6.94" fill="#f83c40"/>
<rect x="85.99" y="469.73" width="133.8" height="6.94" fill="#5090f8"/>
<rect x="54.27" y="476.07" width="13.29" height="6.94" fill="#b0f8fc"/>
<rect x="66.96" y="476.07" width="13.29" height="6.94" fill="#f83c40"/>
<rect x="79.64" y="476.07" width="6.94" height="6.94" fill="#f0fcfc"/>
<rect x="85.99" y="476.07" width="6.94" height="6.94" fill="#5090f8"/>
<rect x="92.33" y="476.07" width="13.29" height="6.94" fill="#b0f8fc"/>
<rect x="105.02" y="476.07" width="114.77" height="6.94" fill="#5090f8"/>
<rect x="54.27" y="482.41" width="19.63" height="6.94" fill="#f0d898"/>
<rect x="73.3" y="482.41" width="13.29" height="6.94" fill="#b0f8fc"/>
<rect x="85.99" y="482.41" width="6.94" height="6.94" fill="#f0d898"/>
<rect x="92.33" y="482.41" width="6.94" height="6.94" fill="#b0f8fc"/>
<rect x="98.67" y="482.41" width="121.12" height="6.94" fill="#5090f8"/>
<rect x="54.27" y="488.76" width="51.34" height="6.94" fill="#b0f8fc"/>
<rect x="105.02" y="488.76" width="114.77" height="6.94" fill="#5090f8"/>
<rect x="54.27" y="495.1" width="51.34" height="6.94" fill="#b0f8fc"/>
<rect x="105.02" y="495.1" width="32.31" height="6.94" fill="#5090f8"/>
<rect x="136.73" y="495.1" width="6.94" height="6.94" fill="#2000f8"/>
<rect x="143.07" y="495.1" width="76.72" height="6.94" fill="#5090f8"/>
<rect x="54.27" y="501.44" width="19.63" height="6.94" fill="#b0f8fc"/>
<rect x="73.3" y="501.44" width="6.94" height="6.94" fill="#f83c40"/>
<rect x="79.64" y="501.44" width="6.94" height="6.94" fill="#f0d898"/>
<rect x="85.99" y="501.44" width="19.63" height="6.94" fill="#b0f8fc"/>
<rect x="105.02" y="501.44" width="25.97" height="6.94" fill="#5090f8"/>
<rect x="130.39" y="501.44" width="6.94" height="6.94" fill="#2000f8"/>
<rect x="136.73" y="501.44" width="83.06" height="6.94" fill="#5090f8"/>
<rect x="54.27" y="507.79" width="51.34" height="6.94" fill="#b0f8fc"/>
<rect x="105.02" y="507.79" width="13.29" height="6.94" fill="#5090f8"/>
<rect x="117.7" y="507.79" width="6.94" height="6.94" fill="#2000f8"/>
<rect x="124.05" y="507.79" width="13.29" height="6.94" fill="#5090f8"/>
<rect x="136.73" y="507.79" width="6.94" height="6.94" fill="#2000f8"/>
<rect x="143.07" y="507.79" width="76.72" height="6.94" fill="#5090f8"/>
<rect x="54.27" y="514.13" width="38.66" height="6.94" fill="#b0f8fc"/>
<rect x="92.33" y="514.13" width="19.63" height="6.94" fill="#5090f8"/>
<rect x="111.36" y="514.13" width="13.29" height="6.94" fill="#2000f8"/>
<rect x="124.05" y="514.13" width="6.94" height="6.94" fill="#5090f8"/>
<rect x="130.39" y="514.13" width="6.94" height="6.94" fill="#2000f8"/>
<rect x="136.73" y="514.13" width="6.94" height="6.94" fill="#5090f8"/>
<rect x="143.07" y="514.13" width="6.94" height="6.94" fill="#b0f8fc"/>
<rect x="149.42" y="514.13" width="38.66" height="6.94" fill="#5090f8"/>
<rect x="187.47" y="514.13" width="32.31" height="6.94" fill="#b0f8fc"/>
<rect x="54.27" y="520.47" width="38.66" height="6.94" fill="#b0f8fc"/>
<rect x="92.33" y="520.47" width="25.97" height="6.94" fill="#5090f8"/>
<rect x="117.7" y="520.47" width="6.94" height="6.94" fill="#2000f8"/>
<rect x="124.05" y="520.47" width="6.94" height="6.94" fill="#5090f8"/>
<rect x="130.39" y="520.47" width="6.94" height="6.94" fill="#2000f8"/>
<rect x="136.73" y="520.47" width="6.94" height="6.94" fill="#5090f8"/>
<rect x="143.07" y="520.47" width="6.94" height="6.94" fill="#b0f8fc"/>
<rect x="149.42" y="520.47" width="45" height="6.94" fill="#5090f8"/>
<rect x="193.82" y="520.47" width="25.97" height="6.94" fill="#b0f8fc"/>
<rect x="54.27" y="526.82" width="38.66" height="6.94" fill="#b0f8fc"/>
<rect x="92.33" y="526.82" width="19.63" height="6.94" fill="#5090f8"/>
<rect x="111.36" y="526.82" width="13.29" height="6.94" fill="#2000f8"/>
<rect x="124.05" y="526.82" width="6.94" height="6.94" fill="#5090f8"/>
<rect x="130.39" y="526.82" width="19.63" height="6.94" fill="#2000f8"/>
<rect x="149.42" y="526.82" width="6.94" height="6.94" fill="#5090f8"/>
<rect x="155.76" y="526.82" width="19.63" height="6.94" fill="#2000f8"/>
<rect x="174.79" y="526.82" width="13.29" height="6.94" fill="#5090f8"/>
<rect x="187.47" y="526.82" width="6.94" height="6.94" fill="#b0f8fc"/>
<rect x="193.82" y="526.82" width="6.94" height="6.94" fill="#5090f8"/>
<rect x="200.16" y="526.82" width="19.63" height="6.94" fill="#b0f8fc"/>
<rect x="54.27" y="533.16" width="38.66" height="6.94" fill="#b0f8fc"/>
<rect x="92.33" y="533.16" width="19.63" height="6.94" fill="#5090f8"/>
<rect x="111.36" y="533.16" width="70.37" height="6.94" fill="#2000f8"/>
<rect x="181.13" y="533.16" width="13.29" height="6.94" fill="#5090f8"/>
<rect x="193.82" y="533.16" width="13.29" height="6.94" fill="#b0f8fc"/>
<rect x="206.5" y="533.16" width="13.29" height="6.94" fill="#5090f8"/>
<rect x="54.27" y="539.5" width="45" height="6.94" fill="#b0f8fc"/>
<rect x="98.67" y="539.5" width="19.63" height="6.94" fill="#5090f8"/>
<rect x="117.7" y="539.5" width="38.66" height="6.94" fill="#2000f8"/>
<rect x="155.76" y="539.5" width="6.94" height="6.94" fill="#5090f8"/>
<rect x="162.1" y="539.5" width="6.94" height="6.94" fill="#2000f8"/>
<rect x="168.45" y="539.5" width="25.97" height="6.94" fill="#5090f8"/>
<rect x="193.82" y="539.5" width="25.97" height="6.94" fill="#b0f8fc"/>
<rect x="54.27" y="545.85" width="51.34" height="6.94" fill="#b0f8fc"/>
<rect x="105.02" y="545.85" width="13.29" height="6.94" fill="#5090f8"/>
<rect x="117.7" y="545.85" width="25.97" height="6.94" fill="#2000f8"/>
<rect x="143.07" y="545.85" width="38.66" height="6.94" fill="#5090f8"/>
<rect x="181.13" y="545.85" width="38.66" height="6.94" fill="#b0f8fc"/>
<rect x="54.27" y="552.19" width="51.34" height="6.94" fill="#b0f8fc"/>
<rect x="105.02" y="552.19" width="13.29" height="6.94" fill="#5090f8"/>
<rect x="117.7" y="552.19" width="19.63" height="6.94" fill="#2000f8"/>
<rect x="136.73" y="552.19" width="13.29" height="6.94" fill="#5090f8"/>
<rect x="149.42" y="552.19" width="6.94" height="6.94" fill="#b0f8fc"/>
<rect x="155.76" y="552.19" width="13.29" height="6.94" fill="#5090f8"/>
<rect x="168.45" y="552.19" width="51.34" height="6.94" fill="#b0f8fc"/>
<rect x="54.27" y="558.53" width="70.37" height="6.94" fill="#5090f8"/>
<rect x="124.05" y="558.53" width="13.29" height="6.94" fill="#2000f8"/>
<rect x="136.73" y="558.53" width="13.29" height="6.94" fill="#5090f8"/>
<rect x="149.42" y="558.53" width="6.94" height="6.94" fill="#b0f8fc"/>
<rect x="155.76" y="558.53" width="13.29" height="6.94" fill="#5090f8"/>
<rect x="168.45" y="558.53" width="51.34" height="6.94" fill="#b0f8fc"/>
<rect x="54.27" y="564.87" width="76.72" height="6.94" fill="#5090f8"/>
<rect x="130.39" y="564.87" width="13.29" height="6.94" fill="#2000f8"/>
<rect x="143.07" y="564.87" width="25.97" height="6.94" fill="#5090f8"/>
<rect x="168.45" y="564.87" width="51.34" height="6.94" fill="#b0f8fc"/>
<rect x="54.27" y="571.22" width="76.72" height="6.94" fill="#5090f8"/>
<rect x="130.39" y="571.22" width="6.94" height="6.94" fill="#2000f8"/>
<rect x="136.73" y="571.22" width="32.31" height="6.94" fill="#5090f8"/>
<rect x="168.45" y="571.22" width="51.34" height="6.94" fill="#b0f8fc"/>
<rect x="54.27" y="577.56" width="95.74" height="6.94" fill="#5090f8"/>
<rect x="149.42" y="577.56" width="70.37" height="6.94" fill="#b0f8fc"/>
<rect x="54.27" y="583.9" width="70.37" height="6.94" fill="#5090f8"/>
<rect x="124.05" y="583.9" width="95.74" height="6.94" fill="#b0f8fc"/>
<rect x="54.27" y="590.25" width="165.52" height="6.94" fill="#b0f8fc"/>
</g>
<g clip-path="url(#landg)">
<g  stroke="#f42828" stroke-width="1.0" fill="none">
<path d="M-131.01 609.58 L27.57 451 M-122.96 609.58 L35.62 451 M-114.9 609.58 L43.67 451 M-106.85 609.58 L51.72 451 M-98.8 609.58 L59.78 451 M-90.75 609.58 L67.83 451 M-82.7 609.58 L75.88 451 M-74.64 609.58 L83.93 451 M-66.59 609.58 L91.98 451 M-58.54 609.58 L100.04 451 M-50.49 609.58 L108.09 451 M-42.44 609.58 L116.14 451 M-34.38 609.58 L124.19 451 M-26.33 609.58 L132.24 451 M-18.28 609.58 L140.3 451 M-10.23 609.58 L148.35 451 M-2.18 609.58 L156.4 451 M5.88 609.58 L164.45 451 M13.93 609.58 L172.5 451 M21.98 609.58 L180.56 451 M30.03 609.58 L188.61 451 M38.08 609.58 L196.66 451 M46.14 609.58 L204.71 451 M54.19 609.58 L212.76 451 M62.24 609.58 L220.82 451 M70.29 609.58 L228.87 451 M78.34 609.58 L236.92 451 M86.4 609.58 L244.97 451 M94.45 609.58 L253.02 451 M102.5 609.58 L261.08 451 M110.55 609.58 L269.13 451 M118.6 609.58 L277.18 451 M126.66 609.58 L285.23 451 M134.71 609.58 L293.28 451 M142.76 609.58 L301.34 451 M150.81 609.58 L309.39 451 M158.86 609.58 L317.44 451 M166.92 609.58 L325.49 451 M174.97 609.58 L333.54 451 M183.02 609.58 L341.6 451 M191.07 609.58 L349.65 451 M199.12 609.58 L357.7 451 M207.18 609.58 L365.75 451 M215.23 609.58 L373.8 451"/>
</g></g>
<clipPath id="hg1"><path d="M98.34 523.94 L121.17 513.16 L137.03 503.01 L157.96 507.45 L170.01 517.6 L188.41 525.85 L190.31 544.24 L173.82 555.66 L171.92 574.69 L168.75 593.72 L113.56 593.72 L110.39 562.64 L100.24 550.59 L92 534.09 Z"/></clipPath>
<g clip-path="url(#landg)">
<g clip-path="url(#hg1)" stroke="#f42828" stroke-width="1.0" fill="none">
<path d="M-126.54 451 L32.03 609.58 M-118.49 451 L40.08 609.58 M-110.44 451 L48.14 609.58 M-102.39 451 L56.19 609.58 M-94.34 451 L64.24 609.58 M-86.28 451 L72.29 609.58 M-78.23 451 L80.34 609.58 M-70.18 451 L88.4 609.58 M-62.13 451 L96.45 609.58 M-54.08 451 L104.5 609.58 M-46.02 451 L112.55 609.58 M-37.97 451 L120.6 609.58 M-29.92 451 L128.66 609.58 M-21.87 451 L136.71 609.58 M-13.82 451 L144.76 609.58 M-5.76 451 L152.81 609.58 M2.29 451 L160.86 609.58 M10.34 451 L168.92 609.58 M18.39 451 L176.97 609.58 M26.44 451 L185.02 609.58 M34.5 451 L193.07 609.58 M42.55 451 L201.12 609.58 M50.6 451 L209.18 609.58 M58.65 451 L217.23 609.58 M66.7 451 L225.28 609.58 M74.76 451 L233.33 609.58 M82.81 451 L241.38 609.58 M90.86 451 L249.44 609.58 M98.91 451 L257.49 609.58 M106.96 451 L265.54 609.58 M115.02 451 L273.59 609.58 M123.07 451 L281.64 609.58 M131.12 451 L289.7 609.58 M139.17 451 L297.75 609.58 M147.22 451 L305.8 609.58 M155.28 451 L313.85 609.58 M163.33 451 L321.9 609.58 M171.38 451 L329.96 609.58 M179.43 451 L338.01 609.58 M187.48 451 L346.06 609.58 M195.54 451 L354.11 609.58 M203.59 451 L362.16 609.58 M211.64 451 L370.22 609.58 M219.69 451 L378.27 609.58"/>
</g></g>
<path d="M73.92 473.2 L80.13 479.29 L78.99 482.91 L84.13 485.13 L91.36 483.6 L91.36 479.99 L88.19 475.1 L81.85 472.57 Z" fill="#fff"/>
</g>
<g clip-path="url(#frg)" fill="none" stroke="#000" stroke-linejoin="round">
<path d="M28.57 475.1 L32.37 473.9 L36.11 473.01 L39.35 473.45 L40.74 475.8 L42.58 476.25 L43.98 475.36 L47.21 475.17 L52.8 474.85 L55.59 473.01 L58.38 468.82 L61.17 463.24 L63.9 457.72 L65.8 453.98 L66.24 450.37" stroke-width="1.3"/>
<path d="M42.52 450.37 L43.47 451.95 L44.93 452.78 L48.17 453.54 L50.96 452.27 L52.67 451.63 L54.19 450.37" stroke-width="1.3"/>
<path d="M60.28 486.01 L59.27 489.25 L57.43 493.88 L56.16 496.99 L55.59 495.72 L51.84 492.48 L48.61 488.3 L45.69 482.91 L44.42 482.91 L43.98 483.22 L47.21 489.25 L50.96 493.88 L53.75 496.67 L56.47 502.19 L60.22 510.56 L64.02 519.95 L65.99 521.41 L64.72 523.94 L65.55 525.91 L69.16 530.29 L73.03 533.46 L73.73 539.42 L75.25 545.38 L75.5 550.59 L76.77 554.39 L80.58 557.37 L83.75 561.37 L85.72 563.33 L87.24 570.82 L90.22 576.02 L93.9 577.86 L97.7 579.07 L103.67 582.81 L108.17 586.55 L112.67 591.75 L114.13 596.25 L111.91 598.47 L114.13 601.46 L120.16 606.72 L126.12 605.77 L134.24 603.55 L140.84 601.96 L148.45 601.33 L156.69 599.43 L159.87 598.16 L162.28 597.52 L163.99 597.84 L163.04 601.08 L163.67 605.77 L164.62 607.04 L163.04 608.31 L162.4 610.84" stroke-width="1.3"/>
<path d="M143.37 482.71 L146.55 480.18 L149.27 479.54 L152.89 482.08 L155.62 481.83 L158.41 484.74 L160.5 487.79 L162.02 491.09 L164.75 496.04 L170.4 498.07 L176.04 501.62 L180.23 503.01 L184.6 504.28 L187.33 504.28 L191.58 502.06 L194.31 501.43 L197.16 500.92 L200.65 503.65 L202.05 508.59 L205.54 510.31 L208.33 509.99 L213.97 511.45 L218.86 512.08 L220.76 512.53" stroke-width="1.3"/>
<path d="M158.91 506.5 L159.99 506.5 L159.87 509.04 L159.23 508.72 Z" stroke-width="1" fill="#fff"/>
<path d="M211.24 541.7 L212.83 542.97 L211.88 545.19 L210.61 543.61 Z" stroke-width="1" fill="#fff"/>
<path d="M92 544.88 L94.53 546.78 L96.44 550.59 L94.53 549.32 L92.31 546.46 Z" stroke-width="1" fill="#fff"/>
<path d="M97.7 553.12 L100.24 556.29 L98.97 556.93 L97.07 554.39 Z" stroke-width="1" fill="#fff"/>
<path d="M175.41 593.08 L177.63 591.81 L180.8 592.13 L183.97 592.32 L185.55 593.4 L183.33 594.99 L179.53 595.3 L176.99 594.35 Z" stroke-width="0.8" fill="#000"/>
<path d="M168.43 594.67 L169.38 593.08 L171.28 594.99 L170.01 596.25 Z" stroke-width="0.8" fill="#000"/>
<path d="M173.82 595.3 L176.67 595.3 L175.72 596.57 L174.14 596.38 Z" stroke-width="0.8" fill="#000"/>
<path d="M100.88 562.32 L104.05 561.69 L106.58 563.59 L107.54 566.44 L106.27 568.98 L103.41 568.98 L101.19 566.44 Z" stroke-width="0.8" fill="#000"/>
<path d="M107.22 567.71 L109.12 567.08 L110.07 569.61 L109.76 572.15 L108.49 572.15 L107.54 570.25 Z" stroke-width="0.8" fill="#000"/>
<path d="M108.49 582.93 L110.07 583.25 L110.71 585.79 L109.12 586.74 L108.49 584.84 Z" stroke-width="0.8" fill="#000"/>
<circle cx="109.12" cy="575.32" r="0.51" fill="#000" stroke="none"/>
<circle cx="72.33" cy="509.99" r="0.5" fill="#000" stroke="none"/>
<circle cx="74.24" cy="512.53" r="0.5" fill="#000" stroke="none"/>
<circle cx="85.65" cy="530.92" r="0.5" fill="#000" stroke="none"/>
<circle cx="102.78" cy="571.52" r="0.57" fill="#000" stroke="none"/>
<circle cx="105.32" cy="575.32" r="0.57" fill="#000" stroke="none"/>
<circle cx="100.24" cy="561.37" r="0.5" fill="#000" stroke="none"/>
<circle cx="98.34" cy="558.2" r="0.5" fill="#000" stroke="none"/>
<circle cx="171.92" cy="518.87" r="0.51" fill="#000" stroke="none"/>
<circle cx="175.72" cy="519.19" r="0.51" fill="#000" stroke="none"/>
<circle cx="181.43" cy="518.24" r="0.5" fill="#000" stroke="none"/>
<circle cx="181.11" cy="504.73" r="0.5" fill="#000" stroke="none"/>
<circle cx="176.99" cy="504.28" r="0.5" fill="#000" stroke="none"/>
<circle cx="170.01" cy="518.24" r="0.5" fill="#000" stroke="none"/>
<circle cx="167.48" cy="518.55" r="0.5" fill="#000" stroke="none"/>
<circle cx="178.89" cy="518.55" r="0.5" fill="#000" stroke="none"/>
<circle cx="182.7" cy="517.28" r="0.5" fill="#000" stroke="none"/>
<path d="M87.3 468.95 L73.28 472.82 L79.5 479.42 L76.52 482.14 L71.7 483.6 L68.78 486.01 L62.82 486.52 L60.6 486.65" stroke-width="1.8"/>
<path d="M134.18 488.42 L139.89 491.91 L146.04 491.98" stroke-width="1.25"/>
<path d="M166.21 519.19 L168.75 522.68 L172.55 527.43 L189.04 529.02" stroke-width="1.25"/>
<path d="M189.04 529.02 L192.02 533.46 L189.55 540.69 L187.77 546.14 L170.01 552.81" stroke-width="1.25"/>
<path d="M189.04 529.02 L190.95 523.31 L192.34 518.87 L194.31 513.42 L195.01 510.62" stroke-width="1.25"/>
<path d="M170.01 552.81 L156.69 554.07 L149.72 555.03 L142.11 557.56 L137.03 564.54 L129.1 563.33 L121.17 562.76 L114.2 562.57 L112.67 561.81 L111.66 564.54 L110.71 567.71" stroke-width="1.25"/>
<path d="M170.01 552.81 L174.45 565.87" stroke-width="1.25"/>
<path d="M60.66 486.39 L62.06 482.71 L63.45 477.01 L64.09 473.2 L64.4 468.76 L65.04 465.27 L69.16 467.17 L72.65 467.81 L77.15 465.02 L84.89 461.15 L86.67 468 L87.3 468.95 L95.17 470.66 L105.95 475.74 L122.44 487.79 L134.18 488.42 L138.05 482.4 L141.47 482.08 L144.64 482.59 L143.69 485.25 L142.42 486.2 L144.01 487.16 L146.04 491.91 L147.18 494.77 L149.08 496.99 L151.62 498.89 L153.84 501.11 L156.06 503.01 L157.01 504.6 L156.38 506.82 L157.33 509.04 L158.28 510.94 L159.55 513.16 L161.13 516.02 L161.13 512.53 L161.77 509.99 L162.72 507.77 L163.99 507.14 L165.57 508.4 L166.21 512.53 L166.21 515.38 L164.94 517.28 L166.21 519.19 L167.48 520.46 L170.01 520.14 L173.19 519.5 L176.99 520.14 L180.16 518.87 L183.97 518.24 L185.87 516.02 L188.41 514.11 L190.95 512.21 L192.85 510.31 L194.44 508.09 L195.39 506.18 L196.46 505.42 L196.97 506.82 L196.02 508.72 L196.34 511.89 L196.34 514.75 L197.29 516.97 L199.19 518.87 L202.36 521.09 L205.54 522.36 L208.33 522.99 L210.61 523.31 L212.51 525.85 L214.42 528.38 L216.32 529.65 L218.22 530.29 L216.64 534.41 L213.53 539.17 L211.56 541.39 L209.72 542.21 L206.55 544.56 L205.03 548.37 L205.92 551.41 L202.81 553.82 L197.35 556.17 L193.48 559.21 L188.85 561.5 L185.75 564.67 L181.43 565.49 L177.94 566.19 L171.6 568.73 L170.33 573.1 L166.21 574.37 L162.59 575.2 L157.96 577.86 L152.89 579.51 L147.81 583.57 L142.87 583.82 L138.3 586.11 L134.24 587.37 L128.79 588.33 L124.6 591.5 L121.17 592.13 L118.64 592.77 L114.51 592.77 L113.37 588.77 L112.67 582.81 L111.34 579.13 L111.15 576.78 L110.07 573.42 L111.15 569.3 L110.39 566.32 L108.17 562.57 L103.73 558.2 L99.29 552.17 L95.48 546.78 L90.41 541.07 L86.92 536 L86.29 531.56 L85.02 529.02 L82.16 523.31 L79.75 519.95 L75.19 513.8 L73.22 511.51 L71.06 507.77 L69.48 505.17 L67.64 502.19 L63.9 497.56 L60.28 495.72 L58.38 495.08 L59.33 492.23 L60.28 488.42 Z" stroke-width="1.9"/>
</g>
<rect x="29.2" y="451" width="190.29" height="158.57" fill="none" stroke="#222" stroke-width="1"/>
<path d="M29.2 608.78 v4.6 M60.91 608.78 v4.6 M92.63 608.78 v4.6 M124.34 608.78 v4.6 M156.06 608.78 v4.6 M187.77 608.78 v4.6 M219.49 608.78 v4.6 M29.8 609.58 h-4.8 M29.8 577.86 h-4.8 M29.8 546.14 h-4.8 M29.8 514.43 h-4.8 M29.8 482.71 h-4.8 M29.8 451 h-4.8" stroke="#111" stroke-width="1.2" fill="none"/>
<path d="M35.54 609.58 v2.2 M48.23 609.58 v2.2 M73.6 609.58 v2.2 M86.29 609.58 v2.2 M98.97 609.58 v2.2 M111.66 609.58 v2.2 M137.03 609.58 v2.2 M149.72 609.58 v2.2 M162.4 609.58 v2.2 M175.09 609.58 v2.2 M200.46 609.58 v2.2 M213.15 609.58 v2.2" stroke="#222" stroke-width="1" fill="none"/>
<g font-size="9.2" fill="#222"><text transform="translate(29.2 626.78) scale(1 1.08)" text-anchor="middle">30E</text><text transform="translate(60.91 626.78) scale(1 1.08)" text-anchor="middle">35E</text><text transform="translate(92.63 626.78) scale(1 1.08)" text-anchor="middle">40E</text><text transform="translate(124.34 626.78) scale(1 1.08)" text-anchor="middle">45E</text><text transform="translate(156.06 626.78) scale(1 1.08)" text-anchor="middle">50E</text><text transform="translate(187.77 626.78) scale(1 1.08)" text-anchor="middle">55E</text><text transform="translate(219.49 626.78) scale(1 1.08)" text-anchor="middle">60E</text><text transform="translate(19.9 612.58) scale(1 1.08)" text-anchor="end">10N</text><text transform="translate(19.9 580.86) scale(1 1.08)" text-anchor="end">15N</text><text transform="translate(19.9 549.14) scale(1 1.08)" text-anchor="end">20N</text><text transform="translate(19.9 517.43) scale(1 1.08)" text-anchor="end">25N</text><text transform="translate(19.9 485.71) scale(1 1.08)" text-anchor="end">30N</text><text transform="translate(19.9 454) scale(1 1.08)" text-anchor="end">35N</text></g>
<text x="29.1" y="446.9" font-size="11.1" font-weight="bold" fill="#111">g) SSP1-2.6: 2070-2099</text>
<defs><clipPath id="landh"><path d="M288.36 486.39 L289.76 482.71 L291.15 477.01 L291.79 473.2 L292.1 468.76 L292.74 465.27 L296.86 467.17 L300.35 467.81 L304.85 465.02 L312.59 461.15 L314.37 468 L315 468.95 L322.87 470.66 L333.65 475.74 L350.14 487.79 L361.88 488.42 L365.75 482.4 L369.17 482.08 L372.34 482.59 L371.39 485.25 L370.12 486.2 L371.71 487.16 L373.74 491.91 L374.88 494.77 L376.78 496.99 L379.32 498.89 L381.54 501.11 L383.76 503.01 L384.71 504.6 L384.08 506.82 L385.03 509.04 L385.98 510.94 L387.25 513.16 L388.83 516.02 L388.83 512.53 L389.47 509.99 L390.42 507.77 L391.69 507.14 L393.27 508.4 L393.91 512.53 L393.91 515.38 L392.64 517.28 L393.91 519.19 L395.18 520.46 L397.71 520.14 L400.89 519.5 L404.69 520.14 L407.86 518.87 L411.67 518.24 L413.57 516.02 L416.11 514.11 L418.65 512.21 L420.55 510.31 L422.14 508.09 L423.09 506.18 L424.16 505.42 L424.67 506.82 L423.72 508.72 L424.04 511.89 L424.04 514.75 L424.99 516.97 L426.89 518.87 L430.06 521.09 L433.24 522.36 L436.03 522.99 L438.31 523.31 L440.21 525.85 L442.12 528.38 L444.02 529.65 L445.92 530.29 L444.34 534.41 L441.23 539.17 L439.26 541.39 L437.42 542.21 L434.25 544.56 L432.73 548.37 L433.62 551.41 L430.51 553.82 L425.05 556.17 L421.18 559.21 L416.55 561.5 L413.45 564.67 L409.13 565.49 L405.64 566.19 L399.3 568.73 L398.03 573.1 L393.91 574.37 L390.29 575.2 L385.66 577.86 L380.59 579.51 L375.51 583.57 L370.57 583.82 L366 586.11 L361.94 587.37 L356.49 588.33 L352.3 591.5 L348.87 592.13 L346.34 592.77 L342.21 592.77 L341.07 588.77 L340.37 582.81 L339.04 579.13 L338.85 576.78 L337.77 573.42 L338.85 569.3 L338.09 566.32 L335.87 562.57 L331.43 558.2 L326.99 552.17 L323.18 546.78 L318.11 541.07 L314.62 536 L313.99 531.56 L312.72 529.02 L309.86 523.31 L307.45 519.95 L302.89 513.8 L300.92 511.51 L298.76 507.77 L297.18 505.17 L295.34 502.19 L291.6 497.56 L287.98 495.72 L286.08 495.08 L287.03 492.23 L287.98 488.42 Z"/></clipPath>
<clipPath id="frh"><rect x="256.9" y="451" width="190.29" height="158.57"/></clipPath></defs>
<g clip-path="url(#landh)"><g filter="url(#bl)">
<rect x="281.97" y="457.04" width="13.29" height="6.94" fill="#f0d898"/>
<rect x="294.66" y="457.04" width="6.94" height="6.94" fill="#5090f8"/>
<rect x="301" y="457.04" width="146.49" height="6.94" fill="#2000f8"/>
<rect x="281.97" y="463.39" width="13.29" height="6.94" fill="#b0f8fc"/>
<rect x="294.66" y="463.39" width="6.94" height="6.94" fill="#5090f8"/>
<rect x="301" y="463.39" width="13.29" height="6.94" fill="#2000f8"/>
<rect x="313.69" y="463.39" width="133.8" height="6.94" fill="#5090f8"/>
<rect x="281.97" y="469.73" width="13.29" height="6.94" fill="#b0f8fc"/>
<rect x="294.66" y="469.73" width="6.94" height="6.94" fill="#2000f8"/>
<rect x="301" y="469.73" width="13.29" height="6.94" fill="#f0fcfc"/>
<rect x="313.69" y="469.73" width="6.94" height="6.94" fill="#2000f8"/>
<rect x="320.03" y="469.73" width="127.46" height="6.94" fill="#5090f8"/>
<rect x="281.97" y="476.07" width="6.94" height="6.94" fill="#5090f8"/>
<rect x="288.31" y="476.07" width="13.29" height="6.94" fill="#2000f8"/>
<rect x="301" y="476.07" width="6.94" height="6.94" fill="#f83c40"/>
<rect x="307.34" y="476.07" width="6.94" height="6.94" fill="#5090f8"/>
<rect x="313.69" y="476.07" width="6.94" height="6.94" fill="#2000f8"/>
<rect x="320.03" y="476.07" width="6.94" height="6.94" fill="#b0f8fc"/>
<rect x="326.37" y="476.07" width="13.29" height="6.94" fill="#5090f8"/>
<rect x="339.06" y="476.07" width="108.43" height="6.94" fill="#2000f8"/>
<rect x="281.97" y="482.41" width="13.29" height="6.94" fill="#b0f8fc"/>
<rect x="294.66" y="482.41" width="13.29" height="6.94" fill="#5090f8"/>
<rect x="307.34" y="482.41" width="6.94" height="6.94" fill="#2000f8"/>
<rect x="313.69" y="482.41" width="6.94" height="6.94" fill="#b0f8fc"/>
<rect x="320.03" y="482.41" width="6.94" height="6.94" fill="#5090f8"/>
<rect x="326.37" y="482.41" width="121.12" height="6.94" fill="#2000f8"/>
<rect x="281.97" y="488.76" width="13.29" height="6.94" fill="#b0f8fc"/>
<rect x="294.66" y="488.76" width="32.31" height="6.94" fill="#5090f8"/>
<rect x="326.37" y="488.76" width="121.12" height="6.94" fill="#2000f8"/>
<rect x="281.97" y="495.1" width="19.63" height="6.94" fill="#5090f8"/>
<rect x="301" y="495.1" width="6.94" height="6.94" fill="#b0f8fc"/>
<rect x="307.34" y="495.1" width="13.29" height="6.94" fill="#5090f8"/>
<rect x="320.03" y="495.1" width="6.94" height="6.94" fill="#b0f8fc"/>
<rect x="326.37" y="495.1" width="6.94" height="6.94" fill="#5090f8"/>
<rect x="332.72" y="495.1" width="13.29" height="6.94" fill="#2000f8"/>
<rect x="345.4" y="495.1" width="6.94" height="6.94" fill="#5090f8"/>
<rect x="351.74" y="495.1" width="13.29" height="6.94" fill="#2000f8"/>
<rect x="364.43" y="495.1" width="6.94" height="6.94" fill="#5090f8"/>
<rect x="370.77" y="495.1" width="76.72" height="6.94" fill="#2000f8"/>
<rect x="281.97" y="501.44" width="19.63" height="6.94" fill="#b0f8fc"/>
<rect x="301" y="501.44" width="19.63" height="6.94" fill="#5090f8"/>
<rect x="320.03" y="501.44" width="6.94" height="6.94" fill="#b0f8fc"/>
<rect x="326.37" y="501.44" width="13.29" height="6.94" fill="#5090f8"/>
<rect x="339.06" y="501.44" width="13.29" height="6.94" fill="#2000f8"/>
<rect x="351.74" y="501.44" width="6.94" height="6.94" fill="#5090f8"/>
<rect x="358.09" y="501.44" width="89.4" height="6.94" fill="#2000f8"/>
<rect x="281.97" y="507.79" width="19.63" height="6.94" fill="#b0f8fc"/>
<rect x="301" y="507.79" width="6.94" height="6.94" fill="#f83c40"/>
<rect x="307.34" y="507.79" width="6.94" height="6.94" fill="#b0f8fc"/>
<rect x="313.69" y="507.79" width="32.31" height="6.94" fill="#5090f8"/>
<rect x="345.4" y="507.79" width="19.63" height="6.94" fill="#2000f8"/>
<rect x="364.43" y="507.79" width="6.94" height="6.94" fill="#5090f8"/>
<rect x="370.77" y="507.79" width="76.72" height="6.94" fill="#2000f8"/>
<rect x="281.97" y="514.13" width="32.31" height="6.94" fill="#b0f8fc"/>
<rect x="313.69" y="514.13" width="32.31" height="6.94" fill="#5090f8"/>
<rect x="345.4" y="514.13" width="64.03" height="6.94" fill="#2000f8"/>
<rect x="408.83" y="514.13" width="38.66" height="6.94" fill="#5090f8"/>
<rect x="281.97" y="520.47" width="32.31" height="6.94" fill="#b0f8fc"/>
<rect x="313.69" y="520.47" width="32.31" height="6.94" fill="#5090f8"/>
<rect x="345.4" y="520.47" width="57.69" height="6.94" fill="#2000f8"/>
<rect x="402.49" y="520.47" width="19.63" height="6.94" fill="#5090f8"/>
<rect x="421.52" y="520.47" width="25.97" height="6.94" fill="#b0f8fc"/>
<rect x="281.97" y="526.82" width="57.69" height="6.94" fill="#5090f8"/>
<rect x="339.06" y="526.82" width="64.03" height="6.94" fill="#2000f8"/>
<rect x="402.49" y="526.82" width="19.63" height="6.94" fill="#5090f8"/>
<rect x="421.52" y="526.82" width="25.97" height="6.94" fill="#b0f8fc"/>
<rect x="281.97" y="533.16" width="57.69" height="6.94" fill="#5090f8"/>
<rect x="339.06" y="533.16" width="57.69" height="6.94" fill="#2000f8"/>
<rect x="396.15" y="533.16" width="32.31" height="6.94" fill="#5090f8"/>
<rect x="427.86" y="533.16" width="19.63" height="6.94" fill="#b0f8fc"/>
<rect x="281.97" y="539.5" width="57.69" height="6.94" fill="#5090f8"/>
<rect x="339.06" y="539.5" width="45" height="6.94" fill="#2000f8"/>
<rect x="383.46" y="539.5" width="51.34" height="6.94" fill="#5090f8"/>
<rect x="434.2" y="539.5" width="13.29" height="6.94" fill="#b0f8fc"/>
<rect x="281.97" y="545.85" width="64.03" height="6.94" fill="#5090f8"/>
<rect x="345.4" y="545.85" width="25.97" height="6.94" fill="#2000f8"/>
<rect x="370.77" y="545.85" width="57.69" height="6.94" fill="#5090f8"/>
<rect x="427.86" y="545.85" width="19.63" height="6.94" fill="#b0f8fc"/>
<rect x="281.97" y="552.19" width="70.37" height="6.94" fill="#5090f8"/>
<rect x="351.74" y="552.19" width="6.94" height="6.94" fill="#2000f8"/>
<rect x="358.09" y="552.19" width="89.4" height="6.94" fill="#5090f8"/>
<rect x="281.97" y="558.53" width="76.72" height="6.94" fill="#5090f8"/>
<rect x="358.09" y="558.53" width="6.94" height="6.94" fill="#2000f8"/>
<rect x="364.43" y="558.53" width="51.34" height="6.94" fill="#5090f8"/>
<rect x="415.17" y="558.53" width="32.31" height="6.94" fill="#b0f8fc"/>
<rect x="281.97" y="564.87" width="64.03" height="6.94" fill="#b0f8fc"/>
<rect x="345.4" y="564.87" width="13.29" height="6.94" fill="#5090f8"/>
<rect x="358.09" y="564.87" width="6.94" height="6.94" fill="#2000f8"/>
<rect x="364.43" y="564.87" width="13.29" height="6.94" fill="#5090f8"/>
<rect x="377.12" y="564.87" width="6.94" height="6.94" fill="#b0f8fc"/>
<rect x="383.46" y="564.87" width="64.03" height="6.94" fill="#5090f8"/>
<rect x="281.97" y="571.22" width="64.03" height="6.94" fill="#b0f8fc"/>
<rect x="345.4" y="571.22" width="13.29" height="6.94" fill="#5090f8"/>
<rect x="358.09" y="571.22" width="6.94" height="6.94" fill="#2000f8"/>
<rect x="364.43" y="571.22" width="83.06" height="6.94" fill="#5090f8"/>
<rect x="281.97" y="577.56" width="70.37" height="6.94" fill="#5090f8"/>
<rect x="351.74" y="577.56" width="6.94" height="6.94" fill="#2000f8"/>
<rect x="358.09" y="577.56" width="89.4" height="6.94" fill="#5090f8"/>
<rect x="281.97" y="583.9" width="165.52" height="6.94" fill="#5090f8"/>
<rect x="281.97" y="590.25" width="165.52" height="6.94" fill="#5090f8"/>
</g>
<g clip-path="url(#landh)">
<g  stroke="#f42828" stroke-width="1.0" fill="none">
<path d="M102.5 609.58 L261.08 451 M110.55 609.58 L269.13 451 M118.6 609.58 L277.18 451 M126.66 609.58 L285.23 451 M134.71 609.58 L293.28 451 M142.76 609.58 L301.34 451 M150.81 609.58 L309.39 451 M158.86 609.58 L317.44 451 M166.92 609.58 L325.49 451 M174.97 609.58 L333.54 451 M183.02 609.58 L341.6 451 M191.07 609.58 L349.65 451 M199.12 609.58 L357.7 451 M207.18 609.58 L365.75 451 M215.23 609.58 L373.8 451 M223.28 609.58 L381.86 451 M231.33 609.58 L389.91 451 M239.38 609.58 L397.96 451 M247.44 609.58 L406.01 451 M255.49 609.58 L414.06 451 M263.54 609.58 L422.12 451 M271.59 609.58 L430.17 451 M279.64 609.58 L438.22 451 M287.7 609.58 L446.27 451 M295.75 609.58 L454.32 451 M303.8 609.58 L462.38 451 M311.85 609.58 L470.43 451 M319.9 609.58 L478.48 451 M327.96 609.58 L486.53 451 M336.01 609.58 L494.58 451 M344.06 609.58 L502.64 451 M352.11 609.58 L510.69 451 M360.16 609.58 L518.74 451 M368.22 609.58 L526.79 451 M376.27 609.58 L534.84 451 M384.32 609.58 L542.9 451 M392.37 609.58 L550.95 451 M400.42 609.58 L559 451 M408.48 609.58 L567.05 451 M416.53 609.58 L575.1 451 M424.58 609.58 L583.16 451 M432.63 609.58 L591.21 451 M440.68 609.58 L599.26 451 M448.74 609.58 L607.31 451"/>
</g></g>
<clipPath id="hh1"><path d="M319.7 483.98 L340.63 482.71 L367.9 481.45 L386.93 504.92 L396.45 518.87 L414.84 525.85 L419.28 546.14 L402.79 562 L399.62 593.72 L341.26 593.72 L338.72 562 L326.67 539.17 L324.77 516.33 L319.06 498.57 Z"/></clipPath>
<g clip-path="url(#landh)">
<g clip-path="url(#hh1)" stroke="#f42828" stroke-width="1.0" fill="none">
<path d="M98.91 451 L257.49 609.58 M106.96 451 L265.54 609.58 M115.02 451 L273.59 609.58 M123.07 451 L281.64 609.58 M131.12 451 L289.7 609.58 M139.17 451 L297.75 609.58 M147.22 451 L305.8 609.58 M155.28 451 L313.85 609.58 M163.33 451 L321.9 609.58 M171.38 451 L329.96 609.58 M179.43 451 L338.01 609.58 M187.48 451 L346.06 609.58 M195.54 451 L354.11 609.58 M203.59 451 L362.16 609.58 M211.64 451 L370.22 609.58 M219.69 451 L378.27 609.58 M227.74 451 L386.32 609.58 M235.8 451 L394.37 609.58 M243.85 451 L402.42 609.58 M251.9 451 L410.48 609.58 M259.95 451 L418.53 609.58 M268 451 L426.58 609.58 M276.06 451 L434.63 609.58 M284.11 451 L442.68 609.58 M292.16 451 L450.74 609.58 M300.21 451 L458.79 609.58 M308.26 451 L466.84 609.58 M316.32 451 L474.89 609.58 M324.37 451 L482.94 609.58 M332.42 451 L491 609.58 M340.47 451 L499.05 609.58 M348.52 451 L507.1 609.58 M356.58 451 L515.15 609.58 M364.63 451 L523.2 609.58 M372.68 451 L531.26 609.58 M380.73 451 L539.31 609.58 M388.78 451 L547.36 609.58 M396.84 451 L555.41 609.58 M404.89 451 L563.46 609.58 M412.94 451 L571.52 609.58 M420.99 451 L579.57 609.58 M429.04 451 L587.62 609.58 M437.1 451 L595.67 609.58 M445.15 451 L603.72 609.58"/>
</g></g>
<path d="M301.62 473.2 L307.83 479.29 L306.69 482.91 L311.83 485.13 L319.06 483.6 L319.06 479.99 L315.89 475.1 L309.55 472.57 Z" fill="#fff"/>
</g>
<g clip-path="url(#frh)" fill="none" stroke="#000" stroke-linejoin="round">
<path d="M256.27 475.1 L260.07 473.9 L263.81 473.01 L267.05 473.45 L268.44 475.8 L270.28 476.25 L271.68 475.36 L274.91 475.17 L280.5 474.85 L283.29 473.01 L286.08 468.82 L288.87 463.24 L291.6 457.72 L293.5 453.98 L293.94 450.37" stroke-width="1.3"/>
<path d="M270.22 450.37 L271.17 451.95 L272.63 452.78 L275.87 453.54 L278.66 452.27 L280.37 451.63 L281.89 450.37" stroke-width="1.3"/>
<path d="M287.98 486.01 L286.97 489.25 L285.13 493.88 L283.86 496.99 L283.29 495.72 L279.54 492.48 L276.31 488.3 L273.39 482.91 L272.12 482.91 L271.68 483.22 L274.91 489.25 L278.66 493.88 L281.45 496.67 L284.17 502.19 L287.92 510.56 L291.72 519.95 L293.69 521.41 L292.42 523.94 L293.25 525.91 L296.86 530.29 L300.73 533.46 L301.43 539.42 L302.95 545.38 L303.2 550.59 L304.47 554.39 L308.28 557.37 L311.45 561.37 L313.42 563.33 L314.94 570.82 L317.92 576.02 L321.6 577.86 L325.4 579.07 L331.37 582.81 L335.87 586.55 L340.37 591.75 L341.83 596.25 L339.61 598.47 L341.83 601.46 L347.86 606.72 L353.82 605.77 L361.94 603.55 L368.54 601.96 L376.15 601.33 L384.39 599.43 L387.57 598.16 L389.98 597.52 L391.69 597.84 L390.74 601.08 L391.37 605.77 L392.32 607.04 L390.74 608.31 L390.1 610.84" stroke-width="1.3"/>
<path d="M371.07 482.71 L374.25 480.18 L376.97 479.54 L380.59 482.08 L383.32 481.83 L386.11 484.74 L388.2 487.79 L389.72 491.09 L392.45 496.04 L398.1 498.07 L403.74 501.62 L407.93 503.01 L412.3 504.28 L415.03 504.28 L419.28 502.06 L422.01 501.43 L424.86 500.92 L428.35 503.65 L429.75 508.59 L433.24 510.31 L436.03 509.99 L441.67 511.45 L446.56 512.08 L448.46 512.53" stroke-width="1.3"/>
<path d="M386.61 506.5 L387.69 506.5 L387.57 509.04 L386.93 508.72 Z" stroke-width="1" fill="#fff"/>
<path d="M438.94 541.7 L440.53 542.97 L439.58 545.19 L438.31 543.61 Z" stroke-width="1" fill="#fff"/>
<path d="M319.7 544.88 L322.23 546.78 L324.14 550.59 L322.23 549.32 L320.01 546.46 Z" stroke-width="1" fill="#fff"/>
<path d="M325.4 553.12 L327.94 556.29 L326.67 556.93 L324.77 554.39 Z" stroke-width="1" fill="#fff"/>
<path d="M403.11 593.08 L405.33 591.81 L408.5 592.13 L411.67 592.32 L413.25 593.4 L411.03 594.99 L407.23 595.3 L404.69 594.35 Z" stroke-width="0.8" fill="#000"/>
<path d="M396.13 594.67 L397.08 593.08 L398.98 594.99 L397.71 596.25 Z" stroke-width="0.8" fill="#000"/>
<path d="M401.52 595.3 L404.37 595.3 L403.42 596.57 L401.84 596.38 Z" stroke-width="0.8" fill="#000"/>
<path d="M328.58 562.32 L331.75 561.69 L334.28 563.59 L335.24 566.44 L333.97 568.98 L331.11 568.98 L328.89 566.44 Z" stroke-width="0.8" fill="#000"/>
<path d="M334.92 567.71 L336.82 567.08 L337.77 569.61 L337.46 572.15 L336.19 572.15 L335.24 570.25 Z" stroke-width="0.8" fill="#000"/>
<path d="M336.19 582.93 L337.77 583.25 L338.41 585.79 L336.82 586.74 L336.19 584.84 Z" stroke-width="0.8" fill="#000"/>
<circle cx="336.82" cy="575.32" r="0.51" fill="#000" stroke="none"/>
<circle cx="300.03" cy="509.99" r="0.5" fill="#000" stroke="none"/>
<circle cx="301.94" cy="512.53" r="0.5" fill="#000" stroke="none"/>
<circle cx="313.35" cy="530.92" r="0.5" fill="#000" stroke="none"/>
<circle cx="330.48" cy="571.52" r="0.57" fill="#000" stroke="none"/>
<circle cx="333.02" cy="575.32" r="0.57" fill="#000" stroke="none"/>
<circle cx="327.94" cy="561.37" r="0.5" fill="#000" stroke="none"/>
<circle cx="326.04" cy="558.2" r="0.5" fill="#000" stroke="none"/>
<circle cx="399.62" cy="518.87" r="0.51" fill="#000" stroke="none"/>
<circle cx="403.42" cy="519.19" r="0.51" fill="#000" stroke="none"/>
<circle cx="409.13" cy="518.24" r="0.5" fill="#000" stroke="none"/>
<circle cx="408.81" cy="504.73" r="0.5" fill="#000" stroke="none"/>
<circle cx="404.69" cy="504.28" r="0.5" fill="#000" stroke="none"/>
<circle cx="397.71" cy="518.24" r="0.5" fill="#000" stroke="none"/>
<circle cx="395.18" cy="518.55" r="0.5" fill="#000" stroke="none"/>
<circle cx="406.59" cy="518.55" r="0.5" fill="#000" stroke="none"/>
<circle cx="410.4" cy="517.28" r="0.5" fill="#000" stroke="none"/>
<path d="M315 468.95 L300.98 472.82 L307.2 479.42 L304.22 482.14 L299.4 483.6 L296.48 486.01 L290.52 486.52 L288.3 486.65" stroke-width="1.8"/>
<path d="M361.88 488.42 L367.59 491.91 L373.74 491.98" stroke-width="1.25"/>
<path d="M393.91 519.19 L396.45 522.68 L400.25 527.43 L416.74 529.02" stroke-width="1.25"/>
<path d="M416.74 529.02 L419.72 533.46 L417.25 540.69 L415.47 546.14 L397.71 552.81" stroke-width="1.25"/>
<path d="M416.74 529.02 L418.65 523.31 L420.04 518.87 L422.01 513.42 L422.71 510.62" stroke-width="1.25"/>
<path d="M397.71 552.81 L384.39 554.07 L377.42 555.03 L369.81 557.56 L364.73 564.54 L356.8 563.33 L348.87 562.76 L341.9 562.57 L340.37 561.81 L339.36 564.54 L338.41 567.71" stroke-width="1.25"/>
<path d="M397.71 552.81 L402.15 565.87" stroke-width="1.25"/>
<path d="M288.36 486.39 L289.76 482.71 L291.15 477.01 L291.79 473.2 L292.1 468.76 L292.74 465.27 L296.86 467.17 L300.35 467.81 L304.85 465.02 L312.59 461.15 L314.37 468 L315 468.95 L322.87 470.66 L333.65 475.74 L350.14 487.79 L361.88 488.42 L365.75 482.4 L369.17 482.08 L372.34 482.59 L371.39 485.25 L370.12 486.2 L371.71 487.16 L373.74 491.91 L374.88 494.77 L376.78 496.99 L379.32 498.89 L381.54 501.11 L383.76 503.01 L384.71 504.6 L384.08 506.82 L385.03 509.04 L385.98 510.94 L387.25 513.16 L388.83 516.02 L388.83 512.53 L389.47 509.99 L390.42 507.77 L391.69 507.14 L393.27 508.4 L393.91 512.53 L393.91 515.38 L392.64 517.28 L393.91 519.19 L395.18 520.46 L397.71 520.14 L400.89 519.5 L404.69 520.14 L407.86 518.87 L411.67 518.24 L413.57 516.02 L416.11 514.11 L418.65 512.21 L420.55 510.31 L422.14 508.09 L423.09 506.18 L424.16 505.42 L424.67 506.82 L423.72 508.72 L424.04 511.89 L424.04 514.75 L424.99 516.97 L426.89 518.87 L430.06 521.09 L433.24 522.36 L436.03 522.99 L438.31 523.31 L440.21 525.85 L442.12 528.38 L444.02 529.65 L445.92 530.29 L444.34 534.41 L441.23 539.17 L439.26 541.39 L437.42 542.21 L434.25 544.56 L432.73 548.37 L433.62 551.41 L430.51 553.82 L425.05 556.17 L421.18 559.21 L416.55 561.5 L413.45 564.67 L409.13 565.49 L405.64 566.19 L399.3 568.73 L398.03 573.1 L393.91 574.37 L390.29 575.2 L385.66 577.86 L380.59 579.51 L375.51 583.57 L370.57 583.82 L366 586.11 L361.94 587.37 L356.49 588.33 L352.3 591.5 L348.87 592.13 L346.34 592.77 L342.21 592.77 L341.07 588.77 L340.37 582.81 L339.04 579.13 L338.85 576.78 L337.77 573.42 L338.85 569.3 L338.09 566.32 L335.87 562.57 L331.43 558.2 L326.99 552.17 L323.18 546.78 L318.11 541.07 L314.62 536 L313.99 531.56 L312.72 529.02 L309.86 523.31 L307.45 519.95 L302.89 513.8 L300.92 511.51 L298.76 507.77 L297.18 505.17 L295.34 502.19 L291.6 497.56 L287.98 495.72 L286.08 495.08 L287.03 492.23 L287.98 488.42 Z" stroke-width="1.9"/>
</g>
<rect x="256.9" y="451" width="190.29" height="158.57" fill="none" stroke="#222" stroke-width="1"/>
<path d="M256.9 608.78 v4.6 M288.61 608.78 v4.6 M320.33 608.78 v4.6 M352.04 608.78 v4.6 M383.76 608.78 v4.6 M415.47 608.78 v4.6 M447.19 608.78 v4.6 M257.5 609.58 h-4.8 M257.5 577.86 h-4.8 M257.5 546.14 h-4.8 M257.5 514.43 h-4.8 M257.5 482.71 h-4.8 M257.5 451 h-4.8" stroke="#111" stroke-width="1.2" fill="none"/>
<path d="M263.24 609.58 v2.2 M275.93 609.58 v2.2 M301.3 609.58 v2.2 M313.99 609.58 v2.2 M326.67 609.58 v2.2 M339.36 609.58 v2.2 M364.73 609.58 v2.2 M377.42 609.58 v2.2 M390.1 609.58 v2.2 M402.79 609.58 v2.2 M428.16 609.58 v2.2 M440.85 609.58 v2.2" stroke="#222" stroke-width="1" fill="none"/>
<g font-size="9.2" fill="#222"><text transform="translate(256.9 626.78) scale(1 1.08)" text-anchor="middle">30E</text><text transform="translate(288.61 626.78) scale(1 1.08)" text-anchor="middle">35E</text><text transform="translate(320.33 626.78) scale(1 1.08)" text-anchor="middle">40E</text><text transform="translate(352.04 626.78) scale(1 1.08)" text-anchor="middle">45E</text><text transform="translate(383.76 626.78) scale(1 1.08)" text-anchor="middle">50E</text><text transform="translate(415.47 626.78) scale(1 1.08)" text-anchor="middle">55E</text><text transform="translate(447.19 626.78) scale(1 1.08)" text-anchor="middle">60E</text><text transform="translate(247.6 612.58) scale(1 1.08)" text-anchor="end">10N</text><text transform="translate(247.6 580.86) scale(1 1.08)" text-anchor="end">15N</text><text transform="translate(247.6 549.14) scale(1 1.08)" text-anchor="end">20N</text><text transform="translate(247.6 517.43) scale(1 1.08)" text-anchor="end">25N</text><text transform="translate(247.6 485.71) scale(1 1.08)" text-anchor="end">30N</text><text transform="translate(247.6 454) scale(1 1.08)" text-anchor="end">35N</text></g>
<text x="256.8" y="446.9" font-size="11.1" font-weight="bold" fill="#111">h) SSP2-4.5: 2070-2099</text>
<defs><clipPath id="landi"><path d="M515.96 486.39 L517.36 482.71 L518.75 477.01 L519.39 473.2 L519.7 468.76 L520.34 465.27 L524.46 467.17 L527.95 467.81 L532.45 465.02 L540.19 461.15 L541.97 468 L542.6 468.95 L550.47 470.66 L561.25 475.74 L577.74 487.79 L589.48 488.42 L593.35 482.4 L596.77 482.08 L599.94 482.59 L598.99 485.25 L597.72 486.2 L599.31 487.16 L601.34 491.91 L602.48 494.77 L604.38 496.99 L606.92 498.89 L609.14 501.11 L611.36 503.01 L612.31 504.6 L611.68 506.82 L612.63 509.04 L613.58 510.94 L614.85 513.16 L616.43 516.02 L616.43 512.53 L617.07 509.99 L618.02 507.77 L619.29 507.14 L620.87 508.4 L621.51 512.53 L621.51 515.38 L620.24 517.28 L621.51 519.19 L622.78 520.46 L625.31 520.14 L628.49 519.5 L632.29 520.14 L635.46 518.87 L639.27 518.24 L641.17 516.02 L643.71 514.11 L646.25 512.21 L648.15 510.31 L649.74 508.09 L650.69 506.18 L651.76 505.42 L652.27 506.82 L651.32 508.72 L651.64 511.89 L651.64 514.75 L652.59 516.97 L654.49 518.87 L657.66 521.09 L660.84 522.36 L663.63 522.99 L665.91 523.31 L667.81 525.85 L669.72 528.38 L671.62 529.65 L673.52 530.29 L671.94 534.41 L668.83 539.17 L666.86 541.39 L665.02 542.21 L661.85 544.56 L660.33 548.37 L661.22 551.41 L658.11 553.82 L652.65 556.17 L648.78 559.21 L644.15 561.5 L641.05 564.67 L636.73 565.49 L633.24 566.19 L626.9 568.73 L625.63 573.1 L621.51 574.37 L617.89 575.2 L613.26 577.86 L608.19 579.51 L603.11 583.57 L598.17 583.82 L593.6 586.11 L589.54 587.37 L584.09 588.33 L579.9 591.5 L576.47 592.13 L573.94 592.77 L569.81 592.77 L568.67 588.77 L567.97 582.81 L566.64 579.13 L566.45 576.78 L565.37 573.42 L566.45 569.3 L565.69 566.32 L563.47 562.57 L559.03 558.2 L554.59 552.17 L550.78 546.78 L545.71 541.07 L542.22 536 L541.59 531.56 L540.32 529.02 L537.46 523.31 L535.05 519.95 L530.49 513.8 L528.52 511.51 L526.36 507.77 L524.78 505.17 L522.94 502.19 L519.2 497.56 L515.58 495.72 L513.68 495.08 L514.63 492.23 L515.58 488.42 Z"/></clipPath>
<clipPath id="fri"><rect x="484.5" y="451" width="190.29" height="158.57"/></clipPath></defs>
<g clip-path="url(#landi)"><g filter="url(#bl)">
<rect x="509.57" y="457.04" width="13.29" height="6.94" fill="#f0d898"/>
<rect x="522.26" y="457.04" width="13.29" height="6.94" fill="#5090f8"/>
<rect x="534.94" y="457.04" width="140.15" height="6.94" fill="#2000f8"/>
<rect x="509.57" y="463.39" width="13.29" height="6.94" fill="#f0d898"/>
<rect x="522.26" y="463.39" width="6.94" height="6.94" fill="#5090f8"/>
<rect x="528.6" y="463.39" width="6.94" height="6.94" fill="#f0fcfc"/>
<rect x="534.94" y="463.39" width="140.15" height="6.94" fill="#2000f8"/>
<rect x="509.57" y="469.73" width="13.29" height="6.94" fill="#b0f8fc"/>
<rect x="522.26" y="469.73" width="6.94" height="6.94" fill="#5090f8"/>
<rect x="528.6" y="469.73" width="13.29" height="6.94" fill="#f0fcfc"/>
<rect x="541.29" y="469.73" width="133.8" height="6.94" fill="#2000f8"/>
<rect x="509.57" y="476.07" width="25.97" height="6.94" fill="#5090f8"/>
<rect x="534.94" y="476.07" width="6.94" height="6.94" fill="#b0f8fc"/>
<rect x="541.29" y="476.07" width="133.8" height="6.94" fill="#2000f8"/>
<rect x="509.57" y="482.41" width="25.97" height="6.94" fill="#5090f8"/>
<rect x="534.94" y="482.41" width="6.94" height="6.94" fill="#b0f8fc"/>
<rect x="541.29" y="482.41" width="13.29" height="6.94" fill="#5090f8"/>
<rect x="553.97" y="482.41" width="121.12" height="6.94" fill="#2000f8"/>
<rect x="509.57" y="488.76" width="25.97" height="6.94" fill="#5090f8"/>
<rect x="534.94" y="488.76" width="13.29" height="6.94" fill="#b0f8fc"/>
<rect x="547.63" y="488.76" width="13.29" height="6.94" fill="#5090f8"/>
<rect x="560.32" y="488.76" width="114.77" height="6.94" fill="#2000f8"/>
<rect x="509.57" y="495.1" width="19.63" height="6.94" fill="#5090f8"/>
<rect x="528.6" y="495.1" width="25.97" height="6.94" fill="#b0f8fc"/>
<rect x="553.97" y="495.1" width="13.29" height="6.94" fill="#5090f8"/>
<rect x="566.66" y="495.1" width="108.43" height="6.94" fill="#2000f8"/>
<rect x="509.57" y="501.44" width="25.97" height="6.94" fill="#b0f8fc"/>
<rect x="534.94" y="501.44" width="6.94" height="6.94" fill="#5090f8"/>
<rect x="541.29" y="501.44" width="6.94" height="6.94" fill="#b0f8fc"/>
<rect x="547.63" y="501.44" width="19.63" height="6.94" fill="#5090f8"/>
<rect x="566.66" y="501.44" width="108.43" height="6.94" fill="#2000f8"/>
<rect x="509.57" y="507.79" width="25.97" height="6.94" fill="#b0f8fc"/>
<rect x="534.94" y="507.79" width="19.63" height="6.94" fill="#5090f8"/>
<rect x="553.97" y="507.79" width="13.29" height="6.94" fill="#2000f8"/>
<rect x="566.66" y="507.79" width="6.94" height="6.94" fill="#5090f8"/>
<rect x="573" y="507.79" width="102.09" height="6.94" fill="#2000f8"/>
<rect x="509.57" y="514.13" width="45" height="6.94" fill="#5090f8"/>
<rect x="553.97" y="514.13" width="121.12" height="6.94" fill="#2000f8"/>
<rect x="509.57" y="520.47" width="38.66" height="6.94" fill="#5090f8"/>
<rect x="547.63" y="520.47" width="102.09" height="6.94" fill="#2000f8"/>
<rect x="649.12" y="520.47" width="25.97" height="6.94" fill="#5090f8"/>
<rect x="509.57" y="526.82" width="38.66" height="6.94" fill="#5090f8"/>
<rect x="547.63" y="526.82" width="102.09" height="6.94" fill="#2000f8"/>
<rect x="649.12" y="526.82" width="25.97" height="6.94" fill="#5090f8"/>
<rect x="509.57" y="533.16" width="45" height="6.94" fill="#5090f8"/>
<rect x="553.97" y="533.16" width="95.74" height="6.94" fill="#2000f8"/>
<rect x="649.12" y="533.16" width="25.97" height="6.94" fill="#5090f8"/>
<rect x="509.57" y="539.5" width="51.34" height="6.94" fill="#5090f8"/>
<rect x="560.32" y="539.5" width="114.77" height="6.94" fill="#2000f8"/>
<rect x="509.57" y="545.85" width="45" height="6.94" fill="#5090f8"/>
<rect x="553.97" y="545.85" width="121.12" height="6.94" fill="#2000f8"/>
<rect x="509.57" y="552.19" width="45" height="6.94" fill="#5090f8"/>
<rect x="553.97" y="552.19" width="121.12" height="6.94" fill="#2000f8"/>
<rect x="509.57" y="558.53" width="51.34" height="6.94" fill="#5090f8"/>
<rect x="560.32" y="558.53" width="114.77" height="6.94" fill="#2000f8"/>
<rect x="509.57" y="564.87" width="64.03" height="6.94" fill="#5090f8"/>
<rect x="573" y="564.87" width="102.09" height="6.94" fill="#2000f8"/>
<rect x="509.57" y="571.22" width="64.03" height="6.94" fill="#5090f8"/>
<rect x="573" y="571.22" width="102.09" height="6.94" fill="#2000f8"/>
<rect x="509.57" y="577.56" width="57.69" height="6.94" fill="#5090f8"/>
<rect x="566.66" y="577.56" width="108.43" height="6.94" fill="#2000f8"/>
<rect x="509.57" y="583.9" width="64.03" height="6.94" fill="#5090f8"/>
<rect x="573" y="583.9" width="102.09" height="6.94" fill="#2000f8"/>
<rect x="509.57" y="590.25" width="64.03" height="6.94" fill="#5090f8"/>
<rect x="573" y="590.25" width="102.09" height="6.94" fill="#2000f8"/>
</g>
<g clip-path="url(#landi)">
<g  stroke="#f42828" stroke-width="1.0" fill="none">
<path d="M327.96 609.58 L486.53 451 M336.01 609.58 L494.58 451 M344.06 609.58 L502.64 451 M352.11 609.58 L510.69 451 M360.16 609.58 L518.74 451 M368.22 609.58 L526.79 451 M376.27 609.58 L534.84 451 M384.32 609.58 L542.9 451 M392.37 609.58 L550.95 451 M400.42 609.58 L559 451 M408.48 609.58 L567.05 451 M416.53 609.58 L575.1 451 M424.58 609.58 L583.16 451 M432.63 609.58 L591.21 451 M440.68 609.58 L599.26 451 M448.74 609.58 L607.31 451 M456.79 609.58 L615.36 451 M464.84 609.58 L623.42 451 M472.89 609.58 L631.47 451 M480.94 609.58 L639.52 451 M489 609.58 L647.57 451 M497.05 609.58 L655.62 451 M505.1 609.58 L663.68 451 M513.15 609.58 L671.73 451 M521.2 609.58 L679.78 451 M529.26 609.58 L687.83 451 M537.31 609.58 L695.88 451 M545.36 609.58 L703.94 451 M553.41 609.58 L711.99 451 M561.46 609.58 L720.04 451 M569.52 609.58 L728.09 451 M577.57 609.58 L736.14 451 M585.62 609.58 L744.2 451 M593.67 609.58 L752.25 451 M601.72 609.58 L760.3 451 M609.78 609.58 L768.35 451 M617.83 609.58 L776.4 451 M625.88 609.58 L784.46 451 M633.93 609.58 L792.51 451 M641.98 609.58 L800.56 451 M650.04 609.58 L808.61 451 M658.09 609.58 L816.66 451 M666.14 609.58 L824.72 451 M674.19 609.58 L832.77 451"/>
</g></g>
<clipPath id="hi1"><path d="M552.37 485.25 L575.2 483.35 L595.5 481.45 L674.79 501.74 L674.79 596.89 L566.96 596.89 L555.54 550.59 L552.37 535.36 L549.2 523.31 L547.93 505.55 Z"/></clipPath>
<g clip-path="url(#landi)">
<g clip-path="url(#hi1)" stroke="#f42828" stroke-width="1.0" fill="none">
<path d="M324.37 451 L482.94 609.58 M332.42 451 L491 609.58 M340.47 451 L499.05 609.58 M348.52 451 L507.1 609.58 M356.58 451 L515.15 609.58 M364.63 451 L523.2 609.58 M372.68 451 L531.26 609.58 M380.73 451 L539.31 609.58 M388.78 451 L547.36 609.58 M396.84 451 L555.41 609.58 M404.89 451 L563.46 609.58 M412.94 451 L571.52 609.58 M420.99 451 L579.57 609.58 M429.04 451 L587.62 609.58 M437.1 451 L595.67 609.58 M445.15 451 L603.72 609.58 M453.2 451 L611.78 609.58 M461.25 451 L619.83 609.58 M469.3 451 L627.88 609.58 M477.36 451 L635.93 609.58 M485.41 451 L643.98 609.58 M493.46 451 L652.04 609.58 M501.51 451 L660.09 609.58 M509.56 451 L668.14 609.58 M517.62 451 L676.19 609.58 M525.67 451 L684.24 609.58 M533.72 451 L692.3 609.58 M541.77 451 L700.35 609.58 M549.82 451 L708.4 609.58 M557.88 451 L716.45 609.58 M565.93 451 L724.5 609.58 M573.98 451 L732.56 609.58 M582.03 451 L740.61 609.58 M590.08 451 L748.66 609.58 M598.14 451 L756.71 609.58 M606.19 451 L764.76 609.58 M614.24 451 L772.82 609.58 M622.29 451 L780.87 609.58 M630.34 451 L788.92 609.58 M638.4 451 L796.97 609.58 M646.45 451 L805.02 609.58 M654.5 451 L813.08 609.58 M662.55 451 L821.13 609.58 M670.6 451 L829.18 609.58"/>
</g></g>
<path d="M529.22 473.2 L535.43 479.29 L534.29 482.91 L539.43 485.13 L546.66 483.6 L546.66 479.99 L543.49 475.1 L537.15 472.57 Z" fill="#fff"/>
</g>
<g clip-path="url(#fri)" fill="none" stroke="#000" stroke-linejoin="round">
<path d="M483.87 475.1 L487.67 473.9 L491.41 473.01 L494.65 473.45 L496.04 475.8 L497.88 476.25 L499.28 475.36 L502.51 475.17 L508.1 474.85 L510.89 473.01 L513.68 468.82 L516.47 463.24 L519.2 457.72 L521.1 453.98 L521.54 450.37" stroke-width="1.3"/>
<path d="M497.82 450.37 L498.77 451.95 L500.23 452.78 L503.47 453.54 L506.26 452.27 L507.97 451.63 L509.49 450.37" stroke-width="1.3"/>
<path d="M515.58 486.01 L514.57 489.25 L512.73 493.88 L511.46 496.99 L510.89 495.72 L507.14 492.48 L503.91 488.3 L500.99 482.91 L499.72 482.91 L499.28 483.22 L502.51 489.25 L506.26 493.88 L509.05 496.67 L511.77 502.19 L515.52 510.56 L519.32 519.95 L521.29 521.41 L520.02 523.94 L520.85 525.91 L524.46 530.29 L528.33 533.46 L529.03 539.42 L530.55 545.38 L530.8 550.59 L532.07 554.39 L535.88 557.37 L539.05 561.37 L541.02 563.33 L542.54 570.82 L545.52 576.02 L549.2 577.86 L553 579.07 L558.97 582.81 L563.47 586.55 L567.97 591.75 L569.43 596.25 L567.21 598.47 L569.43 601.46 L575.46 606.72 L581.42 605.77 L589.54 603.55 L596.14 601.96 L603.75 601.33 L611.99 599.43 L615.17 598.16 L617.58 597.52 L619.29 597.84 L618.34 601.08 L618.97 605.77 L619.92 607.04 L618.34 608.31 L617.7 610.84" stroke-width="1.3"/>
<path d="M598.67 482.71 L601.85 480.18 L604.57 479.54 L608.19 482.08 L610.92 481.83 L613.71 484.74 L615.8 487.79 L617.32 491.09 L620.05 496.04 L625.7 498.07 L631.34 501.62 L635.53 503.01 L639.9 504.28 L642.63 504.28 L646.88 502.06 L649.61 501.43 L652.46 500.92 L655.95 503.65 L657.35 508.59 L660.84 510.31 L663.63 509.99 L669.27 511.45 L674.16 512.08 L676.06 512.53" stroke-width="1.3"/>
<path d="M614.21 506.5 L615.29 506.5 L615.17 509.04 L614.53 508.72 Z" stroke-width="1" fill="#fff"/>
<path d="M666.54 541.7 L668.13 542.97 L667.18 545.19 L665.91 543.61 Z" stroke-width="1" fill="#fff"/>
<path d="M547.3 544.88 L549.83 546.78 L551.74 550.59 L549.83 549.32 L547.61 546.46 Z" stroke-width="1" fill="#fff"/>
<path d="M553 553.12 L555.54 556.29 L554.27 556.93 L552.37 554.39 Z" stroke-width="1" fill="#fff"/>
<path d="M630.71 593.08 L632.93 591.81 L636.1 592.13 L639.27 592.32 L640.85 593.4 L638.63 594.99 L634.83 595.3 L632.29 594.35 Z" stroke-width="0.8" fill="#000"/>
<path d="M623.73 594.67 L624.68 593.08 L626.58 594.99 L625.31 596.25 Z" stroke-width="0.8" fill="#000"/>
<path d="M629.12 595.3 L631.97 595.3 L631.02 596.57 L629.44 596.38 Z" stroke-width="0.8" fill="#000"/>
<path d="M556.18 562.32 L559.35 561.69 L561.88 563.59 L562.84 566.44 L561.57 568.98 L558.71 568.98 L556.49 566.44 Z" stroke-width="0.8" fill="#000"/>
<path d="M562.52 567.71 L564.42 567.08 L565.37 569.61 L565.06 572.15 L563.79 572.15 L562.84 570.25 Z" stroke-width="0.8" fill="#000"/>
<path d="M563.79 582.93 L565.37 583.25 L566.01 585.79 L564.42 586.74 L563.79 584.84 Z" stroke-width="0.8" fill="#000"/>
<circle cx="564.42" cy="575.32" r="0.51" fill="#000" stroke="none"/>
<circle cx="527.63" cy="509.99" r="0.5" fill="#000" stroke="none"/>
<circle cx="529.54" cy="512.53" r="0.5" fill="#000" stroke="none"/>
<circle cx="540.95" cy="530.92" r="0.5" fill="#000" stroke="none"/>
<circle cx="558.08" cy="571.52" r="0.57" fill="#000" stroke="none"/>
<circle cx="560.62" cy="575.32" r="0.57" fill="#000" stroke="none"/>
<circle cx="555.54" cy="561.37" r="0.5" fill="#000" stroke="none"/>
<circle cx="553.64" cy="558.2" r="0.5" fill="#000" stroke="none"/>
<circle cx="627.22" cy="518.87" r="0.51" fill="#000" stroke="none"/>
<circle cx="631.02" cy="519.19" r="0.51" fill="#000" stroke="none"/>
<circle cx="636.73" cy="518.24" r="0.5" fill="#000" stroke="none"/>
<circle cx="636.41" cy="504.73" r="0.5" fill="#000" stroke="none"/>
<circle cx="632.29" cy="504.28" r="0.5" fill="#000" stroke="none"/>
<circle cx="625.31" cy="518.24" r="0.5" fill="#000" stroke="none"/>
<circle cx="622.78" cy="518.55" r="0.5" fill="#000" stroke="none"/>
<circle cx="634.19" cy="518.55" r="0.5" fill="#000" stroke="none"/>
<circle cx="638" cy="517.28" r="0.5" fill="#000" stroke="none"/>
<path d="M542.6 468.95 L528.58 472.82 L534.8 479.42 L531.82 482.14 L527 483.6 L524.08 486.01 L518.12 486.52 L515.9 486.65" stroke-width="1.8"/>
<path d="M589.48 488.42 L595.19 491.91 L601.34 491.98" stroke-width="1.25"/>
<path d="M621.51 519.19 L624.05 522.68 L627.85 527.43 L644.34 529.02" stroke-width="1.25"/>
<path d="M644.34 529.02 L647.32 533.46 L644.85 540.69 L643.08 546.14 L625.31 552.81" stroke-width="1.25"/>
<path d="M644.34 529.02 L646.25 523.31 L647.64 518.87 L649.61 513.42 L650.31 510.62" stroke-width="1.25"/>
<path d="M625.31 552.81 L611.99 554.07 L605.02 555.03 L597.41 557.56 L592.33 564.54 L584.4 563.33 L576.47 562.76 L569.5 562.57 L567.97 561.81 L566.96 564.54 L566.01 567.71" stroke-width="1.25"/>
<path d="M625.31 552.81 L629.75 565.87" stroke-width="1.25"/>
<path d="M515.96 486.39 L517.36 482.71 L518.75 477.01 L519.39 473.2 L519.7 468.76 L520.34 465.27 L524.46 467.17 L527.95 467.81 L532.45 465.02 L540.19 461.15 L541.97 468 L542.6 468.95 L550.47 470.66 L561.25 475.74 L577.74 487.79 L589.48 488.42 L593.35 482.4 L596.77 482.08 L599.94 482.59 L598.99 485.25 L597.72 486.2 L599.31 487.16 L601.34 491.91 L602.48 494.77 L604.38 496.99 L606.92 498.89 L609.14 501.11 L611.36 503.01 L612.31 504.6 L611.68 506.82 L612.63 509.04 L613.58 510.94 L614.85 513.16 L616.43 516.02 L616.43 512.53 L617.07 509.99 L618.02 507.77 L619.29 507.14 L620.87 508.4 L621.51 512.53 L621.51 515.38 L620.24 517.28 L621.51 519.19 L622.78 520.46 L625.31 520.14 L628.49 519.5 L632.29 520.14 L635.46 518.87 L639.27 518.24 L641.17 516.02 L643.71 514.11 L646.25 512.21 L648.15 510.31 L649.74 508.09 L650.69 506.18 L651.76 505.42 L652.27 506.82 L651.32 508.72 L651.64 511.89 L651.64 514.75 L652.59 516.97 L654.49 518.87 L657.66 521.09 L660.84 522.36 L663.63 522.99 L665.91 523.31 L667.81 525.85 L669.72 528.38 L671.62 529.65 L673.52 530.29 L671.94 534.41 L668.83 539.17 L666.86 541.39 L665.02 542.21 L661.85 544.56 L660.33 548.37 L661.22 551.41 L658.11 553.82 L652.65 556.17 L648.78 559.21 L644.15 561.5 L641.05 564.67 L636.73 565.49 L633.24 566.19 L626.9 568.73 L625.63 573.1 L621.51 574.37 L617.89 575.2 L613.26 577.86 L608.19 579.51 L603.11 583.57 L598.17 583.82 L593.6 586.11 L589.54 587.37 L584.09 588.33 L579.9 591.5 L576.47 592.13 L573.94 592.77 L569.81 592.77 L568.67 588.77 L567.97 582.81 L566.64 579.13 L566.45 576.78 L565.37 573.42 L566.45 569.3 L565.69 566.32 L563.47 562.57 L559.03 558.2 L554.59 552.17 L550.78 546.78 L545.71 541.07 L542.22 536 L541.59 531.56 L540.32 529.02 L537.46 523.31 L535.05 519.95 L530.49 513.8 L528.52 511.51 L526.36 507.77 L524.78 505.17 L522.94 502.19 L519.2 497.56 L515.58 495.72 L513.68 495.08 L514.63 492.23 L515.58 488.42 Z" stroke-width="1.9"/>
</g>
<rect x="484.5" y="451" width="190.29" height="158.57" fill="none" stroke="#222" stroke-width="1"/>
<path d="M484.5 608.78 v4.6 M516.22 608.78 v4.6 M547.93 608.78 v4.6 M579.64 608.78 v4.6 M611.36 608.78 v4.6 M643.08 608.78 v4.6 M674.79 608.78 v4.6 M485.1 609.58 h-4.8 M485.1 577.86 h-4.8 M485.1 546.14 h-4.8 M485.1 514.43 h-4.8 M485.1 482.71 h-4.8 M485.1 451 h-4.8" stroke="#111" stroke-width="1.2" fill="none"/>
<path d="M490.84 609.58 v2.2 M503.53 609.58 v2.2 M528.9 609.58 v2.2 M541.59 609.58 v2.2 M554.27 609.58 v2.2 M566.96 609.58 v2.2 M592.33 609.58 v2.2 M605.02 609.58 v2.2 M617.7 609.58 v2.2 M630.39 609.58 v2.2 M655.76 609.58 v2.2 M668.45 609.58 v2.2" stroke="#222" stroke-width="1" fill="none"/>
<g font-size="9.2" fill="#222"><text transform="translate(484.5 626.78) scale(1 1.08)" text-anchor="middle">30E</text><text transform="translate(516.22 626.78) scale(1 1.08)" text-anchor="middle">35E</text><text transform="translate(547.93 626.78) scale(1 1.08)" text-anchor="middle">40E</text><text transform="translate(579.64 626.78) scale(1 1.08)" text-anchor="middle">45E</text><text transform="translate(611.36 626.78) scale(1 1.08)" text-anchor="middle">50E</text><text transform="translate(643.08 626.78) scale(1 1.08)" text-anchor="middle">55E</text><text transform="translate(674.79 626.78) scale(1 1.08)" text-anchor="middle">60E</text><text transform="translate(475.2 612.58) scale(1 1.08)" text-anchor="end">10N</text><text transform="translate(475.2 580.86) scale(1 1.08)" text-anchor="end">15N</text><text transform="translate(475.2 549.14) scale(1 1.08)" text-anchor="end">20N</text><text transform="translate(475.2 517.43) scale(1 1.08)" text-anchor="end">25N</text><text transform="translate(475.2 485.71) scale(1 1.08)" text-anchor="end">30N</text><text transform="translate(475.2 454) scale(1 1.08)" text-anchor="end">35N</text></g>
<text x="484.4" y="446.9" font-size="11.1" font-weight="bold" fill="#111">i) SSP5-8.5: 2070-2099</text>
<rect x="41.6" y="187.8" width="22.75" height="8.6" fill="#ffffff"/>
<rect x="64.3" y="187.8" width="22.75" height="8.6" fill="#f8e4e4"/>
<rect x="87" y="187.8" width="22.75" height="8.6" fill="#f8d0d8"/>
<rect x="109.7" y="187.8" width="22.75" height="8.6" fill="#f0a0a8"/>
<rect x="132.4" y="187.8" width="22.75" height="8.6" fill="#f84858"/>
<rect x="155.1" y="187.8" width="22.75" height="8.6" fill="#f82010"/>
<rect x="177.8" y="187.8" width="22.75" height="8.6" fill="#f86020"/>
<rect x="200.5" y="187.8" width="22.75" height="8.6" fill="#f09028"/>
<rect x="223.2" y="187.8" width="22.75" height="8.6" fill="#f0c838"/>
<rect x="245.9" y="187.8" width="22.75" height="8.6" fill="#f8f838"/>
<rect x="268.6" y="187.8" width="22.75" height="8.6" fill="#38f010"/>
<rect x="291.3" y="187.8" width="22.75" height="8.6" fill="#48e878"/>
<rect x="314" y="187.8" width="22.75" height="8.6" fill="#48a0d0"/>
<rect x="336.7" y="187.8" width="22.75" height="8.6" fill="#1010f0"/>
<path d="M64.3 187.8 v8.6 M87 187.8 v8.6 M109.7 187.8 v8.6 M132.4 187.8 v8.6 M155.1 187.8 v8.6 M177.8 187.8 v8.6 M200.5 187.8 v8.6 M223.2 187.8 v8.6 M245.9 187.8 v8.6 M268.6 187.8 v8.6 M291.3 187.8 v8.6 M314 187.8 v8.6 M336.7 187.8 v8.6" stroke="#111" stroke-width="0.9"/>
<rect x="41.6" y="187.8" width="317.8" height="8.6" fill="none" stroke="#222" stroke-width="1"/>
<text transform="translate(64.3 207.2) scale(1 1.05)" font-size="10.9" text-anchor="middle" fill="#111">2</text>
<text transform="translate(87 207.2) scale(1 1.05)" font-size="10.9" text-anchor="middle" fill="#111">3</text>
<text transform="translate(109.7 207.2) scale(1 1.05)" font-size="10.9" text-anchor="middle" fill="#111">4</text>
<text transform="translate(132.4 207.2) scale(1 1.05)" font-size="10.9" text-anchor="middle" fill="#111">5</text>
<text transform="translate(155.1 207.2) scale(1 1.05)" font-size="10.9" text-anchor="middle" fill="#111">6</text>
<text transform="translate(177.8 207.2) scale(1 1.05)" font-size="10.9" text-anchor="middle" fill="#111">8</text>
<text transform="translate(200.5 207.2) scale(1 1.05)" font-size="10.9" text-anchor="middle" fill="#111">10</text>
<text transform="translate(223.2 207.2) scale(1 1.05)" font-size="10.9" text-anchor="middle" fill="#111">12</text>
<text transform="translate(245.9 207.2) scale(1 1.05)" font-size="10.9" text-anchor="middle" fill="#111">16</text>
<text transform="translate(268.6 207.2) scale(1 1.05)" font-size="10.9" text-anchor="middle" fill="#111">20</text>
<text transform="translate(291.3 207.2) scale(1 1.05)" font-size="10.9" text-anchor="middle" fill="#111">25</text>
<text transform="translate(314 207.2) scale(1 1.05)" font-size="10.9" text-anchor="middle" fill="#111">30</text>
<text transform="translate(336.7 207.2) scale(1 1.05)" font-size="10.9" text-anchor="middle" fill="#111">40</text>
<text transform="translate(201 216.5) scale(1 1.1)" font-size="9.95" font-weight="bold" text-anchor="middle" fill="#111">[Total Events: 1985-2014]</text>
<rect x="463.4" y="188.3" width="15.16" height="8.6" fill="#a8182a"/>
<rect x="478.51" y="188.3" width="15.16" height="8.6" fill="#d82038"/>
<rect x="493.63" y="188.3" width="15.16" height="8.6" fill="#f03840"/>
<rect x="508.74" y="188.3" width="15.16" height="8.6" fill="#f07858"/>
<rect x="523.86" y="188.3" width="15.16" height="8.6" fill="#f0a878"/>
<rect x="538.97" y="188.3" width="15.16" height="8.6" fill="#f4f0b8"/>
<rect x="554.09" y="188.3" width="15.16" height="8.6" fill="#f8fce8"/>
<rect x="569.2" y="188.3" width="15.16" height="8.6" fill="#f0fcfc"/>
<rect x="584.31" y="188.3" width="15.16" height="8.6" fill="#b0f8f8"/>
<rect x="599.43" y="188.3" width="15.16" height="8.6" fill="#88e0f8"/>
<rect x="614.54" y="188.3" width="15.16" height="8.6" fill="#68a8f8"/>
<rect x="629.66" y="188.3" width="15.16" height="8.6" fill="#5088f0"/>
<rect x="644.77" y="188.3" width="15.16" height="8.6" fill="#2000f0"/>
<rect x="659.89" y="188.3" width="15.16" height="8.6" fill="#3800f0"/>
<path d="M478.51 188.3 v8.6 M493.63 188.3 v8.6 M508.74 188.3 v8.6 M523.86 188.3 v8.6 M538.97 188.3 v8.6 M554.09 188.3 v8.6 M569.2 188.3 v8.6 M584.31 188.3 v8.6 M599.43 188.3 v8.6 M614.54 188.3 v8.6 M629.66 188.3 v8.6 M644.77 188.3 v8.6 M659.89 188.3 v8.6" stroke="#111" stroke-width="0.9"/>
<rect x="463.4" y="188.3" width="211.6" height="8.6" fill="none" stroke="#222" stroke-width="1"/>
<text transform="translate(478.51 207.2) scale(1 1.05)" font-size="10.9" text-anchor="middle" fill="#111">-16</text>
<text transform="translate(508.74 207.2) scale(1 1.05)" font-size="10.9" text-anchor="middle" fill="#111">-8</text>
<text transform="translate(538.97 207.2) scale(1 1.05)" font-size="10.9" text-anchor="middle" fill="#111">-4</text>
<text transform="translate(569.2 207.2) scale(1 1.05)" font-size="10.9" text-anchor="middle" fill="#111">0</text>
<text transform="translate(599.43 207.2) scale(1 1.05)" font-size="10.9" text-anchor="middle" fill="#111">4</text>
<text transform="translate(629.66 207.2) scale(1 1.05)" font-size="10.9" text-anchor="middle" fill="#111">8</text>
<text transform="translate(659.89 207.2) scale(1 1.05)" font-size="10.9" text-anchor="middle" fill="#111">16</text>
<text transform="translate(569 216.5) scale(1 1.1)" font-size="9.95" font-weight="bold" text-anchor="middle" fill="#111">[BIAS: Events]</text>
<rect x="77" y="630.4" width="33.27" height="8.8" fill="#a81828"/>
<rect x="110.22" y="630.4" width="33.27" height="8.8" fill="#d82438"/>
<rect x="143.44" y="630.4" width="33.27" height="8.8" fill="#f82c38"/>
<rect x="176.66" y="630.4" width="33.27" height="8.8" fill="#f83c40"/>
<rect x="209.88" y="630.4" width="33.27" height="8.8" fill="#f0a878"/>
<rect x="243.09" y="630.4" width="33.27" height="8.8" fill="#f0d898"/>
<rect x="276.31" y="630.4" width="33.27" height="8.8" fill="#f0f0b8"/>
<rect x="309.53" y="630.4" width="33.27" height="8.8" fill="#f8f8e8"/>
<rect x="342.75" y="630.4" width="33.27" height="8.8" fill="#f0fcfc"/>
<rect x="375.97" y="630.4" width="33.27" height="8.8" fill="#b0f8fc"/>
<rect x="409.19" y="630.4" width="33.27" height="8.8" fill="#a8f0f8"/>
<rect x="442.41" y="630.4" width="33.27" height="8.8" fill="#88e0f8"/>
<rect x="475.62" y="630.4" width="33.27" height="8.8" fill="#5090f8"/>
<rect x="508.84" y="630.4" width="33.27" height="8.8" fill="#4058f8"/>
<rect x="542.06" y="630.4" width="33.27" height="8.8" fill="#2000f8"/>
<rect x="575.28" y="630.4" width="33.27" height="8.8" fill="#3400f8"/>
<path d="M110.22 630.4 v8.8 M143.44 630.4 v8.8 M176.66 630.4 v8.8 M209.88 630.4 v8.8 M243.09 630.4 v8.8 M276.31 630.4 v8.8 M309.53 630.4 v8.8 M342.75 630.4 v8.8 M375.97 630.4 v8.8 M409.19 630.4 v8.8 M442.41 630.4 v8.8 M475.62 630.4 v8.8 M508.84 630.4 v8.8 M542.06 630.4 v8.8 M575.28 630.4 v8.8" stroke="#111" stroke-width="0.9"/>
<rect x="77" y="630.4" width="531.5" height="8.8" fill="none" stroke="#222" stroke-width="1"/>
<text transform="translate(110.22 650) scale(1 1.08)" font-size="10.9" text-anchor="middle" fill="#111">-100</text>
<text transform="translate(143.44 650) scale(1 1.08)" font-size="10.9" text-anchor="middle" fill="#111">-70</text>
<text transform="translate(176.66 650) scale(1 1.08)" font-size="10.9" text-anchor="middle" fill="#111">-50</text>
<text transform="translate(209.88 650) scale(1 1.08)" font-size="10.9" text-anchor="middle" fill="#111">-30</text>
<text transform="translate(243.09 650) scale(1 1.08)" font-size="10.9" text-anchor="middle" fill="#111">-20</text>
<text transform="translate(276.31 650) scale(1 1.08)" font-size="10.9" text-anchor="middle" fill="#111">-10</text>
<text transform="translate(309.53 650) scale(1 1.08)" font-size="10.9" text-anchor="middle" fill="#111">-5</text>
<text transform="translate(342.75 650) scale(1 1.08)" font-size="10.9" text-anchor="middle" fill="#111">0</text>
<text transform="translate(375.97 650) scale(1 1.08)" font-size="10.9" text-anchor="middle" fill="#111">5</text>
<text transform="translate(409.19 650) scale(1 1.08)" font-size="10.9" text-anchor="middle" fill="#111">10</text>
<text transform="translate(442.41 650) scale(1 1.08)" font-size="10.9" text-anchor="middle" fill="#111">20</text>
<text transform="translate(475.62 650) scale(1 1.08)" font-size="10.9" text-anchor="middle" fill="#111">30</text>
<text transform="translate(508.84 650) scale(1 1.08)" font-size="10.9" text-anchor="middle" fill="#111">50</text>
<text transform="translate(542.06 650) scale(1 1.08)" font-size="10.9" text-anchor="middle" fill="#111">70</text>
<text transform="translate(575.28 650) scale(1 1.08)" font-size="10.9" text-anchor="middle" fill="#111">100</text>
<text transform="translate(345.1 659.4) scale(1 1.1)" font-size="9.78" font-weight="bold" text-anchor="middle" fill="#111">[Projected NEX-GDDP-MMM change in total extremes against hist. period: %]</text>
</svg></body></html>
